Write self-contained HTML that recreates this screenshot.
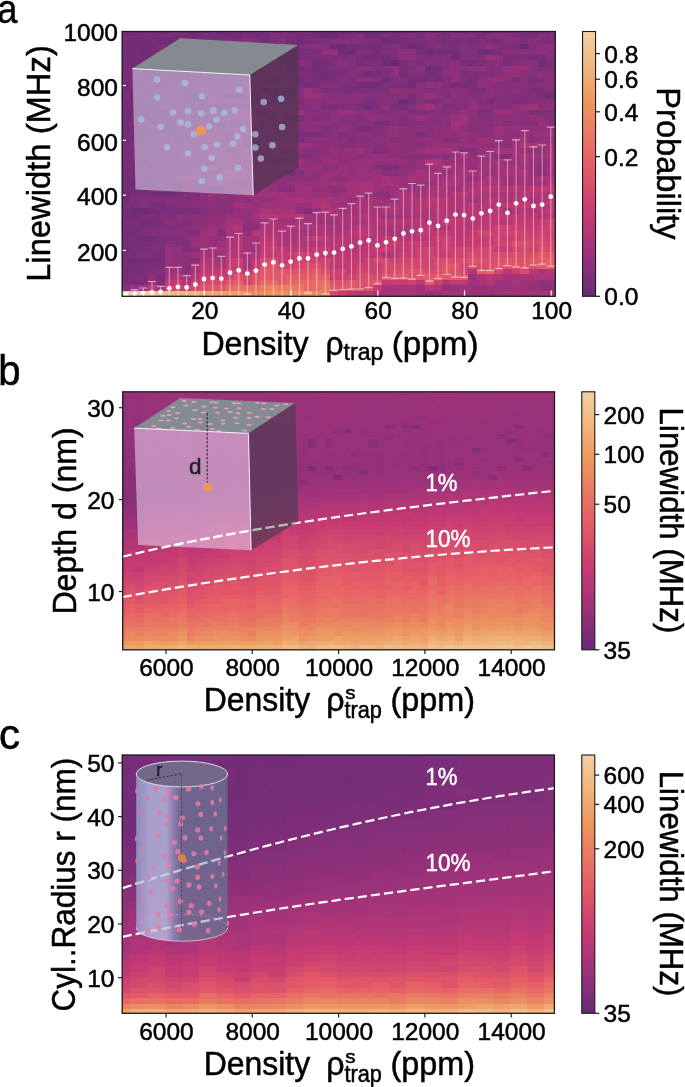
<!DOCTYPE html>
<html><head><meta charset="utf-8"><title>figure</title>
<style>html,body{margin:0;padding:0;background:#fff;width:685px;height:1087px;overflow:hidden;}
svg{display:block;font-family:"Liberation Sans", sans-serif;will-change:transform;}
text{stroke-width:0.5px;}</style></head>
<body>
<svg width="685" height="1087" viewBox="0 0 685 1087" font-family='"Liberation Sans", sans-serif'>
<defs>
<linearGradient id="cb" x1="0" y1="1" x2="0" y2="0"><stop offset="0" stop-color="#682a74"/><stop offset="0.03" stop-color="#702c78"/><stop offset="0.16" stop-color="#9c327a"/><stop offset="0.31" stop-color="#c63a73"/><stop offset="0.5" stop-color="#e65e66"/><stop offset="0.73" stop-color="#ec9660"/><stop offset="0.88" stop-color="#f0b880"/><stop offset="1" stop-color="#f4d0a5"/></linearGradient>
<clipPath id="ca"><rect x="122.1" y="31.5" width="433.2" height="264.8"/></clipPath>
<clipPath id="cbp"><rect x="122.7" y="391.8" width="431.8" height="258"/></clipPath>
<clipPath id="ccp"><rect x="122.2" y="755" width="432.2" height="258.3"/></clipPath>
<linearGradient id="cyl" x1="0" y1="0" x2="1" y2="0"><stop offset="0" stop-color="#96a3cf"/><stop offset="0.15" stop-color="#b5bce2"/><stop offset="0.33" stop-color="#b5bce2"/><stop offset="0.42" stop-color="#8b8ab6"/><stop offset="0.5" stop-color="#6e7192"/><stop offset="1" stop-color="#6a7190"/></linearGradient>
</defs>
<g clip-path="url(#ca)">
<path fill="#682a74" d="M191 27h9v6h-9zM321 33h9v5h-9zM390 60h9v6h-9zM486 27h8v6h-8z"/>
<path fill="#692a75" d="M191 60h9v6h-9zM217 44h9v5h-9zM364 27h9v6h-9zM520 44h9v5h-9z"/>
<path fill="#6b2b75" d="M200 60h8v6h-8zM234 33h9v5h-9zM338 27h9v6h-9z"/>
<path fill="#6c2b76" d="M148 110h8v5h-8zM156 110h9v5h-9zM156 66h9v5h-9zM156 60h9v6h-9zM182 71h9v6h-9zM278 49h8v6h-8zM338 44h9v5h-9zM347 49h9v6h-9zM399 99h9v5h-9zM425 66h9v5h-9z"/>
<path fill="#6d2b77" d="M139 208h9v6h-9zM165 60h9v6h-9zM191 115h9v6h-9zM295 38h9v6h-9zM330 33h8v5h-8zM373 27h9v6h-9zM382 60h8v6h-8zM382 38h8v6h-8zM399 27h9v6h-9zM408 44h8v5h-8zM425 49h9v6h-9z"/>
<path fill="#6f2c77" d="M122 115h8v6h-8zM130 208h9v6h-9zM130 27h9v6h-9zM139 181h9v5h-9zM139 159h9v6h-9zM139 132h9v5h-9zM139 104h9v6h-9zM139 99h9v5h-9zM139 60h9v6h-9zM139 44h9v5h-9zM148 60h8v6h-8zM148 44h8v5h-8zM156 121h9v5h-9zM156 38h9v6h-9zM165 126h9v6h-9zM165 110h9v5h-9zM165 55h9v5h-9zM165 38h9v6h-9zM191 38h9v6h-9zM217 66h9v5h-9zM217 33h9v5h-9zM226 66h8v5h-8zM226 33h8v5h-8zM252 143h8v5h-8zM312 66h9v5h-9zM330 44h8v5h-8zM364 33h9v5h-9zM382 55h8v5h-8zM390 38h9v6h-9zM546 93h9v6h-9z"/>
<path fill="#702c78" d="M122 269h8v5h-8zM122 176h8v5h-8zM122 110h8v5h-8zM122 82h8v6h-8zM122 49h8v6h-8zM122 44h8v5h-8zM130 258h9v5h-9zM139 137h9v6h-9zM139 93h9v6h-9zM139 49h9v6h-9zM148 93h8v6h-8zM148 66h8v5h-8zM156 192h9v5h-9zM165 192h9v5h-9zM182 88h9v5h-9zM182 27h9v6h-9zM208 55h9v5h-9zM208 44h9v5h-9zM234 104h9v6h-9zM234 71h9v6h-9zM278 55h8v5h-8zM330 27h8v6h-8zM338 49h9v6h-9zM364 104h9v6h-9zM364 82h9v6h-9zM364 71h9v6h-9zM408 27h8v6h-8zM434 66h8v5h-8zM451 55h9v5h-9zM451 27h9v6h-9zM486 49h8v6h-8zM494 27h9v6h-9zM529 27h9v6h-9zM538 27h8v6h-8z"/>
<path fill="#722c78" d="M122 241h8v6h-8zM122 186h8v6h-8zM122 181h8v5h-8zM122 170h8v6h-8zM122 137h8v6h-8zM122 126h8v6h-8zM130 104h9v6h-9zM130 99h9v5h-9zM130 49h9v6h-9zM130 38h9v6h-9zM139 27h9v6h-9zM148 165h8v5h-8zM148 121h8v5h-8zM148 115h8v6h-8zM148 71h8v6h-8zM156 203h9v5h-9zM156 115h9v6h-9zM156 27h9v6h-9zM174 71h8v6h-8zM182 60h9v6h-9zM191 49h9v6h-9zM191 33h9v5h-9zM200 27h8v6h-8zM208 104h9v6h-9zM217 104h9v6h-9zM217 27h9v6h-9zM226 104h8v6h-8zM226 44h8v5h-8zM260 38h9v6h-9zM269 49h9v6h-9zM295 33h9v5h-9zM304 82h8v6h-8zM312 60h9v6h-9zM312 33h9v5h-9zM356 27h8v6h-8zM364 55h9v5h-9zM373 49h9v6h-9zM382 77h8v5h-8zM408 82h8v6h-8zM416 44h9v5h-9zM434 49h8v6h-8zM442 49h9v6h-9zM477 49h9v6h-9zM538 60h8v6h-8zM538 55h8v5h-8z"/>
<path fill="#732c78" d="M122 247h8v5h-8zM122 236h8v5h-8zM122 214h8v5h-8zM122 197h8v6h-8zM122 192h8v5h-8zM122 99h8v5h-8zM122 55h8v5h-8zM122 33h8v5h-8zM130 186h9v6h-9zM130 181h9v5h-9zM130 176h9v5h-9zM130 137h9v6h-9zM130 132h9v5h-9zM130 110h9v5h-9zM130 93h9v6h-9zM130 88h9v5h-9zM130 82h9v6h-9zM130 66h9v5h-9zM130 60h9v6h-9zM130 55h9v5h-9zM130 33h9v5h-9zM139 236h9v5h-9zM139 115h9v6h-9zM139 110h9v5h-9zM139 66h9v5h-9zM139 55h9v5h-9zM148 236h8v5h-8zM148 208h8v6h-8zM148 154h8v5h-8zM148 104h8v6h-8zM156 93h9v6h-9zM156 82h9v6h-9zM165 44h9v5h-9zM174 137h8v6h-8zM182 93h9v6h-9zM182 66h9v5h-9zM191 93h9v6h-9zM200 104h8v6h-8zM200 55h8v5h-8zM200 38h8v6h-8zM208 121h9v5h-9zM226 93h8v6h-8zM252 99h8v5h-8zM252 44h8v5h-8zM252 33h8v5h-8zM260 44h9v5h-9zM260 33h9v5h-9zM286 88h9v5h-9zM286 66h9v5h-9zM295 77h9v5h-9zM295 66h9v5h-9zM321 71h9v6h-9zM330 71h8v6h-8zM382 27h8v6h-8zM390 27h9v6h-9zM399 71h9v6h-9zM408 77h8v5h-8zM425 71h9v6h-9zM434 77h8v5h-8zM451 49h9v6h-9zM468 60h9v6h-9z"/>
<path fill="#752d78" d="M122 258h8v5h-8zM122 208h8v6h-8zM122 165h8v5h-8zM122 132h8v5h-8zM122 88h8v5h-8zM122 66h8v5h-8zM122 60h8v6h-8zM122 38h8v6h-8zM130 230h9v6h-9zM130 214h9v5h-9zM130 115h9v6h-9zM130 44h9v5h-9zM139 258h9v5h-9zM139 219h9v6h-9zM139 186h9v6h-9zM139 71h9v6h-9zM139 38h9v6h-9zM148 181h8v5h-8zM148 159h8v6h-8zM148 99h8v5h-8zM148 49h8v6h-8zM156 148h9v6h-9zM156 55h9v5h-9zM165 148h9v6h-9zM165 121h9v5h-9zM165 82h9v6h-9zM174 44h8v5h-8zM182 132h9v5h-9zM182 33h9v5h-9zM208 77h9v5h-9zM208 71h9v6h-9zM208 60h9v6h-9zM208 33h9v5h-9zM226 71h8v6h-8zM226 49h8v6h-8zM234 93h9v6h-9zM234 44h9v5h-9zM243 49h9v6h-9zM243 44h9v5h-9zM243 33h9v5h-9zM260 27h9v6h-9zM269 77h9v5h-9zM278 44h8v5h-8zM286 60h9v6h-9zM286 55h9v5h-9zM286 38h9v6h-9zM312 71h9v6h-9zM321 77h9v5h-9zM321 60h9v6h-9zM338 33h9v5h-9zM347 44h9v5h-9zM356 82h8v6h-8zM356 55h8v5h-8zM356 44h8v5h-8zM373 82h9v6h-9zM373 71h9v6h-9zM373 44h9v5h-9zM373 33h9v5h-9zM390 33h9v5h-9zM416 77h9v5h-9zM416 49h9v6h-9zM442 33h9v5h-9zM451 82h9v6h-9zM468 77h9v5h-9zM503 27h9v6h-9zM520 33h9v5h-9zM529 55h9v5h-9zM529 33h9v5h-9z"/>
<path fill="#772d78" d="M122 274h8v6h-8zM122 263h8v6h-8zM122 143h8v5h-8zM130 252h9v6h-9zM130 148h9v6h-9zM139 241h9v6h-9zM139 176h9v5h-9zM139 154h9v5h-9zM148 137h8v6h-8zM148 132h8v5h-8zM148 38h8v6h-8zM148 33h8v5h-8zM148 27h8v6h-8zM156 208h9v6h-9zM156 154h9v5h-9zM156 143h9v5h-9zM156 126h9v6h-9zM156 71h9v6h-9zM165 99h9v5h-9zM165 71h9v6h-9zM174 126h8v6h-8zM174 66h8v5h-8zM174 38h8v6h-8zM174 33h8v5h-8zM182 208h9v6h-9zM182 77h9v5h-9zM191 99h9v5h-9zM191 66h9v5h-9zM200 115h8v6h-8zM200 99h8v5h-8zM200 66h8v5h-8zM217 121h9v5h-9zM217 93h9v6h-9zM217 71h9v6h-9zM226 27h8v6h-8zM243 55h9v5h-9zM252 27h8v6h-8zM278 93h8v6h-8zM286 33h9v5h-9zM295 82h9v6h-9zM304 49h8v6h-8zM304 33h8v5h-8zM304 27h8v6h-8zM312 77h9v5h-9zM321 66h9v5h-9zM347 88h9v5h-9zM364 44h9v5h-9zM373 55h9v5h-9zM399 104h9v6h-9zM399 82h9v6h-9zM399 38h9v6h-9zM425 77h9v5h-9zM434 71h8v6h-8zM442 27h9v6h-9zM460 82h8v6h-8zM460 27h8v6h-8zM468 38h9v6h-9zM477 27h9v6h-9zM486 99h8v5h-8zM512 99h8v5h-8zM538 66h8v5h-8z"/>
<path fill="#782d78" d="M122 280h8v5h-8zM122 230h8v6h-8zM122 225h8v5h-8zM122 159h8v6h-8zM122 154h8v5h-8zM122 148h8v6h-8zM122 121h8v5h-8zM122 104h8v6h-8zM122 77h8v5h-8zM122 71h8v6h-8zM122 27h8v6h-8zM130 280h9v5h-9zM130 269h9v5h-9zM130 263h9v6h-9zM130 247h9v5h-9zM130 241h9v6h-9zM130 225h9v5h-9zM130 165h9v5h-9zM130 159h9v6h-9zM130 126h9v6h-9zM130 77h9v5h-9zM139 269h9v5h-9zM139 263h9v6h-9zM139 214h9v5h-9zM139 170h9v6h-9zM139 88h9v5h-9zM139 82h9v6h-9zM139 33h9v5h-9zM148 258h8v5h-8zM148 192h8v5h-8zM148 170h8v6h-8zM148 148h8v6h-8zM148 82h8v6h-8zM156 258h9v5h-9zM156 252h9v6h-9zM156 33h9v5h-9zM165 154h9v5h-9zM165 93h9v6h-9zM165 66h9v5h-9zM165 27h9v6h-9zM174 186h8v6h-8zM174 132h8v5h-8zM174 110h8v5h-8zM174 99h8v5h-8zM174 93h8v6h-8zM174 88h8v5h-8zM174 60h8v6h-8zM174 55h8v5h-8zM182 38h9v6h-9zM191 126h9v6h-9zM191 121h9v5h-9zM191 77h9v5h-9zM191 55h9v5h-9zM200 159h8v6h-8zM200 126h8v6h-8zM200 77h8v5h-8zM200 33h8v5h-8zM208 88h9v5h-9zM208 66h9v5h-9zM208 27h9v6h-9zM217 55h9v5h-9zM217 38h9v6h-9zM234 55h9v5h-9zM243 66h9v5h-9zM243 27h9v6h-9zM252 49h8v6h-8zM260 99h9v5h-9zM260 49h9v6h-9zM269 93h9v6h-9zM286 170h9v6h-9zM286 49h9v6h-9zM286 44h9v5h-9zM295 137h9v6h-9zM304 66h8v5h-8zM304 38h8v6h-8zM321 27h9v6h-9zM347 27h9v6h-9zM356 60h8v6h-8zM382 121h8v5h-8zM390 104h9v6h-9zM399 44h9v5h-9zM408 99h8v5h-8zM416 33h9v5h-9zM416 27h9v6h-9zM442 38h9v6h-9zM460 60h8v6h-8zM468 82h9v6h-9zM477 33h9v5h-9zM494 38h9v6h-9zM503 55h9v5h-9zM512 55h8v5h-8zM529 88h9v5h-9z"/>
<path fill="#7a2d78" d="M122 252h8v6h-8zM130 236h9v5h-9zM130 203h9v5h-9zM130 192h9v5h-9zM130 71h9v6h-9zM139 247h9v5h-9zM139 225h9v5h-9zM148 241h8v6h-8zM148 219h8v6h-8zM148 143h8v5h-8zM148 88h8v5h-8zM156 236h9v5h-9zM156 181h9v5h-9zM156 165h9v5h-9zM156 132h9v5h-9zM156 99h9v5h-9zM156 44h9v5h-9zM165 208h9v6h-9zM165 186h9v6h-9zM165 181h9v5h-9zM165 115h9v6h-9zM174 208h8v6h-8zM174 192h8v5h-8zM174 77h8v5h-8zM182 137h9v6h-9zM182 115h9v6h-9zM182 99h9v5h-9zM182 55h9v5h-9zM182 49h9v6h-9zM182 44h9v5h-9zM191 208h9v6h-9zM191 104h9v6h-9zM191 82h9v6h-9zM217 49h9v6h-9zM226 82h8v6h-8zM234 154h9v5h-9zM234 66h9v5h-9zM243 93h9v6h-9zM252 66h8v5h-8zM252 55h8v5h-8zM260 88h9v5h-9zM269 88h9v5h-9zM269 38h9v6h-9zM278 27h8v6h-8zM295 115h9v6h-9zM295 49h9v6h-9zM304 55h8v5h-8zM312 132h9v5h-9zM312 82h9v6h-9zM312 55h9v5h-9zM312 27h9v6h-9zM321 38h9v6h-9zM330 104h8v6h-8zM330 77h8v5h-8zM338 71h9v6h-9zM347 82h9v6h-9zM347 33h9v5h-9zM356 104h8v6h-8zM364 99h9v5h-9zM373 121h9v5h-9zM373 38h9v6h-9zM382 71h8v6h-8zM390 82h9v6h-9zM399 66h9v5h-9zM399 60h9v6h-9zM399 33h9v5h-9zM434 38h8v6h-8zM451 44h9v5h-9zM451 38h9v6h-9zM460 71h8v6h-8zM477 88h9v5h-9zM486 38h8v6h-8zM494 49h9v6h-9zM503 60h9v6h-9zM512 44h8v5h-8zM529 77h9v5h-9zM546 38h9v6h-9zM546 27h9v6h-9z"/>
<path fill="#7c2e79" d="M122 219h8v6h-8zM122 203h8v5h-8zM139 274h9v6h-9zM139 230h9v6h-9zM139 165h9v5h-9zM139 148h9v6h-9zM139 126h9v6h-9zM139 77h9v5h-9zM148 203h8v5h-8zM148 55h8v5h-8zM156 219h9v6h-9zM156 176h9v5h-9zM156 104h9v6h-9zM156 77h9v5h-9zM156 49h9v6h-9zM165 236h9v5h-9zM165 176h9v5h-9zM165 132h9v5h-9zM165 88h9v5h-9zM165 49h9v6h-9zM165 33h9v5h-9zM174 170h8v6h-8zM174 165h8v5h-8zM174 104h8v6h-8zM174 82h8v6h-8zM174 27h8v6h-8zM182 192h9v5h-9zM182 121h9v5h-9zM191 230h9v6h-9zM191 181h9v5h-9zM191 159h9v6h-9zM191 110h9v5h-9zM200 181h8v5h-8zM208 38h9v6h-9zM217 82h9v6h-9zM226 132h8v5h-8zM234 77h9v5h-9zM234 49h9v6h-9zM243 99h9v5h-9zM252 71h8v6h-8zM260 77h9v5h-9zM260 66h9v5h-9zM260 60h9v6h-9zM269 55h9v5h-9zM278 159h8v6h-8zM278 60h8v6h-8zM286 71h9v6h-9zM304 71h8v6h-8zM312 38h9v6h-9zM330 60h8v6h-8zM338 88h9v5h-9zM356 88h8v5h-8zM373 88h9v5h-9zM373 60h9v6h-9zM382 165h8v5h-8zM382 82h8v6h-8zM382 44h8v5h-8zM390 55h9v5h-9zM408 93h8v6h-8zM408 38h8v6h-8zM416 132h9v5h-9zM416 60h9v6h-9zM416 38h9v6h-9zM425 27h9v6h-9zM460 77h8v5h-8zM460 55h8v5h-8zM468 88h9v5h-9zM468 71h9v6h-9zM477 71h9v6h-9zM520 55h9v5h-9zM538 93h8v6h-8zM538 88h8v5h-8zM546 33h9v5h-9z"/>
<path fill="#7e2e79" d="M122 93h8v6h-8zM130 274h9v6h-9zM130 219h9v6h-9zM130 170h9v6h-9zM130 154h9v5h-9zM130 143h9v5h-9zM130 121h9v5h-9zM139 192h9v5h-9zM139 121h9v5h-9zM148 263h8v6h-8zM148 252h8v6h-8zM148 247h8v5h-8zM148 225h8v5h-8zM148 176h8v5h-8zM148 126h8v6h-8zM156 274h9v6h-9zM156 263h9v6h-9zM156 247h9v5h-9zM156 214h9v5h-9zM156 170h9v6h-9zM156 159h9v6h-9zM156 88h9v5h-9zM165 170h9v6h-9zM165 159h9v6h-9zM174 181h8v5h-8zM174 148h8v6h-8zM174 121h8v5h-8zM174 49h8v6h-8zM182 219h9v6h-9zM182 165h9v5h-9zM182 126h9v6h-9zM182 104h9v6h-9zM182 82h9v6h-9zM191 88h9v5h-9zM200 176h8v5h-8zM200 154h8v5h-8zM208 115h9v6h-9zM217 77h9v5h-9zM217 60h9v6h-9zM226 148h8v6h-8zM226 38h8v6h-8zM234 60h9v6h-9zM252 148h8v6h-8zM260 110h9v5h-9zM260 71h9v6h-9zM269 115h9v6h-9zM269 27h9v6h-9zM278 33h8v5h-8zM286 115h9v6h-9zM286 93h9v6h-9zM295 71h9v6h-9zM295 55h9v5h-9zM295 27h9v6h-9zM304 132h8v5h-8zM304 77h8v5h-8zM312 49h9v6h-9zM321 104h9v6h-9zM321 55h9v5h-9zM330 55h8v5h-8zM338 104h9v6h-9zM338 55h9v5h-9zM356 126h8v6h-8zM356 71h8v6h-8zM364 126h9v6h-9zM364 88h9v5h-9zM364 38h9v6h-9zM373 104h9v6h-9zM434 33h8v5h-8zM434 27h8v6h-8zM442 44h9v5h-9zM468 49h9v6h-9zM477 60h9v6h-9zM503 44h9v5h-9zM512 27h8v6h-8zM520 27h9v6h-9zM538 38h8v6h-8zM546 66h9v5h-9zM546 60h9v6h-9z"/>
<path fill="#7f2e79" d="M130 197h9v6h-9zM139 252h9v6h-9zM148 186h8v6h-8zM148 77h8v5h-8zM156 241h9v6h-9zM156 225h9v5h-9zM156 186h9v6h-9zM156 137h9v6h-9zM165 225h9v5h-9zM165 165h9v5h-9zM165 137h9v6h-9zM165 77h9v5h-9zM174 154h8v5h-8zM182 241h9v6h-9zM182 197h9v6h-9zM191 71h9v6h-9zM200 121h8v5h-8zM208 186h9v6h-9zM208 159h9v6h-9zM208 126h9v6h-9zM208 82h9v6h-9zM208 49h9v6h-9zM217 186h9v6h-9zM217 126h9v6h-9zM234 121h9v5h-9zM243 143h9v5h-9zM252 77h8v5h-8zM260 148h9v6h-9zM269 60h9v6h-9zM269 44h9v5h-9zM278 132h8v5h-8zM278 66h8v5h-8zM286 148h9v6h-9zM286 132h9v5h-9zM286 104h9v6h-9zM286 82h9v6h-9zM286 77h9v5h-9zM286 27h9v6h-9zM295 132h9v5h-9zM321 126h9v6h-9zM330 88h8v5h-8zM330 66h8v5h-8zM338 132h9v5h-9zM338 82h9v6h-9zM338 66h9v5h-9zM364 60h9v6h-9zM364 49h9v6h-9zM373 148h9v6h-9zM382 110h8v5h-8zM382 88h8v5h-8zM382 49h8v6h-8zM382 33h8v5h-8zM399 115h9v6h-9zM408 110h8v5h-8zM408 66h8v5h-8zM425 44h9v5h-9zM425 38h9v6h-9zM434 60h8v6h-8zM442 104h9v6h-9zM442 93h9v6h-9zM442 77h9v5h-9zM460 38h8v6h-8zM468 44h9v5h-9zM477 110h9v5h-9zM477 38h9v6h-9zM512 60h8v6h-8zM512 33h8v5h-8zM520 99h9v5h-9zM520 93h9v6h-9zM520 38h9v6h-9zM529 93h9v6h-9zM538 110h8v5h-8zM538 77h8v5h-8zM546 110h9v5h-9z"/>
<path fill="#812e79" d="M139 280h9v5h-9zM139 143h9v5h-9zM148 269h8v5h-8zM148 214h8v5h-8zM148 197h8v6h-8zM156 280h9v5h-9zM165 214h9v5h-9zM165 203h9v5h-9zM165 104h9v6h-9zM174 236h8v5h-8zM174 225h8v5h-8zM182 247h9v5h-9zM182 170h9v6h-9zM182 148h9v6h-9zM182 110h9v5h-9zM191 192h9v5h-9zM191 165h9v5h-9zM191 143h9v5h-9zM191 137h9v6h-9zM191 44h9v5h-9zM200 93h8v6h-8zM200 88h8v5h-8zM200 49h8v6h-8zM200 44h8v5h-8zM208 176h9v5h-9zM208 143h9v5h-9zM208 93h9v6h-9zM217 88h9v5h-9zM226 121h8v5h-8zM234 38h9v6h-9zM234 27h9v6h-9zM260 55h9v5h-9zM269 33h9v5h-9zM278 71h8v6h-8zM286 137h9v6h-9zM295 99h9v5h-9zM295 44h9v5h-9zM304 154h8v5h-8zM304 60h8v6h-8zM312 115h9v6h-9zM321 132h9v5h-9zM321 88h9v5h-9zM330 93h8v6h-8zM347 137h9v6h-9zM347 77h9v5h-9zM356 115h8v6h-8zM373 126h9v6h-9zM373 99h9v5h-9zM373 66h9v5h-9zM382 66h8v5h-8zM390 165h9v5h-9zM390 77h9v5h-9zM390 49h9v6h-9zM399 121h9v5h-9zM416 110h9v5h-9zM416 55h9v5h-9zM425 99h9v5h-9zM425 55h9v5h-9zM434 99h8v5h-8zM434 55h8v5h-8zM442 82h9v6h-9zM451 104h9v6h-9zM468 33h9v5h-9zM468 27h9v6h-9zM486 71h8v6h-8zM486 66h8v5h-8zM494 44h9v5h-9zM503 121h9v5h-9zM512 93h8v6h-8zM512 77h8v5h-8zM529 110h9v5h-9zM529 82h9v6h-9zM529 44h9v5h-9z"/>
<path fill="#832f79" d="M139 197h9v6h-9zM156 230h9v6h-9zM156 197h9v6h-9zM165 230h9v6h-9zM165 143h9v5h-9zM174 219h8v6h-8zM174 203h8v5h-8zM174 197h8v6h-8zM191 197h9v6h-9zM191 148h9v6h-9zM191 132h9v5h-9zM200 208h8v6h-8zM200 82h8v6h-8zM200 71h8v6h-8zM226 110h8v5h-8zM226 77h8v5h-8zM226 60h8v6h-8zM243 77h9v5h-9zM243 71h9v6h-9zM243 60h9v6h-9zM252 137h8v6h-8zM252 82h8v6h-8zM260 154h9v5h-9zM269 132h9v5h-9zM278 104h8v6h-8zM278 99h8v5h-8zM278 82h8v6h-8zM278 38h8v6h-8zM286 176h9v5h-9zM286 99h9v5h-9zM304 104h8v6h-8zM312 110h9v5h-9zM321 115h9v6h-9zM321 82h9v6h-9zM330 82h8v6h-8zM330 38h8v6h-8zM338 93h9v6h-9zM347 132h9v5h-9zM347 104h9v6h-9zM347 71h9v6h-9zM347 55h9v5h-9zM356 137h8v6h-8zM356 33h8v5h-8zM364 121h9v5h-9zM373 143h9v5h-9zM373 77h9v5h-9zM382 148h8v6h-8zM390 121h9v5h-9zM390 99h9v5h-9zM416 99h9v5h-9zM425 110h9v5h-9zM425 88h9v5h-9zM442 55h9v5h-9zM460 49h8v6h-8zM460 44h8v5h-8zM468 148h9v6h-9zM468 93h9v6h-9zM468 55h9v5h-9zM477 99h9v5h-9zM486 110h8v5h-8zM486 33h8v5h-8zM494 66h9v5h-9zM503 88h9v5h-9zM503 82h9v6h-9zM503 38h9v6h-9zM520 121h9v5h-9zM529 71h9v6h-9zM529 66h9v5h-9zM529 49h9v6h-9zM546 88h9v5h-9zM546 55h9v5h-9z"/>
<path fill="#842f79" d="M156 269h9v5h-9zM165 197h9v6h-9zM174 159h8v6h-8zM174 115h8v6h-8zM182 230h9v6h-9zM182 181h9v5h-9zM182 159h9v6h-9zM182 143h9v5h-9zM191 219h9v6h-9zM200 165h8v5h-8zM200 148h8v6h-8zM200 137h8v6h-8zM217 137h9v6h-9zM217 132h9v5h-9zM217 110h9v5h-9zM217 99h9v5h-9zM234 181h9v5h-9zM243 137h9v6h-9zM243 126h9v6h-9zM243 121h9v5h-9zM243 88h9v5h-9zM252 110h8v5h-8zM252 93h8v6h-8zM252 88h8v5h-8zM252 38h8v6h-8zM269 159h9v6h-9zM269 121h9v5h-9zM278 186h8v6h-8zM278 88h8v5h-8zM286 154h9v5h-9zM286 121h9v5h-9zM295 170h9v6h-9zM295 121h9v5h-9zM312 148h9v6h-9zM321 44h9v5h-9zM330 121h8v5h-8zM338 77h9v5h-9zM338 38h9v6h-9zM347 121h9v5h-9zM347 66h9v5h-9zM347 60h9v6h-9zM356 99h8v5h-8zM356 49h8v6h-8zM356 38h8v6h-8zM364 137h9v6h-9zM364 93h9v6h-9zM373 165h9v5h-9zM373 93h9v6h-9zM382 170h8v6h-8zM390 44h9v5h-9zM408 71h8v6h-8zM416 154h9v5h-9zM416 121h9v5h-9zM416 88h9v5h-9zM416 71h9v6h-9zM425 60h9v6h-9zM434 110h8v5h-8zM434 88h8v5h-8zM442 110h9v5h-9zM442 66h9v5h-9zM442 60h9v6h-9zM468 126h9v6h-9zM477 132h9v5h-9zM477 44h9v5h-9zM494 99h9v5h-9zM503 99h9v5h-9zM503 33h9v5h-9zM529 38h9v6h-9zM538 33h8v5h-8zM546 115h9v6h-9z"/>
<path fill="#862f79" d="M148 230h8v6h-8zM174 241h8v6h-8zM174 143h8v5h-8zM182 225h9v5h-9zM182 203h9v5h-9zM200 203h8v5h-8zM200 186h8v6h-8zM208 170h9v6h-9zM208 110h9v5h-9zM217 143h9v5h-9zM234 82h9v6h-9zM243 159h9v6h-9zM243 104h9v6h-9zM260 82h9v6h-9zM269 137h9v6h-9zM269 99h9v5h-9zM269 66h9v5h-9zM295 154h9v5h-9zM295 126h9v6h-9zM295 104h9v6h-9zM304 208h8v6h-8zM304 148h8v6h-8zM312 88h9v5h-9zM321 110h9v5h-9zM347 143h9v5h-9zM356 121h8v5h-8zM373 110h9v5h-9zM382 93h8v6h-8zM390 93h9v6h-9zM399 77h9v5h-9zM408 121h8v5h-8zM408 60h8v6h-8zM408 33h8v5h-8zM416 143h9v5h-9zM425 154h9v5h-9zM434 121h8v5h-8zM434 115h8v6h-8zM442 137h9v6h-9zM442 88h9v5h-9zM451 137h9v6h-9zM460 148h8v6h-8zM460 104h8v6h-8zM460 99h8v5h-8zM477 55h9v5h-9zM486 115h8v6h-8zM486 104h8v6h-8zM494 104h9v6h-9zM494 93h9v6h-9zM503 154h9v5h-9zM503 104h9v6h-9zM503 93h9v6h-9zM512 38h8v6h-8zM529 60h9v6h-9zM538 99h8v5h-8z"/>
<path fill="#882f79" d="M139 203h9v5h-9zM165 241h9v6h-9zM182 214h9v5h-9zM191 203h9v5h-9zM191 154h9v5h-9zM200 143h8v5h-8zM200 132h8v5h-8zM200 110h8v5h-8zM208 137h9v6h-9zM208 132h9v5h-9zM208 99h9v5h-9zM217 208h9v6h-9zM217 203h9v5h-9zM217 159h9v6h-9zM217 115h9v6h-9zM226 154h8v5h-8zM226 137h8v6h-8zM226 88h8v5h-8zM226 55h8v5h-8zM234 126h9v6h-9zM234 115h9v6h-9zM234 88h9v5h-9zM243 225h9v5h-9zM243 154h9v5h-9zM260 126h9v6h-9zM269 71h9v6h-9zM278 121h8v5h-8zM295 93h9v6h-9zM304 44h8v5h-8zM321 148h9v6h-9zM321 99h9v5h-9zM330 126h8v6h-8zM330 99h8v5h-8zM338 143h9v5h-9zM338 60h9v6h-9zM347 93h9v6h-9zM347 38h9v6h-9zM356 110h8v5h-8zM373 132h9v5h-9zM382 126h8v6h-8zM390 137h9v6h-9zM390 115h9v6h-9zM390 110h9v5h-9zM399 154h9v5h-9zM408 104h8v6h-8zM416 82h9v6h-9zM425 132h9v5h-9zM434 44h8v5h-8zM451 99h9v5h-9zM451 60h9v6h-9zM451 33h9v5h-9zM460 66h8v5h-8zM477 77h9v5h-9zM486 132h8v5h-8zM494 88h9v5h-9zM494 82h9v6h-9zM494 60h9v6h-9zM512 49h8v6h-8zM520 88h9v5h-9zM520 77h9v5h-9zM520 71h9v6h-9zM520 49h9v6h-9zM529 121h9v5h-9zM529 99h9v5h-9zM546 82h9v6h-9zM546 49h9v6h-9z"/>
<path fill="#892f79" d="M122 285h8v6h-8zM165 219h9v6h-9zM174 230h8v6h-8zM182 263h9v6h-9zM182 236h9v5h-9zM182 186h9v6h-9zM191 186h9v6h-9zM191 170h9v6h-9zM200 197h8v6h-8zM208 148h9v6h-9zM217 230h9v6h-9zM217 148h9v6h-9zM234 99h9v5h-9zM243 181h9v5h-9zM252 154h8v5h-8zM260 121h9v5h-9zM269 110h9v5h-9zM269 82h9v6h-9zM278 77h8v5h-8zM286 186h9v6h-9zM286 126h9v6h-9zM295 88h9v5h-9zM295 60h9v6h-9zM304 110h8v5h-8zM312 154h9v5h-9zM338 121h9v5h-9zM338 115h9v6h-9zM338 99h9v5h-9zM347 126h9v6h-9zM347 115h9v6h-9zM364 66h9v5h-9zM382 99h8v5h-8zM390 170h9v6h-9zM408 159h8v6h-8zM408 154h8v5h-8zM425 126h9v6h-9zM442 154h9v5h-9zM451 88h9v5h-9zM460 93h8v6h-8zM460 33h8v5h-8zM468 121h9v5h-9zM477 126h9v6h-9zM477 121h9v5h-9zM477 115h9v6h-9zM477 104h9v6h-9zM477 93h9v6h-9zM486 121h8v5h-8zM486 93h8v6h-8zM486 60h8v6h-8zM494 154h9v5h-9zM494 71h9v6h-9zM512 82h8v6h-8zM520 82h9v6h-9zM520 60h9v6h-9zM538 82h8v6h-8zM546 99h9v5h-9zM546 77h9v5h-9z"/>
<path fill="#8b3079" d="M174 214h8v5h-8zM174 176h8v5h-8zM182 258h9v5h-9zM182 252h9v6h-9zM182 154h9v5h-9zM191 258h9v5h-9zM191 247h9v5h-9zM200 219h8v6h-8zM200 170h8v6h-8zM208 208h9v6h-9zM217 197h9v6h-9zM217 165h9v5h-9zM226 165h8v5h-8zM226 143h8v5h-8zM226 126h8v6h-8zM226 115h8v6h-8zM234 148h9v6h-9zM234 132h9v5h-9zM243 115h9v6h-9zM243 82h9v6h-9zM243 38h9v6h-9zM252 60h8v6h-8zM260 137h9v6h-9zM260 115h9v6h-9zM260 93h9v6h-9zM278 148h8v6h-8zM278 115h8v6h-8zM295 148h9v6h-9zM304 137h8v6h-8zM304 126h8v6h-8zM304 121h8v5h-8zM304 99h8v5h-8zM312 159h9v6h-9zM312 104h9v6h-9zM312 99h9v5h-9zM312 44h9v5h-9zM321 165h9v5h-9zM321 137h9v6h-9zM321 121h9v5h-9zM330 165h8v5h-8zM330 132h8v5h-8zM338 137h9v6h-9zM356 93h8v6h-8zM356 77h8v5h-8zM382 143h8v5h-8zM382 132h8v5h-8zM390 154h9v5h-9zM399 137h9v6h-9zM399 132h9v5h-9zM399 126h9v6h-9zM399 93h9v6h-9zM399 88h9v5h-9zM399 49h9v6h-9zM408 165h8v5h-8zM408 143h8v5h-8zM408 88h8v5h-8zM416 93h9v6h-9zM416 66h9v5h-9zM425 121h9v5h-9zM425 33h9v5h-9zM434 126h8v6h-8zM434 93h8v6h-8zM442 126h9v6h-9zM442 115h9v6h-9zM442 99h9v5h-9zM442 71h9v6h-9zM460 126h8v6h-8zM460 88h8v5h-8zM468 110h9v5h-9zM468 66h9v5h-9zM486 77h8v5h-8zM494 115h9v6h-9zM503 132h9v5h-9zM503 49h9v6h-9zM512 132h8v5h-8zM538 285h8v6h-8z"/>
<path fill="#8d3079" d="M191 225h9v5h-9zM191 214h9v5h-9zM208 203h9v5h-9zM208 154h9v5h-9zM226 208h8v6h-8zM226 192h8v5h-8zM226 181h8v5h-8zM226 99h8v5h-8zM234 159h9v6h-9zM234 143h9v5h-9zM234 110h9v5h-9zM243 197h9v6h-9zM243 110h9v5h-9zM252 186h8v6h-8zM269 126h9v6h-9zM278 110h8v5h-8zM286 110h9v5h-9zM304 159h8v6h-8zM312 137h9v6h-9zM356 143h8v5h-8zM356 66h8v5h-8zM364 132h9v5h-9zM364 115h9v6h-9zM364 110h9v5h-9zM382 104h8v6h-8zM390 71h9v6h-9zM390 66h9v5h-9zM399 165h9v5h-9zM399 148h9v6h-9zM399 110h9v5h-9zM408 137h8v6h-8zM408 132h8v5h-8zM434 154h8v5h-8zM442 121h9v5h-9zM451 110h9v5h-9zM486 126h8v6h-8zM486 88h8v5h-8zM494 33h9v5h-9zM503 143h9v5h-9zM512 115h8v6h-8zM512 88h8v5h-8zM529 137h9v6h-9zM538 170h8v6h-8zM538 104h8v6h-8zM538 49h8v6h-8zM538 44h8v5h-8zM546 285h9v6h-9zM546 121h9v5h-9zM546 104h9v6h-9zM546 71h9v6h-9z"/>
<path fill="#8e3079" d="M182 269h9v5h-9zM200 214h8v5h-8zM217 214h9v5h-9zM217 154h9v5h-9zM226 203h8v5h-8zM226 197h8v6h-8zM226 186h8v6h-8zM226 159h8v6h-8zM234 176h9v5h-9zM243 165h9v5h-9zM252 225h8v5h-8zM252 126h8v6h-8zM260 159h9v6h-9zM269 181h9v5h-9zM269 104h9v6h-9zM278 181h8v5h-8zM278 170h8v6h-8zM286 159h9v6h-9zM295 176h9v5h-9zM304 176h8v5h-8zM304 115h8v6h-8zM312 170h9v6h-9zM312 143h9v5h-9zM312 126h9v6h-9zM312 121h9v5h-9zM321 143h9v5h-9zM321 93h9v6h-9zM330 186h8v6h-8zM330 49h8v6h-8zM338 176h9v5h-9zM347 99h9v5h-9zM356 132h8v5h-8zM364 143h9v5h-9zM364 77h9v5h-9zM373 192h9v5h-9zM373 137h9v6h-9zM373 115h9v6h-9zM382 192h8v5h-8zM390 148h9v6h-9zM399 143h9v5h-9zM408 126h8v6h-8zM408 115h8v6h-8zM408 49h8v6h-8zM416 126h9v6h-9zM425 115h9v6h-9zM434 82h8v6h-8zM451 66h9v5h-9zM468 137h9v6h-9zM468 132h9v5h-9zM468 115h9v6h-9zM486 143h8v5h-8zM486 82h8v6h-8zM503 115h9v6h-9zM512 121h8v5h-8zM520 115h9v6h-9zM520 110h9v5h-9zM538 280h8v5h-8zM538 115h8v6h-8zM538 71h8v6h-8zM546 44h9v5h-9z"/>
<path fill="#903079" d="M148 274h8v6h-8zM174 252h8v6h-8zM208 219h9v6h-9zM208 214h9v5h-9zM208 181h9v5h-9zM217 181h9v5h-9zM252 170h8v6h-8zM252 159h8v6h-8zM260 181h9v5h-9zM260 132h9v5h-9zM260 104h9v6h-9zM278 176h8v5h-8zM278 137h8v6h-8zM312 176h9v5h-9zM330 176h8v5h-8zM330 143h8v5h-8zM330 137h8v6h-8zM330 115h8v6h-8zM330 110h8v5h-8zM338 159h9v6h-9zM338 154h9v5h-9zM338 126h9v6h-9zM356 154h8v5h-8zM364 148h9v6h-9zM382 137h8v6h-8zM382 115h8v6h-8zM390 88h9v5h-9zM399 55h9v5h-9zM408 148h8v6h-8zM408 55h8v5h-8zM425 137h9v6h-9zM434 104h8v6h-8zM451 93h9v6h-9zM451 71h9v6h-9zM468 154h9v5h-9zM494 143h9v5h-9zM503 77h9v5h-9zM503 71h9v6h-9zM538 165h8v5h-8z"/>
<path fill="#92317a" d="M200 225h8v5h-8zM200 192h8v5h-8zM208 197h9v6h-9zM217 192h9v5h-9zM217 170h9v6h-9zM234 186h9v6h-9zM234 165h9v5h-9zM234 137h9v6h-9zM243 132h9v5h-9zM252 121h8v5h-8zM252 104h8v6h-8zM260 170h9v6h-9zM269 186h9v6h-9zM269 154h9v5h-9zM312 186h9v6h-9zM338 186h9v6h-9zM338 148h9v6h-9zM364 154h9v5h-9zM390 132h9v5h-9zM399 170h9v6h-9zM416 137h9v6h-9zM416 104h9v6h-9zM425 291h9v5h-9zM425 143h9v5h-9zM425 82h9v6h-9zM434 132h8v5h-8zM442 132h9v5h-9zM451 132h9v5h-9zM451 77h9v5h-9zM468 99h9v5h-9zM477 82h9v6h-9zM477 66h9v5h-9zM486 291h8v5h-8zM486 44h8v5h-8zM494 121h9v5h-9zM503 126h9v6h-9zM512 110h8v5h-8zM529 126h9v6h-9zM546 280h9v5h-9z"/>
<path fill="#94317a" d="M174 263h8v6h-8zM174 258h8v5h-8zM174 247h8v5h-8zM191 236h9v5h-9zM191 176h9v5h-9zM217 236h9v5h-9zM234 197h9v6h-9zM234 192h9v5h-9zM243 214h9v5h-9zM243 148h9v6h-9zM252 203h8v5h-8zM252 165h8v5h-8zM252 132h8v5h-8zM260 197h9v6h-9zM260 165h9v5h-9zM269 165h9v5h-9zM278 143h8v5h-8zM286 181h9v5h-9zM295 165h9v5h-9zM304 170h8v6h-8zM321 154h9v5h-9zM330 154h8v5h-8zM330 148h8v6h-8zM347 165h9v5h-9zM347 110h9v5h-9zM382 159h8v6h-8zM382 154h8v5h-8zM390 159h9v6h-9zM390 143h9v5h-9zM390 126h9v6h-9zM399 176h9v5h-9zM416 159h9v6h-9zM434 137h8v6h-8zM442 285h9v6h-9zM460 137h8v6h-8zM468 176h9v5h-9zM468 165h9v5h-9zM468 104h9v6h-9zM503 159h9v6h-9zM503 66h9v5h-9zM512 126h8v6h-8zM512 104h8v6h-8zM512 71h8v6h-8zM538 159h8v6h-8zM538 148h8v6h-8z"/>
<path fill="#95317a" d="M208 165h9v5h-9zM217 219h9v6h-9zM234 208h9v6h-9zM243 219h9v6h-9zM243 208h9v6h-9zM243 186h9v6h-9zM243 176h9v5h-9zM252 181h8v5h-8zM252 115h8v6h-8zM269 197h9v6h-9zM269 170h9v6h-9zM278 154h8v5h-8zM286 143h9v5h-9zM295 208h9v6h-9zM304 165h8v5h-8zM321 170h9v6h-9zM321 49h9v6h-9zM330 192h8v5h-8zM347 170h9v6h-9zM347 159h9v6h-9zM347 154h9v5h-9zM347 148h9v6h-9zM356 159h8v6h-8zM373 159h9v6h-9zM382 186h8v6h-8zM399 181h9v5h-9zM442 143h9v5h-9zM460 143h8v5h-8zM468 143h9v5h-9zM494 137h9v6h-9zM494 55h9v5h-9zM503 137h9v6h-9zM529 115h9v6h-9zM538 126h8v6h-8zM546 137h9v6h-9z"/>
<path fill="#97317a" d="M165 263h9v6h-9zM165 258h9v5h-9zM165 252h9v6h-9zM165 247h9v5h-9zM191 241h9v6h-9zM208 241h9v6h-9zM208 236h9v5h-9zM217 225h9v5h-9zM243 230h9v6h-9zM243 170h9v6h-9zM252 219h8v6h-8zM260 143h9v5h-9zM295 203h9v5h-9zM304 203h8v5h-8zM312 208h9v6h-9zM312 192h9v5h-9zM312 93h9v6h-9zM321 186h9v6h-9zM321 159h9v6h-9zM338 203h9v5h-9zM338 170h9v6h-9zM347 176h9v5h-9zM356 165h8v5h-8zM364 192h9v5h-9zM364 170h9v6h-9zM373 170h9v6h-9zM399 159h9v6h-9zM416 165h9v5h-9zM425 93h9v6h-9zM442 159h9v6h-9zM451 285h9v6h-9zM451 154h9v5h-9zM477 154h9v5h-9zM477 148h9v6h-9zM486 55h8v5h-8zM494 110h9v5h-9zM494 77h9v5h-9zM520 126h9v6h-9zM520 104h9v6h-9zM529 285h9v6h-9zM529 148h9v6h-9zM529 132h9v5h-9zM538 137h8v6h-8zM538 121h8v5h-8z"/>
<path fill="#99327a" d="M130 285h9v6h-9zM234 214h9v5h-9zM234 170h9v6h-9zM252 176h8v5h-8zM260 186h9v6h-9zM269 148h9v6h-9zM286 192h9v5h-9zM295 110h9v5h-9zM304 181h8v5h-8zM304 93h8v6h-8zM304 88h8v5h-8zM312 181h9v5h-9zM338 110h9v5h-9zM356 176h8v5h-8zM364 165h9v5h-9zM373 154h9v5h-9zM408 186h8v6h-8zM416 181h9v5h-9zM416 148h9v6h-9zM416 115h9v6h-9zM425 181h9v5h-9zM434 291h8v5h-8zM434 170h8v6h-8zM451 148h9v6h-9zM451 115h9v6h-9zM460 121h8v5h-8zM468 274h9v6h-9zM468 159h9v6h-9zM477 291h9v5h-9zM477 143h9v5h-9zM494 132h9v5h-9zM503 285h9v6h-9zM503 176h9v5h-9zM520 66h9v5h-9zM529 170h9v6h-9zM529 165h9v5h-9zM546 126h9v6h-9z"/>
<path fill="#9a327a" d="M191 252h9v6h-9zM208 192h9v5h-9zM217 252h9v6h-9zM226 214h8v5h-8zM269 143h9v5h-9zM278 126h8v6h-8zM295 143h9v5h-9zM304 143h8v5h-8zM321 192h9v5h-9zM330 159h8v6h-8zM338 165h9v5h-9zM347 197h9v6h-9zM356 170h8v6h-8zM382 197h8v6h-8zM390 197h9v6h-9zM408 181h8v5h-8zM416 285h9v6h-9zM434 143h8v5h-8zM442 170h9v6h-9zM451 143h9v5h-9zM451 126h9v6h-9zM460 132h8v5h-8zM460 110h8v5h-8zM468 285h9v6h-9zM477 285h9v6h-9zM486 285h8v6h-8zM486 170h8v6h-8zM486 137h8v6h-8zM503 110h9v5h-9zM512 159h8v6h-8zM520 148h9v6h-9zM520 137h9v6h-9zM520 132h9v5h-9zM529 280h9v5h-9zM529 159h9v6h-9zM538 154h8v5h-8zM538 132h8v5h-8zM546 143h9v5h-9z"/>
<path fill="#9c327a" d="M182 176h9v5h-9zM200 247h8v5h-8zM217 176h9v5h-9zM252 208h8v6h-8zM252 197h8v6h-8zM295 186h9v6h-9zM295 159h9v6h-9zM312 165h9v5h-9zM330 219h8v6h-8zM338 192h9v5h-9zM338 181h9v5h-9zM364 176h9v5h-9zM364 159h9v6h-9zM373 181h9v5h-9zM373 176h9v5h-9zM416 186h9v6h-9zM425 165h9v5h-9zM460 159h8v6h-8zM468 291h9v5h-9zM477 137h9v6h-9zM486 148h8v6h-8zM494 285h9v6h-9zM503 181h9v5h-9zM546 170h9v6h-9z"/>
<path fill="#9d327a" d="M200 236h8v5h-8zM200 230h8v6h-8zM208 225h9v5h-9zM226 176h8v5h-8zM252 192h8v5h-8zM269 203h9v5h-9zM321 176h9v5h-9zM330 203h8v5h-8zM373 186h9v6h-9zM390 176h9v5h-9zM408 170h8v6h-8zM434 181h8v5h-8zM434 176h8v5h-8zM460 291h8v5h-8zM486 159h8v6h-8zM486 154h8v5h-8zM494 291h9v5h-9zM512 66h8v5h-8zM520 285h9v6h-9zM538 143h8v5h-8z"/>
<path fill="#9f337a" d="M148 280h8v5h-8zM174 269h8v5h-8zM200 241h8v6h-8zM217 241h9v6h-9zM226 170h8v6h-8zM243 247h9v5h-9zM260 192h9v5h-9zM260 176h9v5h-9zM286 165h9v5h-9zM295 192h9v5h-9zM295 181h9v5h-9zM304 230h8v6h-8zM304 192h8v5h-8zM321 181h9v5h-9zM330 170h8v6h-8zM356 148h8v6h-8zM390 192h9v5h-9zM390 186h9v6h-9zM399 186h9v6h-9zM451 159h9v6h-9zM477 159h9v6h-9zM512 285h8v6h-8zM512 154h8v5h-8zM529 104h9v6h-9zM538 181h8v5h-8z"/>
<path fill="#a03379" d="M208 230h9v6h-9zM243 236h9v5h-9zM260 203h9v5h-9zM269 176h9v5h-9zM286 219h9v6h-9zM286 203h9v5h-9zM304 186h8v6h-8zM347 186h9v6h-9zM347 181h9v5h-9zM356 192h8v5h-8zM373 197h9v6h-9zM425 170h9v6h-9zM434 165h8v5h-8zM460 176h8v5h-8zM460 115h8v6h-8zM468 280h9v5h-9zM477 165h9v5h-9zM494 280h9v5h-9zM494 148h9v6h-9zM494 126h9v6h-9zM512 274h8v6h-8zM512 176h8v5h-8zM512 148h8v6h-8zM520 176h9v5h-9zM520 165h9v5h-9zM529 181h9v5h-9zM546 148h9v6h-9zM546 132h9v5h-9z"/>
<path fill="#a23379" d="M234 203h9v5h-9zM243 241h9v6h-9zM243 203h9v5h-9zM252 247h8v5h-8zM269 192h9v5h-9zM278 219h8v6h-8zM321 219h9v6h-9zM330 225h8v5h-8zM330 181h8v5h-8zM347 203h9v5h-9zM382 291h8v5h-8zM416 291h9v5h-9zM416 176h9v5h-9zM451 186h9v6h-9zM451 170h9v6h-9zM460 285h8v6h-8zM486 165h8v5h-8zM494 176h9v5h-9zM494 165h9v5h-9zM503 274h9v6h-9zM503 165h9v5h-9zM529 154h9v5h-9zM546 165h9v5h-9zM546 159h9v6h-9z"/>
<path fill="#a33379" d="M226 219h8v6h-8zM243 252h9v6h-9zM252 236h8v5h-8zM260 219h9v6h-9zM278 203h8v5h-8zM278 197h8v6h-8zM278 165h8v5h-8zM286 197h9v6h-9zM304 197h8v6h-8zM312 219h9v6h-9zM312 214h9v5h-9zM312 197h9v6h-9zM338 225h9v5h-9zM338 197h9v6h-9zM347 208h9v6h-9zM347 192h9v5h-9zM356 197h8v6h-8zM373 203h9v5h-9zM382 214h8v5h-8zM382 203h8v5h-8zM390 214h9v5h-9zM425 104h9v6h-9zM434 148h8v6h-8zM442 148h9v6h-9zM460 181h8v5h-8zM460 165h8v5h-8zM494 170h9v6h-9zM503 280h9v5h-9zM512 291h8v5h-8zM512 143h8v5h-8zM512 137h8v6h-8zM520 280h9v5h-9zM529 176h9v5h-9z"/>
<path fill="#a43479" d="M156 285h9v6h-9zM165 269h9v5h-9zM182 274h9v6h-9zM208 247h9v5h-9zM234 219h9v6h-9zM243 192h9v5h-9zM252 214h8v5h-8zM278 192h8v5h-8zM304 219h8v6h-8zM304 214h8v5h-8zM330 197h8v6h-8zM356 208h8v6h-8zM356 181h8v5h-8zM382 181h8v5h-8zM390 181h9v5h-9zM399 214h9v5h-9zM399 208h9v6h-9zM416 192h9v5h-9zM416 170h9v6h-9zM425 148h9v6h-9zM451 165h9v5h-9zM451 121h9v5h-9zM468 181h9v5h-9zM477 176h9v5h-9zM503 291h9v5h-9zM503 170h9v6h-9zM503 148h9v6h-9zM520 291h9v5h-9zM529 291h9v5h-9z"/>
<path fill="#a63478" d="M217 258h9v5h-9zM226 225h8v5h-8zM243 263h9v6h-9zM252 241h8v6h-8zM278 230h8v6h-8zM286 208h9v6h-9zM321 214h9v5h-9zM338 208h9v6h-9zM356 219h8v6h-8zM356 186h8v6h-8zM390 291h9v5h-9zM408 176h8v5h-8zM434 192h8v5h-8zM442 176h9v5h-9zM451 291h9v5h-9zM460 170h8v6h-8zM468 197h9v6h-9zM468 170h9v6h-9zM477 280h9v5h-9zM477 170h9v6h-9zM494 159h9v6h-9zM503 197h9v6h-9zM512 181h8v5h-8zM512 165h8v5h-8zM520 159h9v6h-9zM538 291h8v5h-8z"/>
<path fill="#a73478" d="M139 285h9v6h-9zM165 274h9v6h-9zM191 263h9v6h-9zM200 252h8v6h-8zM208 252h9v6h-9zM217 247h9v5h-9zM269 208h9v6h-9zM286 230h9v6h-9zM321 197h9v6h-9zM338 214h9v5h-9zM364 197h9v6h-9zM373 208h9v6h-9zM382 285h8v6h-8zM382 176h8v5h-8zM390 285h9v6h-9zM390 230h9v6h-9zM425 176h9v5h-9zM503 208h9v6h-9zM520 274h9v6h-9zM520 154h9v5h-9zM546 154h9v5h-9z"/>
<path fill="#a93478" d="M191 269h9v5h-9zM200 258h8v5h-8zM226 230h8v6h-8zM278 208h8v6h-8zM295 230h9v6h-9zM295 197h9v6h-9zM312 203h9v5h-9zM330 230h8v6h-8zM330 214h8v5h-8zM364 186h9v6h-9zM364 181h9v5h-9zM399 230h9v6h-9zM399 225h9v5h-9zM408 214h8v5h-8zM425 186h9v6h-9zM434 159h8v6h-8zM442 291h9v5h-9zM442 165h9v5h-9zM520 181h9v5h-9zM529 197h9v6h-9zM546 291h9v5h-9z"/>
<path fill="#aa3578" d="M217 263h9v6h-9zM226 247h8v5h-8zM260 208h9v6h-9zM321 225h9v5h-9zM321 208h9v6h-9zM330 208h8v6h-8zM347 225h9v5h-9zM373 225h9v5h-9zM390 203h9v5h-9zM399 291h9v5h-9zM399 203h9v5h-9zM408 285h8v6h-8zM408 192h8v5h-8zM442 192h9v5h-9zM451 208h9v6h-9zM477 274h9v6h-9zM477 192h9v5h-9zM486 181h8v5h-8zM494 192h9v5h-9zM512 170h8v6h-8z"/>
<path fill="#ab3577" d="M226 236h8v5h-8zM234 230h9v6h-9zM269 219h9v6h-9zM278 214h8v5h-8zM295 236h9v5h-9zM295 219h9v6h-9zM304 241h8v6h-8zM304 225h8v5h-8zM312 230h9v6h-9zM347 219h9v6h-9zM347 214h9v5h-9zM356 203h8v5h-8zM373 291h9v5h-9zM382 230h8v6h-8zM382 208h8v6h-8zM390 225h9v5h-9zM399 285h9v6h-9zM399 197h9v6h-9zM416 214h9v5h-9zM425 208h9v6h-9zM434 186h8v6h-8zM460 197h8v6h-8zM460 186h8v6h-8zM460 154h8v5h-8zM477 197h9v6h-9zM494 181h9v5h-9zM503 192h9v5h-9zM512 280h8v5h-8zM529 274h9v6h-9zM538 269h8v5h-8zM538 176h8v5h-8zM546 176h9v5h-9z"/>
<path fill="#ad3577" d="M226 241h8v6h-8zM243 258h9v5h-9zM278 236h8v5h-8zM286 236h9v5h-9zM338 219h9v6h-9zM364 208h9v6h-9zM364 203h9v5h-9zM373 214h9v5h-9zM382 252h8v6h-8zM382 225h8v5h-8zM399 192h9v5h-9zM425 214h9v5h-9zM425 159h9v6h-9zM442 186h9v6h-9zM468 192h9v5h-9zM512 192h8v5h-8zM529 143h9v5h-9z"/>
<path fill="#ae3577" d="M278 241h8v6h-8zM286 241h9v6h-9zM356 214h8v5h-8zM408 291h8v5h-8zM425 192h9v5h-9zM451 197h9v6h-9zM451 181h9v5h-9zM451 176h9v5h-9zM460 203h8v5h-8zM486 192h8v5h-8zM520 170h9v6h-9zM538 274h8v6h-8zM538 197h8v6h-8zM538 192h8v5h-8zM546 274h9v6h-9z"/>
<path fill="#b03677" d="M174 274h8v6h-8zM182 280h9v5h-9zM252 252h8v6h-8zM260 225h9v5h-9zM286 225h9v5h-9zM286 214h9v5h-9zM312 225h9v5h-9zM390 208h9v6h-9zM408 208h8v6h-8zM408 203h8v5h-8zM408 197h8v6h-8zM416 208h9v6h-9zM442 181h9v5h-9zM477 181h9v5h-9zM486 203h8v5h-8zM486 176h8v5h-8zM494 274h9v6h-9zM520 143h9v5h-9zM538 214h8v5h-8zM546 192h9v5h-9z"/>
<path fill="#b13676" d="M234 236h9v5h-9zM234 225h9v5h-9zM269 225h9v5h-9zM312 241h9v6h-9zM321 203h9v5h-9zM330 236h8v5h-8zM364 214h9v5h-9zM416 203h9v5h-9zM434 285h8v6h-8zM442 280h9v5h-9zM442 225h9v5h-9zM442 214h9v5h-9zM442 208h9v6h-9zM451 203h9v5h-9zM486 280h8v5h-8zM494 197h9v6h-9zM529 208h9v6h-9z"/>
<path fill="#b23676" d="M208 258h9v5h-9zM234 247h9v5h-9zM269 230h9v6h-9zM278 225h8v5h-8zM295 225h9v5h-9zM321 230h9v6h-9zM338 230h9v6h-9zM364 219h9v6h-9zM373 230h9v6h-9zM382 219h8v6h-8zM416 197h9v6h-9zM425 219h9v6h-9zM434 225h8v5h-8zM546 181h9v5h-9z"/>
<path fill="#b43776" d="M252 230h8v6h-8zM260 214h9v5h-9zM304 236h8v5h-8zM338 247h9v5h-9zM347 241h9v6h-9zM356 291h8v5h-8zM364 291h9v5h-9zM364 225h9v5h-9zM373 236h9v5h-9zM408 225h8v5h-8zM408 219h8v6h-8zM416 236h9v5h-9zM434 219h8v6h-8zM434 214h8v5h-8zM494 186h9v6h-9zM520 192h9v5h-9zM529 192h9v5h-9z"/>
<path fill="#b53776" d="M208 263h9v6h-9zM226 252h8v6h-8zM269 214h9v5h-9zM295 241h9v6h-9zM304 247h8v5h-8zM330 247h8v5h-8zM356 236h8v5h-8zM356 225h8v5h-8zM364 236h9v5h-9zM390 219h9v6h-9zM399 236h9v5h-9zM408 236h8v5h-8zM408 230h8v6h-8zM434 203h8v5h-8zM460 208h8v6h-8zM468 214h9v5h-9zM468 208h9v6h-9zM468 186h9v6h-9zM477 203h9v5h-9zM477 186h9v6h-9zM512 208h8v6h-8zM520 186h9v6h-9z"/>
<path fill="#b73776" d="M234 252h9v6h-9zM234 241h9v6h-9zM260 230h9v6h-9zM347 247h9v5h-9zM356 247h8v5h-8zM442 203h9v5h-9zM442 197h9v6h-9zM451 192h9v5h-9zM468 269h9v5h-9zM538 208h8v6h-8zM546 269h9v5h-9z"/>
<path fill="#b83775" d="M191 274h9v6h-9zM295 247h9v5h-9zM295 214h9v5h-9zM330 241h8v6h-8zM347 230h9v6h-9zM356 241h8v6h-8zM373 241h9v6h-9zM373 219h9v6h-9zM451 214h9v5h-9zM477 219h9v6h-9zM477 214h9v5h-9zM477 208h9v6h-9zM486 208h8v6h-8zM486 197h8v6h-8zM486 186h8v6h-8zM503 219h9v6h-9zM503 186h9v6h-9zM512 197h8v6h-8zM512 186h8v6h-8zM520 208h9v6h-9zM520 197h9v6h-9zM546 214h9v5h-9z"/>
<path fill="#b93875" d="M260 236h9v5h-9zM286 247h9v5h-9zM321 241h9v6h-9zM373 252h9v6h-9zM390 252h9v6h-9zM416 280h9v5h-9zM416 219h9v6h-9zM425 285h9v6h-9zM425 236h9v5h-9zM425 197h9v6h-9zM434 208h8v6h-8zM460 192h8v5h-8zM468 203h9v5h-9zM494 219h9v6h-9zM538 203h8v5h-8zM546 197h9v6h-9z"/>
<path fill="#bb3875" d="M347 291h9v5h-9zM356 252h8v6h-8zM364 241h9v6h-9zM390 236h9v5h-9zM399 219h9v6h-9zM416 225h9v5h-9zM434 197h8v6h-8zM460 230h8v6h-8zM468 225h9v5h-9zM468 219h9v6h-9zM486 214h8v5h-8zM494 208h9v6h-9zM494 203h9v5h-9zM503 269h9v5h-9zM529 269h9v5h-9z"/>
<path fill="#bc3875" d="M165 280h9v5h-9zM252 258h8v5h-8zM338 263h9v6h-9zM338 241h9v6h-9zM338 236h9v5h-9zM347 252h9v6h-9zM347 236h9v5h-9zM425 203h9v5h-9zM460 219h8v6h-8zM486 274h8v6h-8zM546 203h9v5h-9z"/>
<path fill="#be3874" d="M200 269h8v5h-8zM330 252h8v6h-8zM364 230h9v6h-9zM434 230h8v6h-8zM460 241h8v6h-8zM460 225h8v5h-8zM486 219h8v6h-8zM520 214h9v5h-9zM529 214h9v5h-9zM529 203h9v5h-9zM538 186h8v6h-8zM546 186h9v6h-9z"/>
<path fill="#bf3974" d="M200 263h8v6h-8zM208 269h9v5h-9zM243 269h9v5h-9zM269 236h9v5h-9zM278 247h8v5h-8zM321 252h9v6h-9zM330 263h8v6h-8zM356 258h8v5h-8zM364 252h9v6h-9zM364 247h9v5h-9zM416 230h9v6h-9zM451 280h9v5h-9zM451 230h9v6h-9zM529 186h9v6h-9z"/>
<path fill="#c03974" d="M356 230h8v6h-8zM382 241h8v6h-8zM390 247h9v5h-9zM399 247h9v5h-9zM460 280h8v5h-8zM460 214h8v5h-8zM494 214h9v5h-9zM503 214h9v5h-9zM503 203h9v5h-9zM520 203h9v5h-9z"/>
<path fill="#c23974" d="M260 241h9v6h-9zM278 252h8v6h-8zM312 252h9v6h-9zM338 252h9v6h-9zM347 258h9v5h-9zM382 280h8v5h-8zM382 236h8v5h-8zM399 241h9v6h-9zM425 225h9v5h-9zM442 230h9v6h-9zM451 236h9v5h-9zM477 225h9v5h-9zM512 214h8v5h-8zM529 219h9v6h-9z"/>
<path fill="#c33973" d="M148 285h8v6h-8zM191 280h9v5h-9zM321 236h9v5h-9zM330 258h8v5h-8zM425 241h9v6h-9zM425 230h9v6h-9zM451 225h9v5h-9zM451 219h9v6h-9zM460 236h8v5h-8zM486 225h8v5h-8zM520 219h9v6h-9zM546 208h9v6h-9z"/>
<path fill="#c53a73" d="M217 274h9v6h-9zM217 269h9v5h-9zM252 263h8v6h-8zM260 247h9v5h-9zM390 241h9v6h-9zM408 252h8v6h-8zM434 241h8v6h-8zM451 241h9v6h-9zM512 203h8v5h-8z"/>
<path fill="#c63a73" d="M226 263h8v6h-8zM226 258h8v5h-8zM234 263h9v6h-9zM269 241h9v6h-9zM286 258h9v5h-9zM286 252h9v6h-9zM338 258h9v5h-9zM347 269h9v5h-9zM399 280h9v5h-9zM408 247h8v5h-8zM468 241h9v6h-9zM468 230h9v6h-9zM477 236h9v5h-9zM512 219h8v6h-8zM529 225h9v5h-9zM538 219h8v6h-8z"/>
<path fill="#c73b73" d="M174 280h8v5h-8zM260 252h9v6h-9zM269 252h9v6h-9zM312 247h9v5h-9zM321 247h9v5h-9zM347 263h9v6h-9zM373 285h9v6h-9zM434 247h8v5h-8zM468 236h9v5h-9zM503 247h9v5h-9z"/>
<path fill="#c83c72" d="M373 247h9v5h-9zM382 247h8v5h-8zM399 252h9v6h-9zM442 252h9v6h-9zM486 236h8v5h-8zM503 236h9v5h-9z"/>
<path fill="#c93d72" d="M182 285h9v6h-9zM200 274h8v6h-8zM312 236h9v5h-9zM390 280h9v5h-9zM416 241h9v6h-9zM434 236h8v5h-8zM477 241h9v6h-9zM494 247h9v5h-9zM512 225h8v5h-8zM520 225h9v5h-9z"/>
<path fill="#c93e72" d="M278 258h8v5h-8zM330 274h8v6h-8zM330 269h8v5h-8zM364 258h9v5h-9zM434 252h8v6h-8z"/>
<path fill="#ca3f71" d="M234 258h9v5h-9zM304 252h8v6h-8zM338 291h9v5h-9zM356 263h8v6h-8zM373 263h9v6h-9zM408 241h8v6h-8zM442 219h9v6h-9zM486 241h8v6h-8z"/>
<path fill="#cb4071" d="M269 247h9v5h-9zM304 258h8v5h-8zM338 274h9v6h-9zM364 263h9v6h-9zM390 258h9v5h-9zM416 252h9v6h-9zM416 247h9v5h-9zM512 269h8v5h-8zM529 230h9v6h-9zM546 230h9v6h-9z"/>
<path fill="#cc4171" d="M226 269h8v5h-8zM373 269h9v5h-9zM442 247h9v5h-9zM494 230h9v6h-9zM503 225h9v5h-9zM512 236h8v5h-8zM538 225h8v5h-8zM546 219h9v6h-9z"/>
<path fill="#cd4270" d="M425 258h9v5h-9zM434 280h8v5h-8zM442 241h9v6h-9zM442 236h9v5h-9zM451 252h9v6h-9zM494 241h9v6h-9zM494 225h9v5h-9zM538 230h8v6h-8z"/>
<path fill="#ce4370" d="M295 258h9v5h-9zM321 258h9v5h-9zM347 274h9v6h-9zM399 258h9v5h-9zM425 247h9v5h-9zM460 247h8v5h-8zM494 236h9v5h-9zM503 230h9v6h-9zM538 236h8v5h-8zM546 236h9v5h-9z"/>
<path fill="#ce4370" d="M165 285h9v6h-9zM226 274h8v6h-8zM234 269h9v5h-9zM286 263h9v6h-9zM338 269h9v5h-9zM408 280h8v5h-8zM425 252h9v6h-9zM468 247h9v5h-9zM520 230h9v6h-9zM546 225h9v5h-9z"/>
<path fill="#cf446f" d="M208 274h9v6h-9zM312 258h9v5h-9zM425 263h9v6h-9zM451 247h9v5h-9zM486 230h8v6h-8zM503 241h9v6h-9zM512 247h8v5h-8zM512 230h8v6h-8zM520 236h9v5h-9zM529 247h9v5h-9z"/>
<path fill="#d0456f" d="M278 263h8v6h-8zM356 269h8v5h-8zM364 269h9v5h-9zM460 252h8v6h-8zM477 230h9v6h-9zM529 236h9v5h-9z"/>
<path fill="#d1466f" d="M174 285h8v6h-8zM295 252h9v6h-9zM321 263h9v6h-9zM416 258h9v5h-9zM460 263h8v6h-8zM494 269h9v5h-9z"/>
<path fill="#d2476e" d="M382 263h8v6h-8zM416 263h9v6h-9zM477 252h9v6h-9z"/>
<path fill="#d3486e" d="M200 280h8v5h-8zM217 280h9v5h-9zM330 291h8v5h-8zM546 241h9v6h-9z"/>
<path fill="#d3496e" d="M191 285h9v6h-9zM243 280h9v5h-9zM295 263h9v6h-9zM382 258h8v5h-8zM390 263h9v6h-9zM408 258h8v5h-8zM477 247h9v5h-9zM486 252h8v6h-8zM486 247h8v5h-8zM520 247h9v5h-9zM529 241h9v6h-9zM538 241h8v6h-8z"/>
<path fill="#d44a6d" d="M243 274h9v6h-9zM373 274h9v6h-9zM373 258h9v5h-9zM382 269h8v5h-8zM434 258h8v5h-8zM451 258h9v5h-9zM460 269h8v5h-8z"/>
<path fill="#d54b6d" d="M252 269h8v5h-8zM356 274h8v6h-8zM408 263h8v6h-8zM460 258h8v5h-8zM477 263h9v6h-9zM520 269h9v5h-9z"/>
<path fill="#d64c6c" d="M208 280h9v5h-9zM260 258h9v5h-9zM304 263h8v6h-8zM399 263h9v6h-9zM425 269h9v5h-9zM434 263h8v6h-8zM486 258h8v5h-8zM503 252h9v6h-9zM520 252h9v6h-9zM546 247h9v5h-9z"/>
<path fill="#d74d6c" d="M442 258h9v5h-9zM468 263h9v6h-9zM468 252h9v6h-9zM494 252h9v6h-9z"/>
<path fill="#d84e6c" d="M269 258h9v5h-9zM390 269h9v5h-9zM434 269h8v5h-8z"/>
<path fill="#d94f6b" d="M364 274h9v6h-9zM486 263h8v6h-8zM512 252h8v6h-8zM538 247h8v5h-8z"/>
<path fill="#d9506b" d="M321 269h9v5h-9zM477 258h9v5h-9zM520 241h9v6h-9zM529 252h9v6h-9z"/>
<path fill="#da516b" d="M312 263h9v6h-9zM330 280h8v5h-8zM338 280h9v5h-9zM356 280h8v5h-8zM451 269h9v5h-9zM512 241h8v6h-8zM520 258h9v5h-9zM529 263h9v6h-9z"/>
<path fill="#db526a" d="M200 285h8v6h-8zM304 269h8v5h-8zM364 285h9v6h-9zM364 280h9v5h-9zM416 269h9v5h-9zM494 258h9v5h-9zM520 263h9v6h-9z"/>
<path fill="#dc536a" d="M234 274h9v6h-9zM252 274h8v6h-8zM260 263h9v6h-9zM286 269h9v5h-9zM356 285h8v6h-8zM416 274h9v6h-9z"/>
<path fill="#dd546a" d="M399 269h9v5h-9zM408 269h8v5h-8zM460 274h8v6h-8zM494 263h9v6h-9zM512 258h8v5h-8z"/>
<path fill="#de5569" d="M252 280h8v5h-8zM295 269h9v5h-9zM408 274h8v6h-8zM503 263h9v6h-9z"/>
<path fill="#de5569" d="M226 280h8v5h-8zM269 263h9v6h-9zM468 258h9v5h-9z"/>
<path fill="#df5669" d="M451 263h9v6h-9zM512 263h8v6h-8z"/>
<path fill="#e05768" d="M217 285h9v6h-9zM269 274h9v6h-9zM269 269h9v5h-9zM278 274h8v6h-8zM390 274h9v6h-9zM442 263h9v6h-9zM503 258h9v5h-9zM546 252h9v6h-9z"/>
<path fill="#e15868" d="M208 285h9v6h-9zM278 269h8v5h-8zM338 285h9v6h-9zM347 280h9v5h-9zM373 280h9v5h-9zM382 274h8v6h-8zM399 274h9v6h-9zM425 280h9v5h-9zM425 274h9v6h-9zM442 274h9v6h-9zM442 269h9v5h-9zM451 274h9v6h-9zM529 258h9v5h-9z"/>
<path fill="#e35a67" d="M260 274h9v6h-9zM260 269h9v5h-9zM304 274h8v6h-8zM330 285h8v6h-8zM538 258h8v5h-8zM538 252h8v6h-8z"/>
<path fill="#e35b67" d="M278 280h8v5h-8zM347 285h9v6h-9zM546 263h9v6h-9z"/>
<path fill="#e45c67" d="M295 274h9v6h-9zM312 269h9v5h-9zM434 274h8v6h-8zM538 263h8v6h-8z"/>
<path fill="#e55d66" d="M234 280h9v5h-9zM546 258h9v5h-9z"/>
<path fill="#e65e66" d="M286 274h9v6h-9zM321 274h9v6h-9zM477 269h9v5h-9z"/>
<path fill="#e66266" d="M312 274h9v6h-9z"/>
<path fill="#e76465" d="M286 280h9v5h-9zM304 280h8v5h-8z"/>
<path fill="#e76565" d="M304 285h8v6h-8zM486 269h8v5h-8z"/>
<path fill="#e76965" d="M226 285h8v6h-8zM260 280h9v5h-9z"/>
<path fill="#e76a65" d="M269 280h9v5h-9zM295 280h9v5h-9zM312 285h9v6h-9z"/>
<path fill="#e86e64" d="M312 280h9v5h-9z"/>
<path fill="#e86f64" d="M243 285h9v6h-9z"/>
<path fill="#e87164" d="M321 280h9v5h-9z"/>
<path fill="#e87364" d="M252 285h8v6h-8z"/>
<path fill="#e87464" d="M234 285h9v6h-9z"/>
<path fill="#e97963" d="M295 285h9v6h-9z"/>
<path fill="#e97a63" d="M278 285h8v6h-8zM321 285h9v6h-9z"/>
<path fill="#e97c63" d="M321 291h9v5h-9z"/>
<path fill="#e97e63" d="M286 285h9v6h-9z"/>
<path fill="#ea8062" d="M260 285h9v6h-9z"/>
<path fill="#ea8462" d="M269 285h9v6h-9z"/>
<path fill="#ea8662" d="M252 291h8v5h-8z"/>
<path fill="#eb8961" d="M312 291h9v5h-9z"/>
<path fill="#eb8c61" d="M260 291h9v5h-9z"/>
<path fill="#eb8f61" d="M295 291h9v5h-9z"/>
<path fill="#eb9061" d="M243 291h9v5h-9zM286 291h9v5h-9z"/>
<path fill="#eb9161" d="M278 291h8v5h-8z"/>
<path fill="#ec9560" d="M269 291h9v5h-9z"/>
<path fill="#ec9660" d="M304 291h8v5h-8z"/>
<path fill="#ed9b64" d="M234 291h9v5h-9z"/>
<path fill="#ed9e67" d="M226 291h8v5h-8z"/>
<path fill="#eda06a" d="M217 291h9v5h-9z"/>
<path fill="#eea56e" d="M200 291h8v5h-8z"/>
<path fill="#eea871" d="M208 291h9v5h-9z"/>
<path fill="#f0b57d" d="M182 291h9v5h-9z"/>
<path fill="#f0b67e" d="M174 291h8v5h-8z"/>
<path fill="#f0b880" d="M191 291h9v5h-9z"/>
<path fill="#f0ba83" d="M165 291h9v5h-9z"/>
<path fill="#f1be89" d="M156 291h9v5h-9z"/>
<path fill="#f2c391" d="M122 291h8v5h-8z"/>
<path fill="#f2c594" d="M130 291h9v5h-9z"/>
<path fill="#f3ca9c" d="M139 291h9v5h-9z"/>
<path fill="#f3cc9f" d="M148 291h8v5h-8z"/>
<path d="M125.97 293V295.8M134.64 289.7V297.9M143.31 288V298.4M151.98 281.5V300M160.65 286.4V297.2M169.32 267.3V300M177.99 267.3V300M186.66 275.7V299.3M195.33 265.2V300M204 249.2V300M212.67 248V300M221.34 256.4V300M230.01 237.1V300M238.68 233.5V300M247.35 253.1V294.1M256.02 243V298.4M264.69 222.9V300M273.36 219V300M282.03 231.1V299.5M290.7 226.2V297M299.37 218.2V298.6M308.04 223.7V293.1M316.71 212.6V296.8M325.38 212.1V294.1M334.05 214.8V290.4M342.72 208.3V289.5M351.39 203.7V289.1M360.06 196.2V289M368.73 193.2V287.6M377.4 207V283.8M386.07 207V277.6M394.74 199.2V278.4M403.41 188.8V278.2M412.08 183.5V279.1M420.75 185.1V275.3M429.42 164.2V281.2M438.09 173.3V278.7M446.76 166.9V274.5M455.43 152V277.2M464.1 152.9V277.3M472.77 171V266.2M481.44 156.1V270.5M490.11 151.5V270.5M498.78 140.6V268.6M507.45 159.9V265.7M516.12 139.8V266.8M524.79 130.7V267.9M533.46 146.8V265.2M542.13 145V264.2M550.8 127.2V266.2" stroke="#fff" stroke-opacity="0.45" stroke-width="1.1" fill="none"/>
<path d="M121.97 293h8M121.97 295.8h8M130.64 289.7h8M139.31 288h8M147.98 281.5h8M156.65 286.4h8M165.32 267.3h8M173.99 267.3h8M182.66 275.7h8M191.33 265.2h8M200 249.2h8M208.67 248h8M217.34 256.4h8M226.01 237.1h8M234.68 233.5h8M243.35 253.1h8M243.35 294.1h8M252.02 243h8M260.69 222.9h8M269.36 219h8M278.03 231.1h8M286.7 226.2h8M295.37 218.2h8M304.04 223.7h8M304.04 293.1h8M312.71 212.6h8M321.38 212.1h8M321.38 294.1h8M330.05 214.8h8M330.05 290.4h8M338.72 208.3h8M338.72 289.5h8M347.39 203.7h8M347.39 289.1h8M356.06 196.2h8M356.06 289h8M364.73 193.2h8M364.73 287.6h8M373.4 207h8M373.4 283.8h8M382.07 207h8M382.07 277.6h8M390.74 199.2h8M390.74 278.4h8M399.41 188.8h8M399.41 278.2h8M408.08 183.5h8M408.08 279.1h8M416.75 185.1h8M416.75 275.3h8M425.42 164.2h8M425.42 281.2h8M434.09 173.3h8M434.09 278.7h8M442.76 166.9h8M442.76 274.5h8M451.43 152h8M451.43 277.2h8M460.1 152.9h8M460.1 277.3h8M468.77 171h8M468.77 266.2h8M477.44 156.1h8M477.44 270.5h8M486.11 151.5h8M486.11 270.5h8M494.78 140.6h8M494.78 268.6h8M503.45 159.9h8M503.45 265.7h8M512.12 139.8h8M512.12 266.8h8M520.79 130.7h8M520.79 267.9h8M529.46 146.8h8M529.46 265.2h8M538.13 145h8M538.13 264.2h8M546.8 127.2h8M546.8 266.2h8" stroke="#fff" stroke-opacity="0.55" stroke-width="1.2" fill="none"/>
<g fill="#fff"><circle cx="125.97" cy="294.4" r="2.4"/><circle cx="134.64" cy="293.8" r="2.4"/><circle cx="143.31" cy="293.2" r="2.4"/><circle cx="151.98" cy="292.3" r="2.4"/><circle cx="160.65" cy="291.8" r="2.4"/><circle cx="169.32" cy="288.3" r="2.4"/><circle cx="177.99" cy="286.9" r="2.4"/><circle cx="186.66" cy="287.5" r="2.4"/><circle cx="195.33" cy="284.5" r="2.4"/><circle cx="204" cy="279" r="2.4"/><circle cx="212.67" cy="278.1" r="2.4"/><circle cx="221.34" cy="278.7" r="2.4"/><circle cx="230.01" cy="272.7" r="2.4"/><circle cx="238.68" cy="270.4" r="2.4"/><circle cx="247.35" cy="273.6" r="2.4"/><circle cx="256.02" cy="270.7" r="2.4"/><circle cx="264.69" cy="264.6" r="2.4"/><circle cx="273.36" cy="262.4" r="2.4"/><circle cx="282.03" cy="265.3" r="2.4"/><circle cx="290.7" cy="261.6" r="2.4"/><circle cx="299.37" cy="258.4" r="2.4"/><circle cx="308.04" cy="258.4" r="2.4"/><circle cx="316.71" cy="254.7" r="2.4"/><circle cx="325.38" cy="253.1" r="2.4"/><circle cx="334.05" cy="252.6" r="2.4"/><circle cx="342.72" cy="248.9" r="2.4"/><circle cx="351.39" cy="246.4" r="2.4"/><circle cx="360.06" cy="242.6" r="2.4"/><circle cx="368.73" cy="240.4" r="2.4"/><circle cx="377.4" cy="245.4" r="2.4"/><circle cx="386.07" cy="242.3" r="2.4"/><circle cx="394.74" cy="238.8" r="2.4"/><circle cx="403.41" cy="233.5" r="2.4"/><circle cx="412.08" cy="231.3" r="2.4"/><circle cx="420.75" cy="230.2" r="2.4"/><circle cx="429.42" cy="222.7" r="2.4"/><circle cx="438.09" cy="226" r="2.4"/><circle cx="446.76" cy="220.7" r="2.4"/><circle cx="455.43" cy="214.6" r="2.4"/><circle cx="464.1" cy="215.1" r="2.4"/><circle cx="472.77" cy="218.6" r="2.4"/><circle cx="481.44" cy="213.3" r="2.4"/><circle cx="490.11" cy="211" r="2.4"/><circle cx="498.78" cy="204.6" r="2.4"/><circle cx="507.45" cy="212.8" r="2.4"/><circle cx="516.12" cy="203.3" r="2.4"/><circle cx="524.79" cy="199.3" r="2.4"/><circle cx="533.46" cy="206" r="2.4"/><circle cx="542.13" cy="204.6" r="2.4"/><circle cx="550.8" cy="196.7" r="2.4"/></g>
</g>
<polygon points="180.2,38.2 298.4,45 249.8,75 132.4,68.6" fill="#858a90"/>
<polygon points="249.8,75 298.4,45 298.4,167.7 253.2,195.3" fill="#4d354e" fill-opacity="0.67"/>
<polygon points="132.4,68.6 249.8,75 253.2,195.3 135.5,189.5" fill="#cdc4de" fill-opacity="0.62"/>
<polyline points="132.4,68.6 249.8,75 253.2,195.3" fill="none" stroke="#fff" stroke-width="1" stroke-opacity="0.9"/>
<g fill="#a8b8dc" fill-opacity="0.85"><circle cx="157.05" cy="79.67" r="3.3"/><circle cx="184.91" cy="83.08" r="3.3"/><circle cx="239.29" cy="89.65" r="3.3"/><circle cx="157.05" cy="97.53" r="3.3"/><circle cx="201.98" cy="96.22" r="3.3"/><circle cx="173.08" cy="112.51" r="3.3"/><circle cx="188.06" cy="111.2" r="3.3"/><circle cx="201.2" cy="113.3" r="3.3"/><circle cx="213.28" cy="110.41" r="3.3"/><circle cx="224.32" cy="112.77" r="3.3"/><circle cx="234.83" cy="110.41" r="3.3"/><circle cx="141.29" cy="119.6" r="3.3"/><circle cx="180.7" cy="122.49" r="3.3"/><circle cx="188.06" cy="124.33" r="3.3"/><circle cx="216.43" cy="119.87" r="3.3"/><circle cx="209.08" cy="126.43" r="3.3"/><circle cx="160.73" cy="126.96" r="3.3"/><circle cx="243.23" cy="129.06" r="3.3"/><circle cx="193.84" cy="134.32" r="3.3"/><circle cx="237.45" cy="136.42" r="3.3"/><circle cx="167.04" cy="147.45" r="3.3"/><circle cx="204.61" cy="146.93" r="3.3"/><circle cx="216.96" cy="144.56" r="3.3"/><circle cx="233.25" cy="143.51" r="3.3"/><circle cx="188.06" cy="153.23" r="3.3"/><circle cx="211.71" cy="157.96" r="3.3"/><circle cx="204.35" cy="168.47" r="3.3"/><circle cx="237.98" cy="167.69" r="3.3"/><circle cx="219.59" cy="177.41" r="3.3"/><circle cx="201.98" cy="181.09" r="3.3"/></g>
<g fill="#a6aad4" fill-opacity="0.85"><circle cx="263.73" cy="102" r="3.3"/><circle cx="281.07" cy="98.85" r="3.3"/><circle cx="282.12" cy="126.96" r="3.3"/><circle cx="255.32" cy="134.32" r="3.3"/><circle cx="255.32" cy="147.45" r="3.3"/><circle cx="272.4" cy="145.35" r="3.3"/><circle cx="260.84" cy="158.49" r="3.3"/></g>
<circle cx="201.1" cy="130.6" r="5" fill="#ec965a"/>
<path d="M122 30.5h4" stroke="#fff" stroke-width="1.2"/>
<path d="M122 85.5h4" stroke="#fff" stroke-width="1.2"/>
<path d="M122 140.3h4" stroke="#fff" stroke-width="1.2"/>
<path d="M122 195.2h4" stroke="#fff" stroke-width="1.2"/>
<path d="M122 250.4h4" stroke="#fff" stroke-width="1.2"/>
<path d="M204.4 296v-5.5" stroke="#fff" stroke-width="1.2"/>
<path d="M291.1 296v-5.5" stroke="#fff" stroke-width="1.2"/>
<path d="M377.8 296v-5.5" stroke="#fff" stroke-width="1.2"/>
<path d="M464.5 296v-5.5" stroke="#fff" stroke-width="1.2"/>
<path d="M551.2 296v-5.5" stroke="#fff" stroke-width="1.2"/>
<rect x="122.1" y="31.5" width="433.2" height="264.8" fill="none" stroke="#1a1a1a" stroke-width="1.3"/>
<g clip-path="url(#cbp)">
<path fill="#7a2d78" d="M308 466h8v5h-8z"/>
<path fill="#7e2e79" d="M428 466h9v5h-9z"/>
<path fill="#7f2e79" d="M411 425h9v4h-9z"/>
<path fill="#812e79" d="M123 494h3v4h-3zM333 475h9v5h-9zM472 448h8v4h-8zM506 439h9v4h-9z"/>
<path fill="#832f79" d="M308 443h8v5h-8zM359 471h9v4h-9zM454 462h9v4h-9zM541 452h8v5h-8z"/>
<path fill="#842f79" d="M123 489h3v5h-3zM135 498h9v5h-9zM135 494h9v4h-9zM368 443h9v5h-9z"/>
<path fill="#862f79" d="M123 503h3v5h-3zM123 471h3v4h-3zM126 498h9v5h-9zM126 494h9v4h-9z"/>
<path fill="#882f79" d="M123 498h3v5h-3zM123 485h3v4h-3zM123 475h3v5h-3zM126 471h9v4h-9zM135 485h9v4h-9zM308 439h8v4h-8zM385 425h9v4h-9zM489 475h8v5h-8zM523 466h9v5h-9z"/>
<path fill="#892f79" d="M126 489h9v5h-9zM126 485h9v4h-9zM126 475h9v5h-9zM135 503h9v5h-9zM135 489h9v5h-9zM135 471h9v4h-9zM187 485h8v4h-8zM325 466h8v5h-8zM342 429h9v5h-9zM351 452h8v5h-8zM497 434h9v5h-9zM515 457h8v5h-8zM515 425h8v4h-8z"/>
<path fill="#8b3079" d="M123 508h3v4h-3zM123 480h3v5h-3zM123 462h3v4h-3zM126 503h9v5h-9zM126 480h9v5h-9zM135 480h9v5h-9zM135 475h9v5h-9zM135 466h9v5h-9zM144 498h8v5h-8zM144 494h8v4h-8zM152 489h9v5h-9zM152 485h9v4h-9zM161 494h8v4h-8zM161 489h8v5h-8zM161 485h8v4h-8zM187 480h8v5h-8zM187 475h8v5h-8zM204 471h9v4h-9zM204 466h9v5h-9zM299 480h9v5h-9zM325 439h8v4h-8zM333 429h9v5h-9zM402 425h9v4h-9zM411 466h9v5h-9zM437 466h9v5h-9zM472 471h8v4h-8zM549 434h5v5h-5z"/>
<path fill="#8d3079" d="M123 466h3v5h-3zM123 457h3v5h-3zM135 508h9v4h-9zM135 457h9v5h-9zM144 489h8v5h-8zM144 485h8v4h-8zM144 480h8v5h-8zM144 475h8v5h-8zM144 466h8v5h-8zM152 498h9v5h-9zM152 494h9v4h-9zM152 466h9v5h-9zM161 471h8v4h-8zM161 466h8v5h-8zM169 494h9v4h-9zM169 489h9v5h-9zM169 485h9v4h-9zM178 475h9v5h-9zM187 471h8v4h-8zM213 471h8v4h-8zM247 466h9v5h-9zM359 429h9v5h-9zM497 466h9v5h-9z"/>
<path fill="#8e3079" d="M126 466h9v5h-9zM126 462h9v4h-9zM135 452h9v5h-9zM144 471h8v4h-8zM144 462h8v4h-8zM152 480h9v5h-9zM152 475h9v5h-9zM152 471h9v4h-9zM161 498h8v5h-8zM161 480h8v5h-8zM161 475h8v5h-8zM169 475h9v5h-9zM169 466h9v5h-9zM178 489h9v5h-9zM187 494h8v4h-8zM187 489h8v5h-8zM187 466h8v5h-8zM187 462h8v4h-8zM195 485h9v4h-9zM195 480h9v5h-9zM195 475h9v5h-9zM195 471h9v4h-9zM195 466h9v5h-9zM204 485h9v4h-9zM213 485h8v4h-8zM213 462h8v4h-8zM239 466h8v5h-8zM325 443h8v5h-8zM368 439h9v4h-9z"/>
<path fill="#903079" d="M123 452h3v5h-3zM123 448h3v4h-3zM123 439h3v4h-3zM126 452h9v5h-9zM135 462h9v4h-9zM135 429h9v5h-9zM152 503h9v5h-9zM152 462h9v4h-9zM152 452h9v5h-9zM161 462h8v4h-8zM161 457h8v5h-8zM169 498h9v5h-9zM169 480h9v5h-9zM169 471h9v4h-9zM169 462h9v4h-9zM178 485h9v4h-9zM178 480h9v5h-9zM178 471h9v4h-9zM178 466h9v5h-9zM178 462h9v4h-9zM187 498h8v5h-8zM187 457h8v5h-8zM187 452h8v5h-8zM195 494h9v4h-9zM195 489h9v5h-9zM195 462h9v4h-9zM195 457h9v5h-9zM204 489h9v5h-9zM204 480h9v5h-9zM204 475h9v5h-9zM204 462h9v4h-9zM213 466h8v5h-8zM213 457h8v5h-8zM221 471h9v4h-9zM230 475h9v5h-9zM230 466h9v5h-9zM230 462h9v4h-9zM247 475h9v5h-9zM256 466h8v5h-8zM342 466h9v5h-9zM385 434h9v5h-9z"/>
<path fill="#92317a" d="M123 443h3v5h-3zM126 457h9v5h-9zM126 448h9v4h-9zM126 439h9v4h-9zM126 434h9v5h-9zM135 448h9v4h-9zM135 443h9v5h-9zM135 439h9v4h-9zM135 420h9v5h-9zM135 416h9v4h-9zM144 503h8v5h-8zM144 457h8v5h-8zM152 457h9v5h-9zM161 452h8v5h-8zM169 503h9v5h-9zM169 457h9v5h-9zM178 494h9v4h-9zM178 457h9v5h-9zM187 448h8v4h-8zM187 443h8v5h-8zM195 452h9v5h-9zM195 443h9v5h-9zM204 457h9v5h-9zM204 452h9v5h-9zM213 475h8v5h-8zM221 489h9v5h-9zM221 475h9v5h-9zM221 466h9v5h-9zM221 462h9v4h-9zM221 452h9v5h-9zM230 471h9v4h-9zM239 480h8v5h-8zM239 475h8v5h-8zM239 462h8v4h-8zM247 471h9v4h-9zM247 462h9v4h-9zM247 457h9v5h-9zM256 462h8v4h-8zM264 471h9v4h-9zM264 466h9v5h-9zM264 462h9v4h-9zM273 471h9v4h-9zM273 466h9v5h-9zM273 462h9v4h-9zM290 466h9v5h-9zM299 466h9v5h-9zM308 462h8v4h-8zM351 466h8v5h-8zM377 462h8v4h-8z"/>
<path fill="#94317a" d="M123 512h3v5h-3zM123 434h3v5h-3zM123 425h3v4h-3zM123 420h3v5h-3zM123 407h3v4h-3zM126 512h9v5h-9zM126 508h9v4h-9zM126 443h9v5h-9zM126 429h9v5h-9zM135 425h9v4h-9zM135 411h9v5h-9zM135 397h9v5h-9zM152 443h9v5h-9zM152 439h9v4h-9zM161 448h8v4h-8zM161 434h8v5h-8zM169 452h9v5h-9zM169 448h9v4h-9zM169 443h9v5h-9zM169 434h9v5h-9zM178 498h9v5h-9zM187 439h8v4h-8zM187 434h8v5h-8zM187 429h8v5h-8zM195 498h9v5h-9zM195 448h9v4h-9zM195 434h9v5h-9zM195 425h9v4h-9zM195 420h9v5h-9zM195 407h9v4h-9zM204 443h9v5h-9zM204 420h9v5h-9zM213 494h8v4h-8zM213 489h8v5h-8zM213 480h8v5h-8zM213 452h8v5h-8zM213 448h8v4h-8zM221 494h9v4h-9zM221 485h9v4h-9zM221 480h9v5h-9zM221 457h9v5h-9zM221 443h9v5h-9zM230 480h9v5h-9zM230 448h9v4h-9zM239 485h8v4h-8zM239 471h8v4h-8zM239 457h8v5h-8zM239 452h8v5h-8zM247 485h9v4h-9zM247 480h9v5h-9zM247 452h9v5h-9zM247 443h9v5h-9zM247 411h9v5h-9zM256 485h8v4h-8zM256 480h8v5h-8zM256 475h8v5h-8zM256 471h8v4h-8zM256 457h8v5h-8zM264 475h9v5h-9zM264 452h9v5h-9zM273 457h9v5h-9zM282 466h8v5h-8zM282 462h8v4h-8zM299 471h9v4h-9zM299 462h9v4h-9zM299 457h9v5h-9zM299 452h9v5h-9zM308 471h8v4h-8zM308 457h8v5h-8zM333 466h9v5h-9zM342 471h9v4h-9zM342 462h9v4h-9zM351 462h8v4h-8zM359 457h9v5h-9zM377 466h8v5h-8zM377 439h8v4h-8zM394 462h8v4h-8zM420 462h8v4h-8zM420 457h8v5h-8zM420 448h8v4h-8zM428 480h9v5h-9z"/>
<path fill="#95317a" d="M123 517h3v4h-3zM123 429h3v5h-3zM123 416h3v4h-3zM123 411h3v5h-3zM123 402h3v5h-3zM126 425h9v4h-9zM126 392h9v1h-9zM135 512h9v5h-9zM135 434h9v5h-9zM135 402h9v5h-9zM135 393h9v4h-9zM144 508h8v4h-8zM144 452h8v5h-8zM144 448h8v4h-8zM144 443h8v5h-8zM144 439h8v4h-8zM152 448h9v4h-9zM152 429h9v5h-9zM152 425h9v4h-9zM161 503h8v5h-8zM161 443h8v5h-8zM161 439h8v4h-8zM161 429h8v5h-8zM161 416h8v4h-8zM169 439h9v4h-9zM178 452h9v5h-9zM178 448h9v4h-9zM178 439h9v4h-9zM187 425h8v4h-8zM187 420h8v5h-8zM187 411h8v5h-8zM195 503h9v5h-9zM195 439h9v4h-9zM195 429h9v5h-9zM195 411h9v5h-9zM195 397h9v5h-9zM204 494h9v4h-9zM204 448h9v4h-9zM213 439h8v4h-8zM213 434h8v5h-8zM221 448h9v4h-9zM221 439h9v4h-9zM230 489h9v5h-9zM230 485h9v4h-9zM230 457h9v5h-9zM230 452h9v5h-9zM230 443h9v5h-9zM230 420h9v5h-9zM239 489h8v5h-8zM239 443h8v5h-8zM239 439h8v4h-8zM239 429h8v5h-8zM239 420h8v5h-8zM247 489h9v5h-9zM247 448h9v4h-9zM247 439h9v4h-9zM247 434h9v5h-9zM247 429h9v5h-9zM247 425h9v4h-9zM247 420h9v5h-9zM247 407h9v4h-9zM264 480h9v5h-9zM264 457h9v5h-9zM273 475h9v5h-9zM273 452h9v5h-9zM273 448h9v4h-9zM290 471h9v4h-9zM290 462h9v4h-9zM299 448h9v4h-9zM299 434h9v5h-9zM316 471h9v4h-9zM316 466h9v5h-9zM316 462h9v4h-9zM325 452h8v5h-8zM333 457h9v5h-9zM342 448h9v4h-9zM351 471h8v4h-8zM359 466h9v5h-9zM368 462h9v4h-9zM368 457h9v5h-9zM368 452h9v5h-9zM377 471h8v4h-8zM377 457h8v5h-8zM377 452h8v5h-8zM402 457h9v5h-9zM402 452h9v5h-9zM402 443h9v5h-9zM402 429h9v5h-9zM411 457h9v5h-9zM411 439h9v4h-9zM420 466h8v5h-8zM420 452h8v5h-8zM420 443h8v5h-8zM437 462h9v4h-9zM437 452h9v5h-9zM437 448h9v4h-9zM437 443h9v5h-9zM454 457h9v5h-9zM454 443h9v5h-9zM472 452h8v5h-8zM480 457h9v5h-9zM480 448h9v4h-9zM506 429h9v5h-9zM515 443h8v5h-8zM515 439h8v4h-8zM515 434h8v5h-8zM523 448h9v4h-9zM541 448h8v4h-8zM541 434h8v5h-8zM549 439h5v4h-5z"/>
<path fill="#97317a" d="M123 397h3v5h-3zM123 393h3v4h-3zM123 392h3v1h-3zM126 517h9v4h-9zM126 416h9v4h-9zM126 407h9v4h-9zM126 397h9v5h-9zM135 407h9v4h-9zM144 434h8v5h-8zM144 420h8v5h-8zM144 416h8v4h-8zM144 411h8v5h-8zM144 402h8v5h-8zM144 393h8v4h-8zM152 508h9v4h-9zM152 420h9v5h-9zM152 402h9v5h-9zM161 420h8v5h-8zM161 397h8v5h-8zM169 425h9v4h-9zM169 420h9v5h-9zM169 416h9v4h-9zM169 411h9v5h-9zM169 407h9v4h-9zM178 443h9v5h-9zM178 425h9v4h-9zM187 503h8v5h-8zM187 416h8v4h-8zM187 407h8v4h-8zM195 416h9v4h-9zM195 402h9v5h-9zM204 498h9v5h-9zM204 434h9v5h-9zM204 425h9v4h-9zM204 416h9v4h-9zM204 411h9v5h-9zM213 443h8v5h-8zM213 429h8v5h-8zM213 411h8v5h-8zM213 407h8v4h-8zM221 434h9v5h-9zM221 425h9v4h-9zM221 420h9v5h-9zM230 429h9v5h-9zM239 494h8v4h-8zM239 448h8v4h-8zM239 434h8v5h-8zM239 407h8v4h-8zM256 489h8v5h-8zM256 452h8v5h-8zM256 448h8v4h-8zM256 443h8v5h-8zM256 439h8v4h-8zM264 485h9v4h-9zM264 448h9v4h-9zM264 439h9v4h-9zM273 485h9v4h-9zM273 480h9v5h-9zM273 443h9v5h-9zM273 434h9v5h-9zM273 425h9v4h-9zM282 471h8v4h-8zM290 480h9v5h-9zM290 475h9v5h-9zM290 457h9v5h-9zM299 475h9v5h-9zM299 443h9v5h-9zM299 439h9v4h-9zM299 425h9v4h-9zM299 416h9v4h-9zM308 480h8v5h-8zM308 475h8v5h-8zM308 448h8v4h-8zM316 457h9v5h-9zM316 452h9v5h-9zM316 448h9v4h-9zM325 471h8v4h-8zM325 462h8v4h-8zM325 457h8v5h-8zM333 471h9v4h-9zM333 462h9v4h-9zM333 452h9v5h-9zM342 457h9v5h-9zM342 452h9v5h-9zM342 439h9v4h-9zM359 462h9v4h-9zM359 452h9v5h-9zM359 443h9v5h-9zM368 471h9v4h-9zM368 466h9v5h-9zM368 448h9v4h-9zM377 448h8v4h-8zM377 443h8v5h-8zM377 434h8v5h-8zM377 429h8v5h-8zM377 420h8v5h-8zM385 466h9v5h-9zM385 457h9v5h-9zM394 457h8v5h-8zM402 466h9v5h-9zM402 462h9v4h-9zM402 439h9v4h-9zM402 420h9v5h-9zM402 393h9v4h-9zM411 452h9v5h-9zM411 448h9v4h-9zM411 434h9v5h-9zM411 429h9v5h-9zM420 434h8v5h-8zM420 429h8v5h-8zM420 425h8v4h-8zM420 416h8v4h-8zM428 443h9v5h-9zM428 420h9v5h-9zM437 457h9v5h-9zM437 439h9v4h-9zM437 420h9v5h-9zM446 439h8v4h-8zM446 434h8v5h-8zM454 466h9v5h-9zM454 452h9v5h-9zM454 448h9v4h-9zM454 439h9v4h-9zM463 439h9v4h-9zM472 434h8v5h-8zM480 452h9v5h-9zM480 443h9v5h-9zM480 420h9v5h-9zM489 457h8v5h-8zM489 452h8v5h-8zM489 443h8v5h-8zM497 425h9v4h-9zM506 443h9v5h-9zM506 425h9v4h-9zM515 452h8v5h-8zM515 448h8v4h-8zM515 429h8v5h-8zM515 411h8v5h-8zM523 443h9v5h-9zM523 439h9v4h-9zM532 462h9v4h-9zM532 457h9v5h-9zM532 429h9v5h-9zM541 457h8v5h-8zM541 443h8v5h-8zM541 439h8v4h-8zM541 429h8v5h-8zM541 425h8v4h-8zM549 462h5v4h-5zM549 452h5v5h-5zM549 448h5v4h-5zM549 443h5v5h-5zM549 429h5v5h-5z"/>
<path fill="#99327a" d="M123 521h3v5h-3zM126 420h9v5h-9zM126 411h9v5h-9zM126 402h9v5h-9zM126 393h9v4h-9zM144 429h8v5h-8zM144 425h8v4h-8zM144 407h8v4h-8zM144 397h8v5h-8zM144 392h8v1h-8zM152 434h9v5h-9zM152 416h9v4h-9zM152 411h9v5h-9zM152 407h9v4h-9zM152 397h9v5h-9zM152 393h9v4h-9zM152 392h9v1h-9zM161 425h8v4h-8zM161 411h8v5h-8zM161 407h8v4h-8zM161 393h8v4h-8zM161 392h8v1h-8zM169 429h9v5h-9zM169 397h9v5h-9zM169 393h9v4h-9zM178 503h9v5h-9zM178 434h9v5h-9zM178 429h9v5h-9zM178 420h9v5h-9zM187 397h8v5h-8zM187 393h8v4h-8zM187 392h8v1h-8zM195 393h9v4h-9zM204 439h9v4h-9zM204 429h9v5h-9zM204 407h9v4h-9zM204 402h9v5h-9zM204 393h9v4h-9zM204 392h9v1h-9zM213 498h8v5h-8zM213 425h8v4h-8zM213 420h8v5h-8zM213 416h8v4h-8zM213 402h8v5h-8zM213 397h8v5h-8zM221 429h9v5h-9zM221 411h9v5h-9zM221 407h9v4h-9zM221 393h9v4h-9zM221 392h9v1h-9zM230 498h9v5h-9zM230 494h9v4h-9zM230 439h9v4h-9zM230 434h9v5h-9zM230 416h9v4h-9zM230 407h9v4h-9zM230 397h9v5h-9zM239 425h8v4h-8zM239 416h8v4h-8zM239 402h8v5h-8zM239 397h8v5h-8zM247 494h9v4h-9zM247 416h9v4h-9zM247 402h9v5h-9zM247 393h9v4h-9zM256 434h8v5h-8zM256 429h8v5h-8zM256 425h8v4h-8zM256 420h8v5h-8zM256 411h8v5h-8zM256 407h8v4h-8zM256 397h8v5h-8zM256 393h8v4h-8zM264 489h9v5h-9zM264 443h9v5h-9zM264 429h9v5h-9zM264 420h9v5h-9zM264 411h9v5h-9zM273 489h9v5h-9zM273 411h9v5h-9zM273 402h9v5h-9zM282 480h8v5h-8zM282 475h8v5h-8zM290 452h9v5h-9zM290 443h9v5h-9zM299 420h9v5h-9zM299 407h9v4h-9zM299 402h9v5h-9zM308 452h8v5h-8zM308 434h8v5h-8zM308 429h8v5h-8zM316 475h9v5h-9zM316 434h9v5h-9zM316 407h9v4h-9zM316 392h9v1h-9zM325 448h8v4h-8zM333 448h9v4h-9zM342 475h9v5h-9zM342 443h9v5h-9zM342 425h9v4h-9zM342 402h9v5h-9zM351 475h8v5h-8zM351 457h8v5h-8zM351 443h8v5h-8zM351 434h8v5h-8zM351 425h8v4h-8zM351 411h8v5h-8zM359 475h9v5h-9zM359 448h9v4h-9zM359 434h9v5h-9zM359 425h9v4h-9zM359 416h9v4h-9zM368 475h9v5h-9zM368 429h9v5h-9zM368 416h9v4h-9zM368 402h9v5h-9zM377 475h8v5h-8zM377 416h8v4h-8zM377 407h8v4h-8zM377 402h8v5h-8zM377 393h8v4h-8zM377 392h8v1h-8zM385 471h9v4h-9zM385 462h9v4h-9zM385 448h9v4h-9zM385 429h9v5h-9zM385 411h9v5h-9zM394 466h8v5h-8zM394 452h8v5h-8zM394 448h8v4h-8zM394 439h8v4h-8zM394 393h8v4h-8zM402 471h9v4h-9zM402 448h9v4h-9zM402 434h9v5h-9zM402 416h9v4h-9zM402 402h9v5h-9zM411 443h9v5h-9zM411 416h9v4h-9zM420 439h8v4h-8zM420 420h8v5h-8zM420 407h8v4h-8zM428 448h9v4h-9zM437 434h9v5h-9zM437 429h9v5h-9zM437 425h9v4h-9zM437 416h9v4h-9zM437 407h9v4h-9zM437 402h9v5h-9zM446 466h8v5h-8zM446 457h8v5h-8zM454 429h9v5h-9zM454 416h9v4h-9zM454 411h9v5h-9zM454 407h9v4h-9zM463 452h9v5h-9zM463 448h9v4h-9zM463 443h9v5h-9zM472 466h8v5h-8zM472 462h8v4h-8zM472 457h8v5h-8zM472 443h8v5h-8zM472 439h8v4h-8zM472 429h8v5h-8zM472 420h8v5h-8zM480 466h9v5h-9zM480 462h9v4h-9zM480 439h9v4h-9zM480 434h9v5h-9zM480 397h9v5h-9zM489 466h8v5h-8zM489 462h8v4h-8zM489 448h8v4h-8zM489 439h8v4h-8zM497 462h9v4h-9zM497 457h9v5h-9zM497 452h9v5h-9zM497 448h9v4h-9zM497 443h9v5h-9zM497 439h9v4h-9zM497 416h9v4h-9zM506 448h9v4h-9zM506 416h9v4h-9zM515 420h8v5h-8zM515 416h8v4h-8zM515 402h8v5h-8zM515 392h8v1h-8zM523 457h9v5h-9zM523 452h9v5h-9zM523 434h9v5h-9zM523 429h9v5h-9zM523 416h9v4h-9zM532 448h9v4h-9zM532 443h9v5h-9zM532 439h9v4h-9zM532 434h9v5h-9zM532 411h9v5h-9zM541 466h8v5h-8zM541 462h8v4h-8zM541 420h8v5h-8zM541 416h8v4h-8zM549 466h5v5h-5zM549 457h5v5h-5zM549 425h5v4h-5zM549 411h5v5h-5zM549 407h5v4h-5zM549 393h5v4h-5z"/>
<path fill="#9a327a" d="M135 521h9v5h-9zM135 517h9v4h-9zM135 392h9v1h-9zM144 512h8v5h-8zM161 508h8v4h-8zM169 402h9v5h-9zM178 416h9v4h-9zM178 411h9v5h-9zM178 407h9v4h-9zM178 402h9v5h-9zM187 508h8v4h-8zM187 402h8v5h-8zM195 392h9v1h-9zM204 397h9v5h-9zM213 393h8v4h-8zM213 392h8v1h-8zM221 498h9v5h-9zM221 416h9v4h-9zM221 402h9v5h-9zM221 397h9v5h-9zM230 425h9v4h-9zM230 411h9v5h-9zM230 402h9v5h-9zM230 393h9v4h-9zM239 411h8v5h-8zM239 392h8v1h-8zM247 397h9v5h-9zM247 392h9v1h-9zM256 402h8v5h-8zM264 425h9v4h-9zM264 416h9v4h-9zM264 407h9v4h-9zM264 402h9v5h-9zM264 397h9v5h-9zM273 439h9v4h-9zM273 429h9v5h-9zM273 420h9v5h-9zM273 416h9v4h-9zM273 407h9v4h-9zM273 397h9v5h-9zM282 448h8v4h-8zM282 443h8v5h-8zM282 429h8v5h-8zM282 425h8v4h-8zM290 439h9v4h-9zM290 429h9v5h-9zM290 425h9v4h-9zM290 420h9v5h-9zM290 416h9v4h-9zM290 397h9v5h-9zM299 485h9v4h-9zM299 429h9v5h-9zM299 397h9v5h-9zM299 393h9v4h-9zM308 425h8v4h-8zM308 416h8v4h-8zM308 411h8v5h-8zM308 397h8v5h-8zM308 392h8v1h-8zM316 429h9v5h-9zM316 416h9v4h-9zM325 480h8v5h-8zM325 475h8v5h-8zM325 434h8v5h-8zM325 425h8v4h-8zM325 420h8v5h-8zM342 434h9v5h-9zM342 416h9v4h-9zM342 411h9v5h-9zM342 397h9v5h-9zM342 393h9v4h-9zM342 392h9v1h-9zM351 448h8v4h-8zM351 439h8v4h-8zM351 429h8v5h-8zM351 420h8v5h-8zM351 416h8v4h-8zM351 402h8v5h-8zM351 392h8v1h-8zM359 439h9v4h-9zM359 407h9v4h-9zM359 402h9v5h-9zM368 434h9v5h-9zM368 425h9v4h-9zM368 420h9v5h-9zM368 407h9v4h-9zM368 397h9v5h-9zM368 393h9v4h-9zM377 425h8v4h-8zM377 397h8v5h-8zM385 475h9v5h-9zM385 452h9v5h-9zM385 443h9v5h-9zM385 439h9v4h-9zM385 420h9v5h-9zM385 416h9v4h-9zM385 407h9v4h-9zM385 397h9v5h-9zM385 393h9v4h-9zM385 392h9v1h-9zM394 471h8v4h-8zM394 443h8v5h-8zM394 434h8v5h-8zM394 420h8v5h-8zM394 407h8v4h-8zM402 475h9v5h-9zM402 411h9v5h-9zM402 407h9v4h-9zM411 471h9v4h-9zM411 462h9v4h-9zM411 397h9v5h-9zM411 393h9v4h-9zM411 392h9v1h-9zM420 471h8v4h-8zM420 411h8v5h-8zM420 402h8v5h-8zM420 397h8v5h-8zM428 471h9v4h-9zM428 462h9v4h-9zM428 457h9v5h-9zM428 452h9v5h-9zM428 439h9v4h-9zM428 434h9v5h-9zM428 429h9v5h-9zM428 397h9v5h-9zM437 392h9v1h-9zM446 462h8v4h-8zM446 452h8v5h-8zM446 448h8v4h-8zM446 443h8v5h-8zM446 425h8v4h-8zM446 411h8v5h-8zM454 471h9v4h-9zM454 434h9v5h-9zM454 420h9v5h-9zM454 402h9v5h-9zM454 392h9v1h-9zM463 462h9v4h-9zM463 457h9v5h-9zM463 434h9v5h-9zM463 420h9v5h-9zM472 425h8v4h-8zM472 416h8v4h-8zM472 411h8v5h-8zM472 407h8v4h-8zM472 402h8v5h-8zM472 397h8v5h-8zM472 393h8v4h-8zM480 429h9v5h-9zM480 425h9v4h-9zM480 402h9v5h-9zM480 393h9v4h-9zM489 425h8v4h-8zM489 407h8v4h-8zM489 392h8v1h-8zM497 429h9v5h-9zM497 420h9v5h-9zM497 411h9v5h-9zM497 407h9v4h-9zM497 402h9v5h-9zM506 462h9v4h-9zM506 457h9v5h-9zM506 434h9v5h-9zM506 411h9v5h-9zM515 466h8v5h-8zM515 462h8v4h-8zM523 462h9v4h-9zM523 425h9v4h-9zM523 420h9v5h-9zM523 411h9v5h-9zM523 407h9v4h-9zM532 466h9v5h-9zM532 425h9v4h-9zM532 407h9v4h-9zM532 402h9v5h-9zM541 411h8v5h-8zM541 407h8v4h-8zM541 402h8v5h-8zM541 397h8v5h-8zM549 420h5v5h-5zM549 402h5v5h-5zM549 397h5v5h-5zM549 392h5v1h-5z"/>
<path fill="#9c327a" d="M126 521h9v5h-9zM161 512h8v5h-8zM169 508h9v4h-9zM169 392h9v1h-9zM178 397h9v5h-9zM178 392h9v1h-9zM204 503h9v5h-9zM213 503h8v5h-8zM230 392h9v1h-9zM239 498h8v5h-8zM239 393h8v4h-8zM256 416h8v4h-8zM256 392h8v1h-8zM264 434h9v5h-9zM264 393h9v4h-9zM264 392h9v1h-9zM273 393h9v4h-9zM273 392h9v1h-9zM282 485h8v4h-8zM282 457h8v5h-8zM282 452h8v5h-8zM282 439h8v4h-8zM282 434h8v5h-8zM290 485h9v4h-9zM290 448h9v4h-9zM290 411h9v5h-9zM290 407h9v4h-9zM290 402h9v5h-9zM290 393h9v4h-9zM290 392h9v1h-9zM299 411h9v5h-9zM299 392h9v1h-9zM308 485h8v4h-8zM308 420h8v5h-8zM308 407h8v4h-8zM308 402h8v5h-8zM308 393h8v4h-8zM316 480h9v5h-9zM316 443h9v5h-9zM316 439h9v4h-9zM316 425h9v4h-9zM316 420h9v5h-9zM316 411h9v5h-9zM316 397h9v5h-9zM325 416h8v4h-8zM325 411h8v5h-8zM325 407h8v4h-8zM325 393h8v4h-8zM333 480h9v5h-9zM333 443h9v5h-9zM333 439h9v4h-9zM333 434h9v5h-9zM333 420h9v5h-9zM333 416h9v4h-9zM333 411h9v5h-9zM333 402h9v5h-9zM333 397h9v5h-9zM333 393h9v4h-9zM342 485h9v4h-9zM342 480h9v5h-9zM351 480h8v5h-8zM351 407h8v4h-8zM351 397h8v5h-8zM351 393h8v4h-8zM359 480h9v5h-9zM359 420h9v5h-9zM359 411h9v5h-9zM359 397h9v5h-9zM359 393h9v4h-9zM368 411h9v5h-9zM377 480h8v5h-8zM377 411h8v5h-8zM385 402h9v5h-9zM394 429h8v5h-8zM394 425h8v4h-8zM394 402h8v5h-8zM394 392h8v1h-8zM402 397h9v5h-9zM402 392h9v1h-9zM411 475h9v5h-9zM411 420h9v5h-9zM411 411h9v5h-9zM411 407h9v4h-9zM420 475h8v5h-8zM420 393h8v4h-8zM420 392h8v1h-8zM428 425h9v4h-9zM437 411h9v5h-9zM437 397h9v5h-9zM446 471h8v4h-8zM446 429h8v5h-8zM446 420h8v5h-8zM446 392h8v1h-8zM454 475h9v5h-9zM454 425h9v4h-9zM454 393h9v4h-9zM463 466h9v5h-9zM463 429h9v5h-9zM463 407h9v4h-9zM463 393h9v4h-9zM463 392h9v1h-9zM472 392h8v1h-8zM480 416h9v4h-9zM480 407h9v4h-9zM480 392h9v1h-9zM489 434h8v5h-8zM489 429h8v5h-8zM489 420h8v5h-8zM489 416h8v4h-8zM489 411h8v5h-8zM489 402h8v5h-8zM489 397h8v5h-8zM489 393h8v4h-8zM497 397h9v5h-9zM497 393h9v4h-9zM506 466h9v5h-9zM506 452h9v5h-9zM506 420h9v5h-9zM506 407h9v4h-9zM506 397h9v5h-9zM515 471h8v4h-8zM515 407h8v4h-8zM515 397h8v5h-8zM515 393h8v4h-8zM523 402h9v5h-9zM523 397h9v5h-9zM523 392h9v1h-9zM532 452h9v5h-9zM532 420h9v5h-9zM532 393h9v4h-9zM541 471h8v4h-8zM541 392h8v1h-8zM549 471h5v4h-5zM549 416h5v4h-5z"/>
<path fill="#9d327a" d="M123 526h3v4h-3zM135 526h9v4h-9zM152 512h9v5h-9zM161 402h8v5h-8zM178 508h9v4h-9zM178 393h9v4h-9zM195 508h9v4h-9zM221 503h9v5h-9zM230 503h9v5h-9zM256 494h8v4h-8zM264 494h9v4h-9zM273 494h9v4h-9zM282 420h8v5h-8zM282 416h8v4h-8zM282 411h8v5h-8zM282 407h8v4h-8zM282 402h8v5h-8zM290 489h9v5h-9zM290 434h9v5h-9zM299 489h9v5h-9zM316 485h9v4h-9zM316 402h9v5h-9zM325 429h8v5h-8zM325 402h8v5h-8zM325 397h8v5h-8zM325 392h8v1h-8zM333 425h9v4h-9zM333 407h9v4h-9zM333 392h9v1h-9zM342 420h9v5h-9zM342 407h9v4h-9zM351 485h8v4h-8zM359 392h9v1h-9zM368 480h9v5h-9zM368 392h9v1h-9zM385 480h9v5h-9zM394 475h8v5h-8zM394 416h8v4h-8zM394 411h8v5h-8zM411 402h9v5h-9zM420 480h8v5h-8zM428 416h9v4h-9zM428 411h9v5h-9zM428 393h9v4h-9zM428 392h9v1h-9zM437 475h9v5h-9zM437 471h9v4h-9zM446 416h8v4h-8zM446 407h8v4h-8zM446 402h8v5h-8zM446 397h8v5h-8zM454 397h9v5h-9zM463 471h9v4h-9zM463 425h9v4h-9zM463 411h9v5h-9zM463 402h9v5h-9zM463 397h9v5h-9zM480 471h9v4h-9zM480 411h9v5h-9zM497 471h9v4h-9zM506 471h9v4h-9zM506 393h9v4h-9zM506 392h9v1h-9zM523 471h9v4h-9zM523 393h9v4h-9zM532 471h9v4h-9zM532 416h9v4h-9zM532 397h9v5h-9zM532 392h9v1h-9zM541 393h8v4h-8z"/>
<path fill="#9f337a" d="M144 517h8v4h-8zM152 517h9v4h-9zM187 512h8v5h-8zM204 508h9v4h-9zM247 498h9v5h-9zM256 498h8v5h-8zM282 489h8v5h-8zM282 397h8v5h-8zM282 393h8v4h-8zM282 392h8v1h-8zM308 489h8v5h-8zM316 489h9v5h-9zM316 393h9v4h-9zM325 485h8v4h-8zM333 485h9v4h-9zM368 485h9v4h-9zM377 485h8v4h-8zM394 480h8v5h-8zM394 397h8v5h-8zM411 480h9v5h-9zM428 475h9v5h-9zM428 407h9v4h-9zM437 393h9v4h-9zM446 393h8v4h-8zM463 416h9v4h-9zM472 475h8v5h-8zM489 471h8v4h-8zM497 475h9v5h-9zM497 392h9v1h-9zM506 402h9v5h-9zM515 475h8v5h-8zM541 475h8v5h-8zM549 475h5v5h-5z"/>
<path fill="#a03379" d="M161 517h8v4h-8zM169 512h9v5h-9zM195 512h9v5h-9zM239 503h8v5h-8zM247 503h9v5h-9zM333 489h9v5h-9zM342 489h9v5h-9zM359 485h9v4h-9zM402 485h9v4h-9zM402 480h9v5h-9zM428 402h9v5h-9zM446 475h8v5h-8zM454 480h9v5h-9zM480 475h9v5h-9zM506 475h9v5h-9zM523 475h9v5h-9z"/>
<path fill="#a23379" d="M187 517h8v4h-8zM213 508h8v4h-8zM221 508h9v4h-9zM264 498h9v5h-9zM282 494h8v4h-8zM290 494h9v4h-9zM299 494h9v4h-9zM308 494h8v4h-8zM351 489h8v5h-8zM359 489h9v5h-9zM368 489h9v5h-9zM377 489h8v5h-8zM385 485h9v4h-9zM437 480h9v5h-9zM463 475h9v5h-9zM480 480h9v5h-9zM506 480h9v5h-9zM541 480h8v5h-8zM549 480h5v5h-5z"/>
<path fill="#a33379" d="M126 526h9v4h-9zM144 521h8v5h-8zM152 521h9v5h-9zM178 512h9v5h-9zM230 508h9v4h-9zM239 508h8v4h-8zM256 503h8v5h-8zM273 498h9v5h-9zM394 485h8v4h-8zM411 485h9v4h-9zM420 485h8v4h-8zM446 480h8v5h-8zM454 485h9v4h-9zM463 480h9v5h-9zM489 480h8v5h-8zM515 480h8v5h-8zM523 480h9v5h-9zM532 475h9v5h-9z"/>
<path fill="#a43479" d="M123 535h3v5h-3zM123 530h3v5h-3zM169 517h9v4h-9zM247 508h9v4h-9zM273 503h9v5h-9zM316 494h9v4h-9zM325 489h8v5h-8zM385 489h9v5h-9zM394 489h8v5h-8zM402 489h9v5h-9zM428 485h9v4h-9zM437 485h9v4h-9zM472 480h8v5h-8zM480 485h9v4h-9zM532 480h9v5h-9z"/>
<path fill="#a63478" d="M135 530h9v5h-9zM161 521h8v5h-8zM178 517h9v4h-9zM187 521h8v5h-8zM195 517h9v4h-9zM204 512h9v5h-9zM213 512h8v5h-8zM290 498h9v5h-9zM299 498h9v5h-9zM342 494h9v4h-9zM351 494h8v4h-8zM377 494h8v4h-8zM411 489h9v5h-9zM420 489h8v5h-8zM437 489h9v5h-9zM497 480h9v5h-9zM515 485h8v4h-8zM523 485h9v4h-9zM532 485h9v4h-9z"/>
<path fill="#a73478" d="M152 526h9v4h-9zM187 526h8v4h-8zM204 517h9v4h-9zM264 503h9v5h-9zM308 498h8v5h-8zM325 494h8v4h-8zM368 494h9v4h-9zM446 485h8v4h-8zM454 489h9v5h-9zM463 485h9v4h-9zM489 485h8v4h-8zM497 485h9v4h-9zM506 485h9v4h-9zM549 485h5v4h-5z"/>
<path fill="#a93478" d="M123 540h3v4h-3zM126 530h9v5h-9zM221 512h9v5h-9zM239 512h8v5h-8zM247 512h9v5h-9zM264 508h9v4h-9zM282 498h8v5h-8zM333 494h9v4h-9zM359 494h9v4h-9zM420 494h8v4h-8zM428 489h9v5h-9zM472 485h8v4h-8zM480 489h9v5h-9zM541 485h8v4h-8z"/>
<path fill="#aa3578" d="M135 535h9v5h-9zM144 526h8v4h-8zM161 526h8v4h-8zM169 521h9v5h-9zM195 521h9v5h-9zM221 517h9v4h-9zM247 517h9v4h-9zM256 508h8v4h-8zM333 498h9v5h-9zM385 494h9v4h-9zM394 494h8v4h-8zM402 494h9v4h-9zM411 494h9v4h-9zM446 489h8v5h-8zM463 489h9v5h-9zM472 489h8v5h-8zM515 489h8v5h-8zM549 489h5v5h-5z"/>
<path fill="#ab3577" d="M169 526h9v4h-9zM178 521h9v5h-9zM213 517h8v4h-8zM256 512h8v5h-8zM282 503h8v5h-8zM290 503h9v5h-9zM299 503h9v5h-9zM308 503h8v5h-8zM316 498h9v5h-9zM325 498h8v5h-8zM342 498h9v5h-9zM377 498h8v5h-8zM428 494h9v4h-9zM437 494h9v4h-9zM497 489h9v5h-9zM506 489h9v5h-9zM541 489h8v5h-8z"/>
<path fill="#ad3577" d="M123 544h3v5h-3zM126 535h9v5h-9zM144 530h8v5h-8zM161 530h8v5h-8zM187 530h8v5h-8zM195 526h9v4h-9zM204 521h9v5h-9zM230 517h9v4h-9zM230 512h9v5h-9zM239 517h8v4h-8zM273 508h9v4h-9zM351 498h8v5h-8zM359 498h9v5h-9zM368 498h9v5h-9zM420 498h8v5h-8zM454 494h9v4h-9zM489 489h8v5h-8zM523 489h9v5h-9z"/>
<path fill="#ae3577" d="M135 540h9v4h-9zM377 503h8v5h-8zM394 498h8v5h-8zM402 498h9v5h-9zM411 498h9v5h-9zM463 494h9v4h-9z"/>
<path fill="#b03677" d="M178 526h9v4h-9zM213 521h8v5h-8zM282 508h8v4h-8zM290 508h9v4h-9zM299 508h9v4h-9zM308 508h8v4h-8zM316 503h9v5h-9zM342 503h9v5h-9zM351 503h8v5h-8zM385 498h9v5h-9zM437 498h9v5h-9zM446 494h8v4h-8zM472 494h8v4h-8zM480 494h9v4h-9zM532 489h9v5h-9zM549 494h5v4h-5z"/>
<path fill="#b13676" d="M126 544h9v5h-9zM152 535h9v5h-9zM152 530h9v5h-9zM204 526h9v4h-9zM221 521h9v5h-9zM264 512h9v5h-9zM325 503h8v5h-8zM333 503h9v5h-9zM368 503h9v5h-9zM489 494h8v4h-8zM506 494h9v4h-9zM515 494h8v4h-8zM523 494h9v4h-9zM532 494h9v4h-9zM541 494h8v4h-8z"/>
<path fill="#b23676" d="M123 549h3v4h-3zM135 544h9v5h-9zM144 535h8v5h-8zM161 540h8v4h-8zM161 535h8v5h-8zM169 530h9v5h-9zM195 530h9v5h-9zM239 521h8v5h-8zM256 517h8v4h-8zM394 503h8v5h-8zM411 503h9v5h-9zM420 503h8v5h-8zM454 498h9v5h-9zM463 498h9v5h-9zM497 494h9v4h-9zM541 498h8v5h-8zM549 498h5v5h-5z"/>
<path fill="#b43776" d="M126 540h9v4h-9zM135 549h9v4h-9zM144 540h8v4h-8zM169 535h9v5h-9zM178 530h9v5h-9zM187 535h8v5h-8zM213 526h8v4h-8zM221 526h9v4h-9zM230 521h9v5h-9zM247 521h9v5h-9zM273 517h9v4h-9zM273 512h9v5h-9zM359 503h9v5h-9zM428 498h9v5h-9zM446 498h8v5h-8zM480 498h9v5h-9zM489 498h8v5h-8zM515 498h8v5h-8zM523 498h9v5h-9z"/>
<path fill="#b53776" d="M123 553h3v5h-3zM204 530h9v5h-9zM230 526h9v4h-9zM264 517h9v4h-9zM282 512h8v5h-8zM316 508h9v4h-9zM333 508h9v4h-9zM385 503h9v5h-9zM402 508h9v4h-9zM402 503h9v5h-9zM472 498h8v5h-8zM497 498h9v5h-9zM532 498h9v5h-9z"/>
<path fill="#b73776" d="M213 530h8v5h-8zM247 526h9v4h-9zM290 512h9v5h-9zM299 512h9v5h-9zM325 508h8v4h-8zM351 508h8v4h-8zM368 508h9v4h-9zM420 508h8v4h-8zM428 503h9v5h-9zM437 503h9v5h-9zM446 503h8v5h-8zM454 503h9v5h-9zM506 498h9v5h-9zM523 503h9v5h-9z"/>
<path fill="#b83775" d="M152 540h9v4h-9zM161 544h8v5h-8zM169 540h9v4h-9zM178 535h9v5h-9zM187 544h8v5h-8zM187 540h8v4h-8zM195 535h9v5h-9zM239 526h8v4h-8zM256 521h8v5h-8zM264 521h9v5h-9zM299 517h9v4h-9zM308 512h8v5h-8zM316 512h9v5h-9zM342 508h9v4h-9zM359 508h9v4h-9zM377 508h8v4h-8zM463 503h9v5h-9zM480 503h9v5h-9zM541 503h8v5h-8z"/>
<path fill="#b93875" d="M135 553h9v5h-9zM204 535h9v5h-9zM221 530h9v5h-9zM308 517h8v4h-8zM351 512h8v5h-8zM385 508h9v4h-9zM394 508h8v4h-8zM411 508h9v4h-9zM489 503h8v5h-8zM506 503h9v5h-9zM515 503h8v5h-8zM549 503h5v5h-5z"/>
<path fill="#bb3875" d="M123 558h3v5h-3zM126 549h9v4h-9zM144 544h8v5h-8zM290 517h9v4h-9zM325 512h8v5h-8zM333 512h9v5h-9zM342 512h9v5h-9zM359 512h9v5h-9zM437 508h9v4h-9zM454 508h9v4h-9zM472 503h8v5h-8zM532 503h9v5h-9z"/>
<path fill="#bc3875" d="M152 544h9v5h-9zM247 530h9v5h-9zM273 521h9v5h-9zM351 517h8v4h-8zM368 512h9v5h-9zM411 512h9v5h-9zM420 512h8v5h-8zM428 508h9v4h-9zM437 512h9v5h-9zM472 508h8v4h-8zM497 503h9v5h-9zM541 508h8v4h-8z"/>
<path fill="#be3874" d="M195 540h9v4h-9zM213 535h8v5h-8zM230 530h9v5h-9zM239 530h8v5h-8zM247 535h9v5h-9zM256 526h8v4h-8zM282 517h8v4h-8zM377 517h8v4h-8zM377 512h8v5h-8zM446 508h8v4h-8zM497 508h9v4h-9zM515 508h8v4h-8zM523 508h9v4h-9zM549 508h5v4h-5z"/>
<path fill="#bf3974" d="M126 553h9v5h-9zM152 549h9v4h-9zM161 549h8v4h-8zM169 544h9v5h-9zM187 549h8v4h-8zM204 540h9v4h-9zM221 535h9v5h-9zM264 526h9v4h-9zM282 521h8v5h-8zM342 517h9v4h-9zM359 517h9v4h-9zM385 512h9v5h-9zM394 512h8v5h-8zM402 517h9v4h-9zM489 508h8v4h-8z"/>
<path fill="#c03974" d="M144 549h8v4h-8zM169 549h9v4h-9zM178 540h9v4h-9zM195 544h9v5h-9zM204 544h9v5h-9zM273 526h9v4h-9zM299 521h9v5h-9zM316 517h9v4h-9zM411 517h9v4h-9zM454 512h9v5h-9zM463 508h9v4h-9zM472 512h8v5h-8zM506 508h9v4h-9zM523 512h9v5h-9zM532 508h9v4h-9zM549 512h5v5h-5z"/>
<path fill="#c23974" d="M135 558h9v5h-9zM144 553h8v5h-8zM178 544h9v5h-9zM213 540h8v4h-8zM239 540h8v4h-8zM256 530h8v5h-8zM290 521h9v5h-9zM299 526h9v4h-9zM308 521h8v5h-8zM325 517h8v4h-8zM333 517h9v4h-9zM402 512h9v5h-9zM428 512h9v5h-9zM437 517h9v4h-9zM446 512h8v5h-8zM480 508h9v4h-9zM541 512h8v5h-8z"/>
<path fill="#c33973" d="M123 567h3v5h-3zM135 567h9v5h-9zM187 553h8v5h-8zM204 549h9v4h-9zM213 544h8v5h-8zM221 540h9v4h-9zM230 535h9v5h-9zM239 535h8v5h-8zM368 517h9v4h-9zM385 517h9v4h-9zM420 517h8v4h-8zM463 512h9v5h-9zM489 512h8v5h-8zM497 512h9v5h-9zM515 512h8v5h-8zM532 512h9v5h-9z"/>
<path fill="#c53a73" d="M123 563h3v4h-3zM126 558h9v5h-9zM152 553h9v5h-9zM161 553h8v5h-8zM195 549h9v4h-9zM256 535h8v5h-8zM264 530h9v5h-9zM308 526h8v4h-8zM316 521h9v5h-9zM377 521h8v5h-8zM402 521h9v5h-9zM420 521h8v5h-8zM454 517h9v4h-9zM480 512h9v5h-9zM506 512h9v5h-9zM541 517h8v4h-8z"/>
<path fill="#c63a73" d="M126 563h9v4h-9zM144 558h8v5h-8zM152 558h9v5h-9zM161 558h8v5h-8zM169 553h9v5h-9zM187 558h8v5h-8zM195 553h9v5h-9zM221 544h9v5h-9zM273 530h9v5h-9zM290 526h9v4h-9zM342 521h9v5h-9zM351 521h8v5h-8zM394 517h8v4h-8zM411 521h9v5h-9zM472 517h8v4h-8zM480 517h9v4h-9zM515 517h8v4h-8zM549 517h5v4h-5z"/>
<path fill="#c73b73" d="M135 563h9v4h-9zM213 549h8v4h-8zM247 540h9v4h-9zM273 535h9v5h-9zM282 526h8v4h-8zM299 530h9v5h-9zM359 521h9v5h-9zM368 521h9v5h-9zM385 521h9v5h-9zM420 526h8v4h-8zM428 517h9v4h-9zM437 521h9v5h-9zM489 517h8v4h-8zM506 517h9v4h-9z"/>
<path fill="#c83c72" d="M126 567h9v5h-9zM152 563h9v4h-9zM178 549h9v4h-9zM230 540h9v4h-9zM239 544h8v5h-8zM247 544h9v5h-9zM325 521h8v5h-8zM333 521h9v5h-9zM385 526h9v4h-9zM394 521h8v5h-8zM446 517h8v4h-8zM454 521h9v5h-9zM497 517h9v4h-9zM523 517h9v4h-9zM532 517h9v4h-9zM541 521h8v5h-8z"/>
<path fill="#c93d72" d="M123 572h3v4h-3zM144 563h8v4h-8zM178 553h9v5h-9zM213 553h8v5h-8zM256 544h8v5h-8zM264 535h9v5h-9zM316 526h9v4h-9zM342 526h9v4h-9zM368 526h9v4h-9zM377 526h8v4h-8zM402 526h9v4h-9zM463 517h9v4h-9zM549 521h5v5h-5z"/>
<path fill="#c93e72" d="M169 558h9v5h-9zM195 558h9v5h-9zM204 553h9v5h-9zM221 553h9v5h-9zM290 530h9v5h-9zM299 535h9v5h-9zM308 530h8v5h-8zM351 526h8v4h-8zM359 526h9v4h-9zM472 521h8v5h-8zM515 521h8v5h-8zM532 521h9v5h-9z"/>
<path fill="#ca3f71" d="M135 572h9v4h-9zM161 563h8v4h-8zM187 563h8v4h-8zM230 544h9v5h-9zM247 549h9v4h-9zM273 540h9v4h-9zM325 526h8v4h-8zM333 526h9v4h-9zM377 530h8v5h-8zM411 526h9v4h-9zM428 521h9v5h-9zM454 526h9v4h-9zM463 521h9v5h-9zM480 521h9v5h-9zM497 521h9v5h-9zM506 521h9v5h-9zM523 521h9v5h-9z"/>
<path fill="#cb4071" d="M152 567h9v5h-9zM169 563h9v4h-9zM187 567h8v5h-8zM221 549h9v4h-9zM239 549h8v4h-8zM385 530h9v5h-9zM394 526h8v4h-8zM402 530h9v5h-9zM420 530h8v5h-8zM437 526h9v4h-9zM489 521h8v5h-8z"/>
<path fill="#cc4171" d="M144 567h8v5h-8zM204 558h9v5h-9zM230 549h9v4h-9zM256 540h8v4h-8zM264 540h9v4h-9zM282 530h8v5h-8zM299 540h9v4h-9zM316 530h9v5h-9zM411 530h9v5h-9zM428 526h9v4h-9zM446 521h8v5h-8zM472 526h8v4h-8zM480 526h9v4h-9zM506 526h9v4h-9zM523 526h9v4h-9zM549 526h5v4h-5z"/>
<path fill="#cd4270" d="M123 576h3v5h-3zM135 576h9v5h-9zM169 567h9v5h-9zM195 563h9v4h-9zM213 558h8v5h-8zM221 558h9v5h-9zM239 553h8v5h-8zM247 553h9v5h-9zM256 549h8v4h-8zM264 544h9v5h-9zM273 544h9v5h-9zM308 535h8v5h-8zM351 530h8v5h-8zM359 530h9v5h-9zM368 530h9v5h-9zM394 530h8v5h-8zM437 530h9v5h-9zM489 526h8v4h-8zM532 526h9v4h-9zM541 526h8v4h-8zM549 530h5v5h-5z"/>
<path fill="#ce4370" d="M123 581h3v5h-3zM126 572h9v4h-9zM178 558h9v5h-9zM195 567h9v5h-9zM282 535h8v5h-8zM290 540h9v4h-9zM299 544h9v5h-9zM325 530h8v5h-8zM333 530h9v5h-9zM420 535h8v5h-8zM446 526h8v4h-8zM454 530h9v5h-9zM515 530h8v5h-8zM515 526h8v4h-8z"/>
<path fill="#ce4370" d="M187 576h8v5h-8zM195 572h9v4h-9zM204 563h9v4h-9zM230 553h9v5h-9zM247 558h9v5h-9zM290 535h9v5h-9zM342 535h9v5h-9zM342 530h9v5h-9zM359 535h9v5h-9zM377 535h8v5h-8zM402 535h9v5h-9zM480 530h9v5h-9zM497 526h9v4h-9zM541 530h8v5h-8z"/>
<path fill="#cf446f" d="M123 586h3v4h-3zM126 576h9v5h-9zM144 572h8v4h-8zM161 572h8v4h-8zM161 567h8v5h-8zM213 563h8v4h-8zM247 563h9v4h-9zM264 549h9v4h-9zM351 535h8v5h-8zM377 540h8v4h-8zM411 535h9v5h-9zM463 526h9v4h-9zM472 530h8v5h-8zM506 530h9v5h-9z"/>
<path fill="#d0456f" d="M135 581h9v5h-9zM152 572h9v4h-9zM178 563h9v4h-9zM204 567h9v5h-9zM239 558h8v5h-8zM273 553h9v5h-9zM273 549h9v4h-9zM282 540h8v4h-8zM308 540h8v4h-8zM316 535h9v5h-9zM333 535h9v5h-9zM368 535h9v5h-9zM377 544h8v5h-8zM394 535h8v5h-8zM428 530h9v5h-9zM437 535h9v5h-9zM489 530h8v5h-8zM523 530h9v5h-9zM532 530h9v5h-9z"/>
<path fill="#d1466f" d="M187 572h8v4h-8zM230 558h9v5h-9zM256 553h8v5h-8zM264 553h9v5h-9zM290 544h9v5h-9zM308 544h8v5h-8zM316 540h9v4h-9zM342 540h9v4h-9zM368 540h9v4h-9zM420 540h8v4h-8zM428 535h9v5h-9zM454 535h9v5h-9zM463 530h9v5h-9zM472 535h8v5h-8zM480 535h9v5h-9zM497 530h9v5h-9zM515 535h8v5h-8zM549 535h5v5h-5z"/>
<path fill="#d2476e" d="M126 581h9v5h-9zM135 586h9v4h-9zM169 572h9v4h-9zM221 563h9v4h-9zM239 563h8v4h-8zM247 567h9v5h-9zM256 558h8v5h-8zM282 544h8v5h-8zM299 549h9v4h-9zM351 540h8v4h-8zM359 540h9v4h-9zM385 540h9v4h-9zM385 535h9v5h-9zM411 540h9v4h-9zM523 535h9v5h-9z"/>
<path fill="#d3486e" d="M152 576h9v5h-9zM178 567h9v5h-9zM204 572h9v4h-9zM221 567h9v5h-9zM256 563h8v4h-8zM273 558h9v5h-9zM308 549h8v4h-8zM325 535h8v5h-8zM333 540h9v4h-9zM402 540h9v4h-9zM420 549h8v4h-8zM446 530h8v5h-8zM463 535h9v5h-9zM489 535h8v5h-8zM506 535h9v5h-9zM541 535h8v5h-8z"/>
<path fill="#d3496e" d="M144 576h8v5h-8zM195 576h9v5h-9zM213 567h8v5h-8zM230 563h9v4h-9zM264 558h9v5h-9zM299 553h9v5h-9zM316 544h9v5h-9zM325 540h8v4h-8zM359 544h9v5h-9zM368 544h9v5h-9zM394 540h8v4h-8zM402 544h9v5h-9zM420 544h8v5h-8zM446 535h8v5h-8zM454 540h9v4h-9zM532 535h9v5h-9zM541 540h8v4h-8zM549 540h5v4h-5z"/>
<path fill="#d44a6d" d="M161 576h8v5h-8zM187 581h8v5h-8zM239 567h8v5h-8zM264 563h9v4h-9zM351 544h8v5h-8zM385 544h9v5h-9zM402 549h9v4h-9zM437 540h9v4h-9zM497 535h9v5h-9z"/>
<path fill="#d54b6d" d="M123 590h3v5h-3zM144 581h8v5h-8zM169 576h9v5h-9zM178 572h9v4h-9zM213 572h8v4h-8zM247 572h9v4h-9zM308 553h8v5h-8zM325 544h8v5h-8zM342 549h9v4h-9zM342 544h9v5h-9zM359 549h9v4h-9zM385 549h9v4h-9zM454 544h9v5h-9zM472 540h8v4h-8zM480 540h9v4h-9zM489 540h8v4h-8zM532 540h9v4h-9z"/>
<path fill="#d64c6c" d="M135 590h9v5h-9zM161 586h8v4h-8zM204 581h9v5h-9zM204 576h9v5h-9zM221 572h9v4h-9zM230 567h9v5h-9zM247 576h9v5h-9zM256 567h8v5h-8zM273 563h9v4h-9zM282 549h8v4h-8zM290 549h9v4h-9zM299 558h9v5h-9zM351 549h8v4h-8zM411 544h9v5h-9zM428 540h9v4h-9zM437 544h9v5h-9zM446 540h8v4h-8zM463 540h9v4h-9zM480 544h9v5h-9zM506 540h9v4h-9zM523 540h9v4h-9zM549 544h5v5h-5z"/>
<path fill="#d74d6c" d="M123 595h3v4h-3zM135 595h9v4h-9zM161 581h8v5h-8zM187 586h8v4h-8zM230 572h9v4h-9zM290 553h9v5h-9zM299 563h9v4h-9zM377 553h8v5h-8zM394 544h8v5h-8zM411 549h9v4h-9zM515 540h8v4h-8zM523 544h9v5h-9zM532 544h9v5h-9zM541 549h8v4h-8zM541 544h8v5h-8z"/>
<path fill="#d84e6c" d="M152 581h9v5h-9zM195 586h9v4h-9zM195 581h9v5h-9zM239 572h8v4h-8zM282 553h8v5h-8zM308 558h8v5h-8zM316 549h9v4h-9zM333 544h9v5h-9zM368 549h9v4h-9zM377 549h8v4h-8zM402 553h9v5h-9zM420 553h8v5h-8zM497 540h9v4h-9zM506 544h9v5h-9zM515 544h8v5h-8z"/>
<path fill="#d94f6b" d="M169 581h9v5h-9zM178 576h9v5h-9zM239 576h8v5h-8zM264 567h9v5h-9zM308 563h8v4h-8zM333 549h9v4h-9zM351 553h8v5h-8zM394 549h8v4h-8zM411 553h9v5h-9zM420 558h8v5h-8zM454 553h9v5h-9zM454 549h9v4h-9zM472 549h8v4h-8zM472 544h8v5h-8zM497 544h9v5h-9zM549 549h5v4h-5z"/>
<path fill="#d9506b" d="M126 586h9v4h-9zM213 576h8v5h-8zM221 576h9v5h-9zM273 567h9v5h-9zM351 558h8v5h-8zM359 553h9v5h-9zM368 553h9v5h-9zM428 549h9v4h-9zM428 544h9v5h-9zM437 553h9v5h-9zM437 549h9v4h-9zM446 544h8v5h-8zM463 549h9v4h-9zM463 544h9v5h-9zM523 549h9v4h-9zM541 553h8v5h-8z"/>
<path fill="#da516b" d="M187 590h8v5h-8zM247 581h9v5h-9zM316 553h9v5h-9zM325 553h8v5h-8zM325 549h8v4h-8zM342 558h9v5h-9zM342 553h9v5h-9zM394 553h8v5h-8zM480 553h9v5h-9zM489 544h8v5h-8zM506 549h9v4h-9zM549 553h5v5h-5z"/>
<path fill="#db526a" d="M123 599h3v5h-3zM144 586h8v4h-8zM152 586h9v4h-9zM221 581h9v5h-9zM239 581h8v5h-8zM247 586h9v4h-9zM264 572h9v4h-9zM290 558h9v5h-9zM299 567h9v5h-9zM316 558h9v5h-9zM333 553h9v5h-9zM359 558h9v5h-9zM377 563h8v4h-8zM377 558h8v5h-8zM402 563h9v4h-9zM411 558h9v5h-9zM446 549h8v4h-8zM480 549h9v4h-9zM489 549h8v4h-8z"/>
<path fill="#dc536a" d="M126 590h9v5h-9zM161 590h8v5h-8zM169 586h9v4h-9zM195 590h9v5h-9zM230 576h9v5h-9zM256 576h8v5h-8zM256 572h8v4h-8zM282 558h8v5h-8zM290 563h9v4h-9zM351 567h8v5h-8zM351 563h8v4h-8zM359 563h9v4h-9zM385 553h9v5h-9zM420 563h8v4h-8zM472 553h8v5h-8zM515 549h8v4h-8zM532 549h9v4h-9z"/>
<path fill="#dd546a" d="M135 599h9v5h-9zM144 590h8v5h-8zM152 590h9v5h-9zM187 595h8v4h-8zM195 595h9v4h-9zM213 581h8v5h-8zM273 572h9v4h-9zM308 576h8v5h-8zM308 572h8v4h-8zM308 567h8v5h-8zM316 563h9v4h-9zM325 558h8v5h-8zM333 558h9v5h-9zM377 567h8v5h-8zM385 563h9v4h-9zM385 558h9v5h-9zM402 558h9v5h-9zM420 567h8v5h-8zM454 563h9v4h-9zM497 549h9v4h-9zM515 558h8v5h-8zM515 553h8v5h-8z"/>
<path fill="#de5569" d="M126 595h9v4h-9zM169 590h9v5h-9zM178 581h9v5h-9zM264 576h9v5h-9zM273 576h9v5h-9zM299 576h9v5h-9zM299 572h9v4h-9zM342 567h9v5h-9zM342 563h9v4h-9zM368 563h9v4h-9zM368 558h9v5h-9zM402 567h9v5h-9zM411 567h9v5h-9zM437 558h9v5h-9zM454 558h9v5h-9zM463 553h9v5h-9zM472 558h8v5h-8zM523 558h9v5h-9zM523 553h9v5h-9zM532 553h9v5h-9zM549 563h5v4h-5z"/>
<path fill="#de5569" d="M187 599h8v5h-8zM204 586h9v4h-9zM239 590h8v5h-8zM247 590h9v5h-9zM290 567h9v5h-9zM359 567h9v5h-9zM428 558h9v5h-9zM446 553h8v5h-8zM497 558h9v5h-9zM497 553h9v5h-9zM506 553h9v5h-9zM541 563h8v4h-8zM541 558h8v5h-8zM549 558h5v5h-5z"/>
<path fill="#df5669" d="M178 586h9v4h-9zM239 586h8v4h-8zM256 581h8v5h-8zM282 567h8v5h-8zM282 563h8v4h-8zM290 572h9v4h-9zM333 563h9v4h-9zM368 567h9v5h-9zM411 563h9v4h-9zM420 572h8v4h-8zM428 553h9v5h-9zM472 563h8v4h-8zM489 553h8v5h-8z"/>
<path fill="#e05768" d="M123 604h3v4h-3zM152 595h9v4h-9zM161 599h8v5h-8zM161 595h8v4h-8zM204 590h9v5h-9zM213 586h8v4h-8zM221 590h9v5h-9zM221 586h9v4h-9zM230 590h9v5h-9zM230 581h9v5h-9zM264 581h9v5h-9zM273 581h9v5h-9zM377 572h8v4h-8zM394 563h8v4h-8zM402 572h9v4h-9zM437 563h9v4h-9zM532 563h9v4h-9zM541 567h8v5h-8z"/>
<path fill="#e15868" d="M144 595h8v4h-8zM169 595h9v4h-9zM213 590h8v5h-8zM230 586h9v4h-9zM299 581h9v5h-9zM316 567h9v5h-9zM359 572h9v4h-9zM394 567h8v5h-8zM394 558h8v5h-8zM480 558h9v5h-9zM532 558h9v5h-9z"/>
<path fill="#e25968" d="M144 599h8v5h-8zM152 599h9v5h-9zM178 590h9v5h-9zM256 586h8v4h-8zM273 590h9v5h-9zM273 586h9v4h-9zM325 563h8v4h-8zM333 567h9v5h-9zM342 572h9v4h-9zM368 572h9v4h-9zM437 572h9v4h-9zM437 567h9v5h-9zM446 558h8v5h-8zM454 567h9v5h-9zM463 563h9v4h-9zM463 558h9v5h-9zM489 558h8v5h-8zM506 563h9v4h-9zM515 567h8v5h-8zM549 567h5v5h-5z"/>
<path fill="#e35a67" d="M123 608h3v5h-3zM135 604h9v4h-9zM187 604h8v4h-8zM195 599h9v5h-9zM204 595h9v4h-9zM247 595h9v4h-9zM264 586h9v4h-9zM282 576h8v5h-8zM282 572h8v4h-8zM290 576h9v5h-9zM308 581h8v5h-8zM325 572h8v4h-8zM325 567h8v5h-8zM342 581h9v5h-9zM377 576h8v5h-8zM385 567h9v5h-9zM411 572h9v4h-9zM420 581h8v5h-8zM420 576h8v5h-8zM480 563h9v4h-9zM489 563h8v4h-8zM506 558h9v5h-9zM549 572h5v4h-5z"/>
<path fill="#e35b67" d="M126 599h9v5h-9zM230 595h9v4h-9zM247 604h9v4h-9zM264 590h9v5h-9zM299 586h9v4h-9zM316 572h9v4h-9zM342 576h9v5h-9zM351 576h8v5h-8zM351 572h8v4h-8zM359 576h9v5h-9zM368 576h9v5h-9zM377 581h8v5h-8zM385 572h9v4h-9zM446 563h8v4h-8zM497 563h9v4h-9zM515 563h8v4h-8zM523 563h9v4h-9zM532 567h9v5h-9zM541 572h8v4h-8z"/>
<path fill="#e45c67" d="M135 608h9v5h-9zM178 595h9v4h-9zM213 595h8v4h-8zM239 595h8v4h-8zM256 590h8v5h-8zM308 586h8v4h-8zM333 572h9v4h-9zM394 576h8v5h-8zM411 576h9v5h-9zM428 567h9v5h-9zM428 563h9v4h-9zM446 567h8v5h-8zM454 572h9v4h-9zM463 567h9v5h-9zM472 567h8v5h-8zM489 567h8v5h-8z"/>
<path fill="#e55d66" d="M169 599h9v5h-9zM204 599h9v5h-9zM213 599h8v5h-8zM221 595h9v4h-9zM316 576h9v5h-9zM402 586h9v4h-9zM402 576h9v5h-9z"/>
<path fill="#e65e66" d="M126 604h9v4h-9zM152 604h9v4h-9zM161 604h8v4h-8zM247 599h9v5h-9zM290 581h9v5h-9zM299 590h9v5h-9zM359 581h9v5h-9zM368 586h9v4h-9zM377 586h8v4h-8zM402 581h9v5h-9zM437 576h9v5h-9zM472 572h8v4h-8zM480 567h9v5h-9zM523 567h9v5h-9z"/>
<path fill="#e65f66" d="M144 604h8v4h-8zM169 604h9v4h-9zM239 599h8v5h-8zM351 586h8v4h-8zM368 581h9v5h-9zM394 572h8v4h-8zM428 572h9v4h-9zM437 581h9v5h-9zM463 572h9v4h-9zM515 572h8v4h-8zM523 572h9v4h-9z"/>
<path fill="#e66066" d="M178 599h9v5h-9zM195 604h9v4h-9zM273 595h9v4h-9zM316 581h9v5h-9zM325 576h8v5h-8zM333 576h9v5h-9zM351 581h8v5h-8zM385 586h9v4h-9zM385 576h9v5h-9zM446 572h8v4h-8zM454 576h9v5h-9zM480 572h9v4h-9zM489 572h8v4h-8zM506 572h9v4h-9zM515 576h8v5h-8zM541 576h8v5h-8z"/>
<path fill="#e66266" d="M126 608h9v5h-9zM187 608h8v5h-8zM195 608h9v5h-9zM204 604h9v4h-9zM221 599h9v5h-9zM239 604h8v4h-8zM256 595h8v4h-8zM264 595h9v4h-9zM273 599h9v5h-9zM282 581h8v5h-8zM299 595h9v4h-9zM308 590h8v5h-8zM359 586h9v4h-9zM420 586h8v4h-8zM463 576h9v5h-9zM480 576h9v5h-9zM497 576h9v5h-9zM497 567h9v5h-9zM506 567h9v5h-9zM532 572h9v4h-9z"/>
<path fill="#e76365" d="M123 613h3v5h-3zM152 608h9v5h-9zM187 613h8v5h-8zM204 608h9v5h-9zM290 586h9v4h-9zM325 581h8v5h-8zM333 581h9v5h-9zM342 586h9v4h-9zM351 590h8v5h-8zM368 590h9v5h-9zM385 581h9v5h-9zM394 581h8v5h-8zM411 581h9v5h-9zM437 590h9v5h-9zM446 576h8v5h-8zM454 581h9v5h-9zM472 581h8v5h-8zM472 576h8v5h-8z"/>
<path fill="#e76465" d="M161 608h8v5h-8zM239 608h8v5h-8zM256 599h8v5h-8zM282 586h8v4h-8zM299 599h9v5h-9zM308 595h8v4h-8zM333 586h9v4h-9zM377 595h8v4h-8zM377 590h8v5h-8zM541 581h8v5h-8zM549 576h5v5h-5z"/>
<path fill="#e76565" d="M135 613h9v5h-9zM144 608h8v5h-8zM213 604h8v4h-8zM221 608h9v5h-9zM221 604h9v4h-9zM230 604h9v4h-9zM230 599h9v5h-9zM264 599h9v5h-9zM316 586h9v4h-9zM333 590h9v5h-9zM342 590h9v5h-9zM359 590h9v5h-9zM385 590h9v5h-9zM394 586h8v4h-8zM402 590h9v5h-9zM411 586h9v4h-9zM420 590h8v5h-8zM489 576h8v5h-8zM497 572h9v4h-9zM506 576h9v5h-9zM515 581h8v5h-8zM523 576h9v5h-9zM549 581h5v5h-5z"/>
<path fill="#e76765" d="M123 618h3v4h-3zM161 613h8v5h-8zM230 608h9v5h-9zM247 608h9v5h-9zM273 604h9v4h-9zM282 595h8v4h-8zM282 590h8v5h-8zM290 590h9v5h-9zM308 599h8v5h-8zM316 595h9v4h-9zM325 586h8v4h-8zM342 595h9v4h-9zM394 590h8v5h-8zM411 590h9v5h-9zM437 586h9v4h-9zM454 586h9v4h-9zM480 581h9v5h-9zM532 581h9v5h-9zM532 576h9v5h-9zM549 586h5v4h-5z"/>
<path fill="#e76865" d="M126 613h9v5h-9zM178 604h9v4h-9zM290 595h9v4h-9zM316 590h9v5h-9zM325 590h8v5h-8zM359 595h9v4h-9zM420 595h8v4h-8zM428 576h9v5h-9zM472 586h8v4h-8z"/>
<path fill="#e76965" d="M169 608h9v5h-9zM195 613h9v5h-9zM213 608h8v5h-8zM351 595h8v4h-8zM368 595h9v4h-9zM402 595h9v4h-9zM411 595h9v4h-9zM446 581h8v5h-8zM489 581h8v5h-8zM497 581h9v5h-9zM541 586h8v4h-8z"/>
<path fill="#e76a65" d="M135 618h9v4h-9zM256 608h8v5h-8zM256 604h8v4h-8zM264 608h9v5h-9zM264 604h9v4h-9zM273 608h9v5h-9zM299 604h9v4h-9zM308 604h8v4h-8zM342 599h9v5h-9zM359 599h9v5h-9zM377 599h8v5h-8zM420 599h8v5h-8zM515 586h8v4h-8zM523 586h9v4h-9z"/>
<path fill="#e76b65" d="M178 608h9v5h-9zM204 613h9v5h-9zM247 618h9v4h-9zM247 613h9v5h-9zM325 595h8v4h-8zM351 599h8v5h-8zM428 586h9v4h-9zM506 581h9v5h-9zM541 590h8v5h-8z"/>
<path fill="#e86d64" d="M135 622h9v5h-9zM169 613h9v5h-9zM187 618h8v4h-8zM195 618h9v4h-9zM213 613h8v5h-8zM239 613h8v5h-8zM290 599h9v5h-9zM385 595h9v4h-9zM428 581h9v5h-9zM454 590h9v5h-9zM463 581h9v5h-9zM515 590h8v5h-8zM523 581h9v5h-9z"/>
<path fill="#e86e64" d="M123 622h3v5h-3zM144 613h8v5h-8zM221 613h9v5h-9zM256 613h8v5h-8zM299 608h9v5h-9zM333 595h9v4h-9zM402 599h9v5h-9zM446 586h8v4h-8zM480 590h9v5h-9zM480 586h9v4h-9zM506 586h9v4h-9zM549 590h5v5h-5z"/>
<path fill="#e86f64" d="M123 627h3v4h-3zM126 618h9v4h-9zM152 618h9v4h-9zM308 608h8v5h-8zM325 599h8v5h-8zM342 604h9v4h-9zM359 604h9v4h-9zM394 595h8v4h-8zM402 604h9v4h-9zM411 599h9v5h-9zM472 590h8v5h-8zM489 586h8v4h-8zM497 590h9v5h-9zM549 595h5v4h-5z"/>
<path fill="#e87064" d="M126 622h9v5h-9zM152 613h9v5h-9zM221 618h9v4h-9zM316 604h9v4h-9zM351 604h8v4h-8zM368 599h9v5h-9zM420 604h8v4h-8zM437 599h9v5h-9zM437 595h9v4h-9zM446 590h8v5h-8zM454 595h9v4h-9zM463 586h9v4h-9zM497 586h9v4h-9zM515 595h8v4h-8zM532 586h9v4h-9zM541 595h8v4h-8z"/>
<path fill="#e87164" d="M161 618h8v4h-8zM213 618h8v4h-8zM264 613h9v5h-9zM282 599h8v5h-8zM290 604h9v4h-9zM308 613h8v5h-8zM316 599h9v5h-9zM333 604h9v4h-9zM368 604h9v4h-9zM377 604h8v4h-8zM385 599h9v5h-9zM463 590h9v5h-9zM523 590h9v5h-9zM532 590h9v5h-9z"/>
<path fill="#e87364" d="M204 618h9v4h-9zM230 613h9v5h-9zM239 618h8v4h-8zM273 613h9v5h-9zM282 604h8v4h-8zM299 613h9v5h-9zM325 604h8v4h-8zM333 599h9v5h-9zM359 608h9v5h-9zM385 604h9v4h-9zM394 599h8v5h-8zM411 604h9v4h-9zM428 590h9v5h-9zM472 595h8v4h-8zM489 590h8v5h-8zM506 590h9v5h-9zM541 599h8v5h-8z"/>
<path fill="#e87464" d="M152 622h9v5h-9zM161 622h8v5h-8zM187 622h8v5h-8zM342 608h9v5h-9zM359 613h9v5h-9zM368 608h9v5h-9zM377 608h8v5h-8zM523 595h9v4h-9z"/>
<path fill="#e87564" d="M144 618h8v4h-8zM178 613h9v5h-9zM351 608h8v5h-8zM394 604h8v4h-8zM402 608h9v5h-9zM411 608h9v5h-9zM454 604h9v4h-9zM489 595h8v4h-8zM549 599h5v5h-5z"/>
<path fill="#e97663" d="M169 622h9v5h-9zM169 618h9v4h-9zM239 622h8v5h-8zM247 622h9v5h-9zM342 613h9v5h-9zM351 613h8v5h-8zM377 613h8v5h-8zM420 608h8v5h-8zM428 595h9v4h-9zM446 595h8v4h-8zM454 599h9v5h-9zM480 595h9v4h-9zM515 599h8v5h-8zM532 595h9v4h-9z"/>
<path fill="#e97863" d="M195 622h9v5h-9zM204 622h9v5h-9zM230 618h9v4h-9zM273 618h9v4h-9zM290 608h9v5h-9zM316 608h9v5h-9zM385 608h9v5h-9zM394 608h8v5h-8zM446 599h8v5h-8zM463 595h9v4h-9zM506 595h9v4h-9z"/>
<path fill="#e97963" d="M135 627h9v4h-9zM178 618h9v4h-9zM256 618h8v4h-8zM282 608h8v5h-8zM290 613h9v5h-9zM325 608h8v5h-8zM333 608h9v5h-9zM385 613h9v5h-9zM437 604h9v4h-9zM472 604h8v4h-8zM497 595h9v4h-9zM523 599h9v5h-9z"/>
<path fill="#e97a63" d="M144 622h8v5h-8zM187 627h8v4h-8zM221 622h9v5h-9zM264 618h9v4h-9zM299 618h9v4h-9zM325 613h8v5h-8zM333 613h9v5h-9zM368 613h9v5h-9zM420 613h8v5h-8zM428 599h9v5h-9zM472 599h8v5h-8zM541 604h8v4h-8zM549 604h5v4h-5z"/>
<path fill="#e97b63" d="M126 627h9v4h-9zM308 618h8v4h-8zM402 613h9v5h-9zM420 618h8v4h-8zM480 599h9v5h-9zM515 608h8v5h-8z"/>
<path fill="#e97c63" d="M123 631h3v5h-3zM187 631h8v5h-8zM213 622h8v5h-8zM256 622h8v5h-8zM273 622h9v5h-9zM299 622h9v5h-9zM316 613h9v5h-9zM377 618h8v4h-8zM428 604h9v4h-9zM437 608h9v5h-9zM497 599h9v5h-9z"/>
<path fill="#e97e63" d="M161 627h8v4h-8zM178 622h9v5h-9zM290 618h9v4h-9zM402 618h9v4h-9zM454 613h9v5h-9zM454 608h9v5h-9zM463 604h9v4h-9zM463 599h9v5h-9zM472 608h8v5h-8zM480 604h9v4h-9zM506 599h9v5h-9zM515 604h8v4h-8zM523 604h9v4h-9zM532 599h9v5h-9z"/>
<path fill="#ea7f62" d="M169 627h9v4h-9zM195 627h9v4h-9zM316 618h9v4h-9zM333 618h9v4h-9zM359 618h9v4h-9zM489 604h8v4h-8zM489 599h8v5h-8zM549 608h5v5h-5z"/>
<path fill="#ea8062" d="M144 627h8v4h-8zM152 627h9v4h-9zM230 622h9v5h-9zM264 622h9v5h-9zM282 613h8v5h-8zM351 618h8v4h-8zM368 618h9v4h-9zM385 618h9v4h-9zM411 613h9v5h-9z"/>
<path fill="#ea8162" d="M123 636h3v5h-3zM135 631h9v5h-9zM247 631h9v5h-9zM394 613h8v5h-8zM437 613h9v5h-9zM480 608h9v5h-9zM506 604h9v4h-9zM523 608h9v5h-9zM532 604h9v4h-9z"/>
<path fill="#ea8362" d="M213 627h8v4h-8zM221 627h9v4h-9zM230 627h9v4h-9zM239 627h8v4h-8zM342 618h9v4h-9zM428 608h9v5h-9zM446 608h8v5h-8zM497 608h9v5h-9zM497 604h9v4h-9zM541 608h8v5h-8z"/>
<path fill="#ea8462" d="M204 627h9v4h-9zM247 627h9v4h-9zM282 618h8v4h-8zM308 622h8v5h-8zM394 618h8v4h-8zM446 604h8v4h-8zM463 608h9v5h-9zM472 613h8v5h-8zM515 613h8v5h-8zM532 608h9v5h-9zM541 613h8v5h-8zM549 613h5v5h-5z"/>
<path fill="#ea8562" d="M161 631h8v5h-8zM178 627h9v4h-9zM377 622h8v5h-8zM411 618h9v4h-9zM506 608h9v5h-9zM541 618h8v4h-8z"/>
<path fill="#ea8662" d="M144 631h8v5h-8zM152 631h9v5h-9zM299 627h9v4h-9zM325 622h8v5h-8zM325 618h8v4h-8zM342 622h9v5h-9zM402 622h9v5h-9zM420 622h8v5h-8zM437 618h9v4h-9zM506 613h9v5h-9z"/>
<path fill="#ea8762" d="M187 636h8v5h-8zM195 631h9v5h-9zM256 627h8v4h-8zM264 627h9v4h-9zM308 627h8v4h-8zM316 622h9v5h-9zM368 622h9v5h-9zM428 613h9v5h-9zM437 622h9v5h-9zM446 613h8v5h-8zM489 613h8v5h-8zM489 608h8v5h-8z"/>
<path fill="#eb8961" d="M126 636h9v5h-9zM126 631h9v5h-9zM135 636h9v5h-9zM169 631h9v5h-9zM204 631h9v5h-9zM239 631h8v5h-8zM273 627h9v4h-9zM385 622h9v5h-9zM480 613h9v5h-9zM523 613h9v5h-9z"/>
<path fill="#eb8a61" d="M247 636h9v5h-9zM333 622h9v5h-9zM359 622h9v5h-9zM454 618h9v4h-9zM497 613h9v5h-9zM549 618h5v4h-5z"/>
<path fill="#eb8b61" d="M282 622h8v5h-8zM290 622h9v5h-9zM351 627h8v4h-8zM351 622h8v5h-8zM446 618h8v4h-8zM463 613h9v5h-9zM472 618h8v4h-8z"/>
<path fill="#eb8c61" d="M230 631h9v5h-9zM239 636h8v5h-8zM299 631h9v5h-9zM342 627h9v4h-9zM368 627h9v4h-9zM454 622h9v5h-9zM541 622h8v5h-8z"/>
<path fill="#eb8d61" d="M152 636h9v5h-9zM161 636h8v5h-8zM169 636h9v5h-9zM290 627h9v4h-9zM411 622h9v5h-9zM463 618h9v4h-9zM489 618h8v4h-8z"/>
<path fill="#eb8f61" d="M195 636h9v5h-9zM213 631h8v5h-8zM359 627h9v4h-9zM377 627h8v4h-8zM394 622h8v5h-8zM428 618h9v4h-9zM480 618h9v4h-9zM515 622h8v5h-8zM515 618h8v4h-8zM532 613h9v5h-9zM549 622h5v5h-5z"/>
<path fill="#eb9061" d="M221 631h9v5h-9zM273 631h9v5h-9zM472 622h8v5h-8zM497 618h9v4h-9zM506 618h9v4h-9zM532 622h9v5h-9z"/>
<path fill="#eb9161" d="M144 636h8v5h-8zM204 636h9v5h-9zM221 636h9v5h-9zM264 631h9v5h-9zM308 631h8v5h-8zM316 627h9v4h-9zM333 627h9v4h-9zM402 627h9v4h-9zM437 627h9v4h-9zM532 618h9v4h-9zM541 627h8v4h-8z"/>
<path fill="#ec9260" d="M178 631h9v5h-9zM256 631h8v5h-8zM282 627h8v4h-8zM411 627h9v4h-9zM420 627h8v4h-8zM428 622h9v5h-9zM489 622h8v5h-8zM523 618h9v4h-9zM549 627h5v4h-5z"/>
<path fill="#ec9460" d="M325 627h8v4h-8zM351 631h8v5h-8zM368 631h9v5h-9zM377 631h8v5h-8zM385 627h9v4h-9zM394 627h8v4h-8zM402 631h9v5h-9zM480 622h9v5h-9zM506 622h9v5h-9z"/>
<path fill="#ec9560" d="M213 636h8v5h-8zM230 636h9v5h-9zM273 636h9v5h-9zM299 636h9v5h-9zM333 631h9v5h-9zM446 622h8v5h-8zM454 627h9v4h-9zM472 627h8v4h-8zM523 622h9v5h-9z"/>
<path fill="#ec9660" d="M123 641h3v4h-3zM187 641h8v4h-8zM264 636h9v5h-9zM290 631h9v5h-9zM463 622h9v5h-9z"/>
<path fill="#ec9761" d="M135 641h9v4h-9zM256 636h8v5h-8zM316 631h9v5h-9zM359 631h9v5h-9zM515 627h8v4h-8z"/>
<path fill="#ec9862" d="M178 636h9v5h-9zM342 631h9v5h-9zM428 627h9v4h-9zM497 622h9v5h-9z"/>
<path fill="#ec9963" d="M325 631h8v5h-8zM420 631h8v5h-8zM446 627h8v4h-8zM454 631h9v5h-9zM489 627h8v4h-8zM532 627h9v4h-9z"/>
<path fill="#ed9b64" d="M126 641h9v4h-9zM282 631h8v5h-8zM308 636h8v5h-8zM385 631h9v5h-9zM411 631h9v5h-9zM506 627h9v4h-9zM523 627h9v4h-9z"/>
<path fill="#ed9c65" d="M161 641h8v4h-8zM169 641h9v4h-9zM195 641h9v4h-9zM394 631h8v5h-8zM480 627h9v4h-9zM541 631h8v5h-8z"/>
<path fill="#ed9d66" d="M247 641h9v4h-9zM351 636h8v5h-8zM437 631h9v5h-9zM463 627h9v4h-9z"/>
<path fill="#ed9e67" d="M152 641h9v4h-9zM239 641h8v4h-8zM273 641h9v4h-9z"/>
<path fill="#ed9f69" d="M204 641h9v4h-9zM213 641h8v4h-8zM230 641h9v4h-9zM256 641h8v4h-8zM316 636h9v5h-9zM325 636h8v5h-8zM342 636h9v5h-9zM359 636h9v5h-9zM377 636h8v5h-8zM420 636h8v5h-8zM497 627h9v4h-9z"/>
<path fill="#eda06a" d="M221 641h9v4h-9zM368 636h9v5h-9zM472 631h8v5h-8zM549 631h5v5h-5z"/>
<path fill="#eda16b" d="M123 645h3v5h-3zM290 636h9v5h-9zM385 636h9v5h-9zM480 631h9v5h-9zM532 631h9v5h-9z"/>
<path fill="#eda26c" d="M135 645h9v5h-9zM282 636h8v5h-8zM299 641h9v4h-9zM402 636h9v5h-9zM428 631h9v5h-9zM446 631h8v5h-8zM454 636h9v5h-9zM515 631h8v5h-8z"/>
<path fill="#eea46d" d="M333 636h9v5h-9zM411 636h9v5h-9zM437 636h9v5h-9zM463 631h9v5h-9zM523 631h9v5h-9z"/>
<path fill="#eea56e" d="M144 641h8v4h-8zM178 641h9v4h-9zM264 641h9v4h-9zM308 641h8v4h-8zM351 641h8v4h-8zM368 641h9v4h-9zM489 631h8v5h-8zM506 631h9v5h-9z"/>
<path fill="#eea66f" d="M394 636h8v5h-8zM541 636h8v5h-8z"/>
<path fill="#eea770" d="M333 641h9v4h-9zM549 636h5v5h-5z"/>
<path fill="#eea871" d="M342 641h9v4h-9zM359 641h9v4h-9zM420 641h8v4h-8z"/>
<path fill="#eea972" d="M290 641h9v4h-9zM377 641h8v4h-8zM402 641h9v4h-9zM472 636h8v5h-8zM497 631h9v5h-9z"/>
<path fill="#eeaa73" d="M126 645h9v5h-9zM152 645h9v5h-9zM161 645h8v5h-8zM187 645h8v5h-8zM195 645h9v5h-9zM316 641h9v4h-9zM411 641h9v4h-9zM446 636h8v5h-8z"/>
<path fill="#efac74" d="M247 645h9v5h-9zM325 641h8v4h-8zM385 641h9v4h-9zM480 636h9v5h-9zM515 636h8v5h-8z"/>
<path fill="#efad75" d="M144 645h8v5h-8zM169 645h9v5h-9zM204 645h9v5h-9zM213 645h8v5h-8zM239 645h8v5h-8zM282 641h8v4h-8zM506 636h9v5h-9zM523 636h9v5h-9zM532 636h9v5h-9z"/>
<path fill="#efae76" d="M221 645h9v5h-9zM273 645h9v5h-9zM308 645h8v5h-8zM428 636h9v5h-9zM454 641h9v4h-9z"/>
<path fill="#efaf77" d="M351 645h8v5h-8zM463 636h9v5h-9zM497 636h9v5h-9z"/>
<path fill="#efb079" d="M256 645h8v5h-8zM489 636h8v5h-8zM549 641h5v4h-5z"/>
<path fill="#efb17a" d="M230 645h9v5h-9zM299 645h9v5h-9zM394 641h8v4h-8zM437 641h9v4h-9z"/>
<path fill="#efb27b" d="M377 645h8v5h-8zM420 645h8v5h-8zM515 641h8v4h-8zM541 641h8v4h-8z"/>
<path fill="#efb37c" d="M178 645h9v5h-9zM264 645h9v5h-9zM523 641h9v4h-9z"/>
<path fill="#f0b57d" d="M428 641h9v4h-9zM446 641h8v4h-8zM472 641h8v4h-8zM480 641h9v4h-9z"/>
<path fill="#f0b67e" d="M342 645h9v5h-9z"/>
<path fill="#f0b77f" d="M368 645h9v5h-9zM402 645h9v5h-9zM506 641h9v4h-9z"/>
<path fill="#f0b880" d="M359 645h9v5h-9zM411 645h9v5h-9zM489 641h8v4h-8z"/>
<path fill="#f0b982" d="M282 645h8v5h-8zM316 645h9v5h-9zM333 645h9v5h-9zM463 641h9v4h-9z"/>
<path fill="#f0ba83" d="M290 645h9v5h-9zM394 645h8v5h-8zM497 641h9v4h-9zM532 641h9v4h-9z"/>
<path fill="#f0bb85" d="M385 645h9v5h-9zM437 645h9v5h-9z"/>
<path fill="#f1bc86" d="M325 645h8v5h-8zM454 645h9v5h-9zM549 645h5v5h-5z"/>
<path fill="#f1be89" d="M515 645h8v5h-8z"/>
<path fill="#f1bf8b" d="M480 645h9v5h-9zM541 645h8v5h-8z"/>
<path fill="#f1c08c" d="M428 645h9v5h-9zM472 645h8v5h-8zM489 645h8v5h-8z"/>
<path fill="#f2c18e" d="M532 645h9v5h-9z"/>
<path fill="#f2c28f" d="M506 645h9v5h-9z"/>
<path fill="#f2c391" d="M463 645h9v5h-9zM523 645h9v5h-9z"/>
<path fill="#f2c492" d="M446 645h8v5h-8zM497 645h9v5h-9z"/>
</g>
<path d="M122.6 556.7 L133.7 554.0 L144.7 551.5 L155.8 549.0 L166.9 546.6 L178.0 544.3 L189.0 542.0 L200.1 539.8 L211.2 537.7 L222.3 535.6 L233.3 533.6 L244.4 531.6 L255.5 529.7 L266.6 527.8 L277.6 526.0 L288.7 524.2 L299.8 522.5 L310.9 520.8 L321.9 519.2 L333.0 517.6 L344.1 516.0 L355.2 514.5 L366.2 513.0 L377.3 511.6 L388.4 510.1 L399.5 508.7 L410.5 507.3 L421.6 506.0 L432.7 504.6 L443.8 503.3 L454.8 502.0 L465.9 500.7 L477.0 499.5 L488.1 498.2 L499.1 497.0 L510.2 495.7 L521.3 494.5 L532.4 493.2 L543.4 492.0 L554.5 490.8" fill="none" stroke="#fff" stroke-width="2.2" stroke-dasharray="9.25 4" clip-path="url(#cbp)"/>
<path d="M122.6 597.0 L133.7 595.0 L144.7 593.0 L155.8 591.1 L166.9 589.2 L178.0 587.4 L189.0 585.6 L200.1 583.8 L211.2 582.1 L222.3 580.4 L233.3 578.8 L244.4 577.2 L255.5 575.6 L266.6 574.0 L277.6 572.5 L288.7 571.1 L299.8 569.6 L310.9 568.2 L321.9 566.9 L333.0 565.6 L344.1 564.3 L355.2 563.1 L366.2 561.8 L377.3 560.7 L388.4 559.6 L399.5 558.5 L410.5 557.4 L421.6 556.4 L432.7 555.4 L443.8 554.5 L454.8 553.6 L465.9 552.8 L477.0 552.0 L488.1 551.2 L499.1 550.4 L510.2 549.7 L521.3 549.1 L532.4 548.5 L543.4 547.9 L554.5 547.4" fill="none" stroke="#fff" stroke-width="2.2" stroke-dasharray="9.25 4" clip-path="url(#cbp)"/>
<clipPath id="bfront"><polygon points="134.2,428.1 248.5,433.4 251.1,550.3 138.1,545"/></clipPath>
<clipPath id="bright"><polygon points="248.5,433.4 295.3,403.1 298.4,521.4 251.1,550.3"/></clipPath>
<polygon points="180.2,397.9 295.3,403.1 248.5,433.4 134.2,428.1" fill="#858b92"/>
<g fill="#e8a2b6" fill-opacity="0.9"><ellipse cx="153.8" cy="425.92" rx="2.7" ry="1.0"/><ellipse cx="158.86" cy="428.38" rx="2.7" ry="1.0"/><ellipse cx="172.63" cy="428.19" rx="2.7" ry="1.0"/><ellipse cx="188.61" cy="426.65" rx="2.7" ry="1.0"/><ellipse cx="197.26" cy="429.64" rx="2.7" ry="1.0"/><ellipse cx="212.16" cy="428.93" rx="2.7" ry="1.0"/><ellipse cx="218.85" cy="430.97" rx="2.7" ry="1.0"/><ellipse cx="244.54" cy="430.61" rx="2.7" ry="1.0"/><ellipse cx="161.06" cy="420.45" rx="2.7" ry="1.0"/><ellipse cx="168.21" cy="420.45" rx="2.7" ry="1.0"/><ellipse cx="184.62" cy="423.41" rx="2.7" ry="1.0"/><ellipse cx="200.35" cy="422.59" rx="2.7" ry="1.0"/><ellipse cx="210.57" cy="423.97" rx="2.7" ry="1.0"/><ellipse cx="223.23" cy="423.8" rx="2.7" ry="1.0"/><ellipse cx="236.86" cy="423.13" rx="2.7" ry="1.0"/><ellipse cx="249.06" cy="424.66" rx="2.7" ry="1.0"/><ellipse cx="162.73" cy="415.69" rx="2.7" ry="1.0"/><ellipse cx="169" cy="414.98" rx="2.7" ry="1.0"/><ellipse cx="176.43" cy="418.22" rx="2.7" ry="1.0"/><ellipse cx="193.63" cy="418.92" rx="2.7" ry="1.0"/><ellipse cx="199.83" cy="418.97" rx="2.7" ry="1.0"/><ellipse cx="222.86" cy="420.42" rx="2.7" ry="1.0"/><ellipse cx="235.84" cy="417.86" rx="2.7" ry="1.0"/><ellipse cx="248.93" cy="418.01" rx="2.7" ry="1.0"/><ellipse cx="168.82" cy="411.19" rx="2.7" ry="1.0"/><ellipse cx="177.42" cy="412.96" rx="2.7" ry="1.0"/><ellipse cx="194.67" cy="410.29" rx="2.7" ry="1.0"/><ellipse cx="203.47" cy="412.57" rx="2.7" ry="1.0"/><ellipse cx="217.46" cy="412.7" rx="2.7" ry="1.0"/><ellipse cx="230.05" cy="411.97" rx="2.7" ry="1.0"/><ellipse cx="238.14" cy="413.17" rx="2.7" ry="1.0"/><ellipse cx="249.33" cy="412.71" rx="2.7" ry="1.0"/><ellipse cx="257.17" cy="416.72" rx="2.7" ry="1.0"/><ellipse cx="268.42" cy="417.2" rx="2.7" ry="1.0"/><ellipse cx="172.97" cy="407.3" rx="2.7" ry="1.0"/><ellipse cx="185.78" cy="405.55" rx="2.7" ry="1.0"/><ellipse cx="204.1" cy="406.4" rx="2.7" ry="1.0"/><ellipse cx="215.53" cy="407.74" rx="2.7" ry="1.0"/><ellipse cx="226.57" cy="408.6" rx="2.7" ry="1.0"/><ellipse cx="239.2" cy="408.29" rx="2.7" ry="1.0"/><ellipse cx="263.6" cy="408.88" rx="2.7" ry="1.0"/><ellipse cx="271.88" cy="408.99" rx="2.7" ry="1.0"/><ellipse cx="184.23" cy="401.02" rx="2.7" ry="1.0"/><ellipse cx="193.83" cy="401.88" rx="2.7" ry="1.0"/><ellipse cx="211.82" cy="402.25" rx="2.7" ry="1.0"/><ellipse cx="216.41" cy="402.85" rx="2.7" ry="1.0"/><ellipse cx="234.25" cy="403.22" rx="2.7" ry="1.0"/><ellipse cx="238.94" cy="403.14" rx="2.7" ry="1.0"/><ellipse cx="257.58" cy="402.82" rx="2.7" ry="1.0"/><ellipse cx="263.74" cy="403.21" rx="2.7" ry="1.0"/><ellipse cx="276.81" cy="405.55" rx="2.7" ry="1.0"/><ellipse cx="285.7" cy="404.26" rx="2.7" ry="1.0"/></g>
<polygon points="248.5,433.4 295.3,403.1 298.4,521.4 251.1,550.3" fill="#533a55" fill-opacity="0.72"/>
<polygon points="134.2,428.1 248.5,433.4 251.1,550.3 138.1,545" fill="#e3c5e4" fill-opacity="0.62"/>
<path d="M122.6 556.7 L133.7 554.0 L144.7 551.5 L155.8 549.0 L166.9 546.6 L178.0 544.3 L189.0 542.0 L200.1 539.8 L211.2 537.7 L222.3 535.6 L233.3 533.6 L244.4 531.6 L255.5 529.7 L266.6 527.8 L277.6 526.0 L288.7 524.2 L299.8 522.5 L310.9 520.8 L321.9 519.2 L333.0 517.6 L344.1 516.0 L355.2 514.5 L366.2 513.0 L377.3 511.6 L388.4 510.1 L399.5 508.7 L410.5 507.3 L421.6 506.0 L432.7 504.6 L443.8 503.3 L454.8 502.0 L465.9 500.7 L477.0 499.5 L488.1 498.2 L499.1 497.0 L510.2 495.7 L521.3 494.5 L532.4 493.2 L543.4 492.0 L554.5 490.8" fill="none" stroke="#fff" stroke-width="2.2" stroke-dasharray="9.25 4" clip-path="url(#bfront)"/>
<path d="M122.6 556.7 L133.7 554.0 L144.7 551.5 L155.8 549.0 L166.9 546.6 L178.0 544.3 L189.0 542.0 L200.1 539.8 L211.2 537.7 L222.3 535.6 L233.3 533.6 L244.4 531.6 L255.5 529.7 L266.6 527.8 L277.6 526.0 L288.7 524.2 L299.8 522.5 L310.9 520.8 L321.9 519.2 L333.0 517.6 L344.1 516.0 L355.2 514.5 L366.2 513.0 L377.3 511.6 L388.4 510.1 L399.5 508.7 L410.5 507.3 L421.6 506.0 L432.7 504.6 L443.8 503.3 L454.8 502.0 L465.9 500.7 L477.0 499.5 L488.1 498.2 L499.1 497.0 L510.2 495.7 L521.3 494.5 L532.4 493.2 L543.4 492.0 L554.5 490.8" fill="none" stroke="#b4bbb6" stroke-width="2.2" stroke-dasharray="9.25 4" clip-path="url(#bright)"/>
<polyline points="134.2,428.1 248.5,433.4 251.1,550.3" fill="none" stroke="#fff" stroke-width="1" stroke-opacity="0.9"/>
<path d="M207.2 413V484" stroke="#222" stroke-width="1" stroke-dasharray="2.5 1.5"/>
<circle cx="207.8" cy="487.2" r="4.6" fill="#ec965a"/>
<text x="189" y="474.1" font-size="22.5" fill="#222" stroke="#222">d</text>
<text x="425.4" y="491.1" font-size="24.5" fill="#fff" stroke="#fff" textLength="32" lengthAdjust="spacingAndGlyphs">1%</text>
<text x="425.4" y="546.6" font-size="24.5" fill="#fff" stroke="#fff" textLength="45" lengthAdjust="spacingAndGlyphs">10%</text>
<path d="M122.6 407.7h-3.7" stroke="#222" stroke-width="1.2"/>
<path d="M122.6 499.6h-3.7" stroke="#222" stroke-width="1.2"/>
<path d="M122.6 591.5h-3.7" stroke="#222" stroke-width="1.2"/>
<path d="M166 649.8v4.2" stroke="#222" stroke-width="1.2"/>
<path d="M252.3 649.8v4.2" stroke="#222" stroke-width="1.2"/>
<path d="M338.6 649.8v4.2" stroke="#222" stroke-width="1.2"/>
<path d="M424.9 649.8v4.2" stroke="#222" stroke-width="1.2"/>
<path d="M511.2 649.8v4.2" stroke="#222" stroke-width="1.2"/>
<rect x="122.7" y="391.8" width="431.8" height="258" fill="none" stroke="#1a1a1a" stroke-width="1.3"/>
<g clip-path="url(#ccp)">
<path fill="#702c78" d="M122 821h8v6h-8zM122 816h8v5h-8zM122 810h8v6h-8zM130 821h18v6h-18z"/>
<path fill="#722c78" d="M122 832h8v5h-8zM122 827h8v5h-8zM122 805h8v5h-8zM122 794h8v6h-8zM122 767h8v6h-8zM130 832h18v5h-18zM130 827h18v5h-18zM148 810h17v6h-17zM165 821h17v6h-17zM165 794h17v6h-17zM182 821h17v6h-17zM234 784h17v5h-17zM234 757h17v5h-17zM268 789h18v5h-18z"/>
<path fill="#732c78" d="M122 843h8v5h-8zM122 800h8v5h-8zM122 789h8v5h-8zM122 784h8v5h-8zM122 778h8v6h-8zM122 773h8v5h-8zM122 762h8v5h-8zM130 810h18v6h-18zM130 805h18v5h-18zM130 800h18v5h-18zM130 794h18v6h-18zM130 789h18v5h-18zM148 821h17v6h-17zM148 816h17v5h-17zM148 794h17v6h-17zM148 773h17v5h-17zM165 827h17v5h-17zM165 810h17v6h-17zM165 800h17v5h-17zM165 789h17v5h-17zM165 784h17v5h-17zM165 778h17v6h-17zM165 773h17v5h-17zM165 767h17v6h-17zM165 762h17v5h-17zM182 800h17v5h-17zM182 794h17v6h-17zM182 789h17v5h-17zM182 778h17v6h-17zM182 773h17v5h-17zM199 789h18v5h-18zM217 800h17v5h-17zM217 794h17v6h-17zM217 762h17v5h-17zM234 794h17v6h-17zM234 789h17v5h-17zM234 778h17v6h-17zM234 773h17v5h-17zM234 767h17v6h-17zM234 762h17v5h-17zM234 755h17v2h-17zM251 757h17v5h-17zM251 755h17v2h-17zM268 773h18v5h-18zM268 762h18v5h-18zM268 757h18v5h-18zM268 755h18v2h-18zM286 762h17v5h-17zM286 755h17v2h-17zM303 773h17v5h-17zM337 778h18v6h-18z"/>
<path fill="#752d78" d="M122 837h8v6h-8zM122 757h8v5h-8zM130 843h18v5h-18zM130 816h18v5h-18zM130 784h18v5h-18zM130 778h18v6h-18zM148 827h17v5h-17zM148 805h17v5h-17zM148 800h17v5h-17zM148 789h17v5h-17zM148 784h17v5h-17zM148 778h17v6h-17zM148 762h17v5h-17zM165 816h17v5h-17zM165 805h17v5h-17zM165 755h17v2h-17zM182 832h17v5h-17zM182 827h17v5h-17zM182 816h17v5h-17zM182 810h17v6h-17zM182 805h17v5h-17zM182 767h17v6h-17zM182 762h17v5h-17zM182 757h17v5h-17zM199 827h18v5h-18zM199 810h18v6h-18zM199 778h18v6h-18zM199 767h18v6h-18zM199 755h18v2h-18zM217 805h17v5h-17zM217 789h17v5h-17zM217 784h17v5h-17zM217 778h17v6h-17zM217 767h17v6h-17zM217 757h17v5h-17zM217 755h17v2h-17zM234 816h17v5h-17zM234 805h17v5h-17zM234 800h17v5h-17zM251 805h17v5h-17zM251 794h17v6h-17zM251 784h17v5h-17zM251 778h17v6h-17zM251 773h17v5h-17zM251 762h17v5h-17zM268 805h18v5h-18zM268 794h18v6h-18zM268 767h18v6h-18zM286 778h17v6h-17zM286 773h17v5h-17zM286 757h17v5h-17zM303 757h17v5h-17zM320 755h17v2h-17zM337 757h18v5h-18zM355 755h17v2h-17zM372 755h17v2h-17zM389 757h17v5h-17z"/>
<path fill="#772d78" d="M122 848h8v5h-8zM122 755h8v2h-8zM130 837h18v6h-18zM130 773h18v5h-18zM130 767h18v6h-18zM130 762h18v5h-18zM148 837h17v6h-17zM148 832h17v5h-17zM148 767h17v6h-17zM148 757h17v5h-17zM148 755h17v2h-17zM165 843h17v5h-17zM165 837h17v6h-17zM165 832h17v5h-17zM165 757h17v5h-17zM182 784h17v5h-17zM182 755h17v2h-17zM199 821h18v6h-18zM199 816h18v5h-18zM199 805h18v5h-18zM199 800h18v5h-18zM199 794h18v6h-18zM199 784h18v5h-18zM199 762h18v5h-18zM199 757h18v5h-18zM217 832h17v5h-17zM217 821h17v6h-17zM217 810h17v6h-17zM217 773h17v5h-17zM234 810h17v6h-17zM251 810h17v6h-17zM251 800h17v5h-17zM251 789h17v5h-17zM251 767h17v6h-17zM268 816h18v5h-18zM268 810h18v6h-18zM268 800h18v5h-18zM268 784h18v5h-18zM268 778h18v6h-18zM286 805h17v5h-17zM286 794h17v6h-17zM286 789h17v5h-17zM286 784h17v5h-17zM286 767h17v6h-17zM303 784h17v5h-17zM303 778h17v6h-17zM303 767h17v6h-17zM303 762h17v5h-17zM303 755h17v2h-17zM320 773h17v5h-17zM320 767h17v6h-17zM320 762h17v5h-17zM320 757h17v5h-17zM337 789h18v5h-18zM337 784h18v5h-18zM337 767h18v6h-18zM337 755h18v2h-18zM355 789h17v5h-17zM355 778h17v6h-17zM355 767h17v6h-17zM355 762h17v5h-17zM355 757h17v5h-17zM372 757h17v5h-17zM389 778h17v6h-17zM389 762h17v5h-17zM389 755h17v2h-17z"/>
<path fill="#782d78" d="M122 853h8v6h-8zM130 848h18v5h-18zM130 757h18v5h-18zM130 755h18v2h-18zM148 843h17v5h-17zM165 848h17v5h-17zM182 837h17v6h-17zM199 773h18v5h-18zM217 827h17v5h-17zM217 816h17v5h-17zM234 832h17v5h-17zM234 827h17v5h-17zM234 821h17v6h-17zM251 816h17v5h-17zM268 821h18v6h-18zM286 800h17v5h-17zM303 800h17v5h-17zM303 794h17v6h-17zM303 789h17v5h-17zM320 789h17v5h-17zM320 784h17v5h-17zM320 778h17v6h-17zM337 773h18v5h-18zM337 762h18v5h-18zM355 800h17v5h-17zM355 773h17v5h-17zM372 789h17v5h-17zM372 773h17v5h-17zM372 767h17v6h-17zM372 762h17v5h-17zM389 773h17v5h-17zM389 767h17v6h-17zM406 757h18v5h-18zM406 755h18v2h-18zM441 762h17v5h-17zM441 757h17v5h-17z"/>
<path fill="#7a2d78" d="M122 859h8v5h-8zM130 853h18v6h-18zM182 843h17v5h-17zM199 832h18v5h-18zM251 821h17v6h-17zM268 827h18v5h-18zM286 810h17v6h-17zM303 805h17v5h-17zM320 805h17v5h-17zM320 794h17v6h-17zM337 800h18v5h-18zM337 794h18v6h-18zM355 794h17v6h-17zM355 784h17v5h-17zM372 800h17v5h-17zM372 794h17v6h-17zM372 784h17v5h-17zM372 778h17v6h-17zM389 805h17v5h-17zM389 784h17v5h-17zM406 789h18v5h-18zM406 778h18v6h-18zM406 773h18v5h-18zM406 767h18v6h-18zM406 762h18v5h-18zM424 778h17v6h-17zM424 773h17v5h-17zM424 757h17v5h-17zM424 755h17v2h-17zM441 767h17v6h-17zM441 755h17v2h-17z"/>
<path fill="#7c2e79" d="M122 869h8v6h-8zM122 864h8v5h-8zM130 859h18v5h-18zM148 859h17v5h-17zM148 853h17v6h-17zM148 848h17v5h-17zM165 853h17v6h-17zM182 853h17v6h-17zM199 843h18v5h-18zM199 837h18v6h-18zM217 843h17v5h-17zM217 837h17v6h-17zM234 837h17v6h-17zM251 832h17v5h-17zM251 827h17v5h-17zM286 816h17v5h-17zM320 810h17v6h-17zM320 800h17v5h-17zM337 816h18v5h-18zM337 805h18v5h-18zM355 810h17v6h-17zM355 805h17v5h-17zM389 800h17v5h-17zM389 794h17v6h-17zM389 789h17v5h-17zM406 794h18v6h-18zM406 784h18v5h-18zM424 789h17v5h-17zM424 784h17v5h-17zM424 767h17v6h-17zM424 762h17v5h-17zM441 778h17v6h-17zM441 773h17v5h-17zM458 773h17v5h-17zM458 762h17v5h-17zM458 757h17v5h-17zM475 762h18v5h-18zM475 757h18v5h-18zM493 762h17v5h-17zM493 757h17v5h-17zM527 778h17v6h-17zM527 757h17v5h-17z"/>
<path fill="#7e2e79" d="M130 864h18v5h-18zM148 864h17v5h-17zM165 859h17v5h-17zM182 848h17v5h-17zM199 848h18v5h-18zM217 848h17v5h-17zM234 848h17v5h-17zM251 837h17v6h-17zM268 837h18v6h-18zM268 832h18v5h-18zM286 832h17v5h-17zM286 827h17v5h-17zM286 821h17v6h-17zM303 821h17v6h-17zM303 816h17v5h-17zM303 810h17v6h-17zM320 816h17v5h-17zM337 810h18v6h-18zM372 805h17v5h-17zM406 800h18v5h-18zM424 805h17v5h-17zM424 794h17v6h-17zM441 805h17v5h-17zM441 800h17v5h-17zM475 789h18v5h-18zM475 778h18v6h-18zM475 767h18v6h-18zM475 755h18v2h-18zM493 773h17v5h-17zM493 767h17v6h-17zM493 755h17v2h-17zM510 773h17v5h-17zM510 762h17v5h-17zM510 757h17v5h-17zM510 755h17v2h-17zM527 767h17v6h-17zM527 762h17v5h-17zM527 755h17v2h-17zM544 762h10v5h-10z"/>
<path fill="#7f2e79" d="M122 875h8v5h-8zM165 864h17v5h-17zM182 859h17v5h-17zM199 853h18v6h-18zM234 843h17v5h-17zM251 843h17v5h-17zM303 827h17v5h-17zM320 827h17v5h-17zM320 821h17v6h-17zM355 816h17v5h-17zM372 810h17v6h-17zM389 810h17v6h-17zM406 805h18v5h-18zM424 800h17v5h-17zM441 794h17v6h-17zM441 789h17v5h-17zM441 784h17v5h-17zM458 784h17v5h-17zM458 767h17v6h-17zM458 755h17v2h-17zM475 800h18v5h-18zM475 784h18v5h-18zM475 773h18v5h-18zM493 794h17v6h-17zM493 784h17v5h-17zM510 794h17v6h-17zM510 767h17v6h-17zM527 794h17v6h-17zM527 784h17v5h-17zM527 773h17v5h-17zM544 773h10v5h-10zM544 767h10v6h-10zM544 757h10v5h-10z"/>
<path fill="#812e79" d="M130 869h18v6h-18zM182 864h17v5h-17zM217 859h17v5h-17zM234 853h17v6h-17zM251 848h17v5h-17zM268 848h18v5h-18zM268 843h18v5h-18zM286 837h17v6h-17zM337 827h18v5h-18zM337 821h18v6h-18zM372 821h17v6h-17zM372 816h17v5h-17zM389 816h17v5h-17zM406 816h18v5h-18zM406 810h18v6h-18zM458 800h17v5h-17zM458 794h17v6h-17zM458 778h17v6h-17zM475 794h18v6h-18zM493 800h17v5h-17zM493 789h17v5h-17zM493 778h17v6h-17zM510 789h17v5h-17zM510 784h17v5h-17zM510 778h17v6h-17zM527 800h17v5h-17zM527 789h17v5h-17zM544 755h10v2h-10z"/>
<path fill="#832f79" d="M122 880h8v6h-8zM130 875h18v5h-18zM148 869h17v6h-17zM165 875h17v5h-17zM199 859h18v5h-18zM217 853h17v6h-17zM234 864h17v5h-17zM234 859h17v5h-17zM251 853h17v6h-17zM268 853h18v6h-18zM286 848h17v5h-17zM286 843h17v5h-17zM303 832h17v5h-17zM355 832h17v5h-17zM355 827h17v5h-17zM355 821h17v6h-17zM372 827h17v5h-17zM389 827h17v5h-17zM389 821h17v6h-17zM406 821h18v6h-18zM424 816h17v5h-17zM424 810h17v6h-17zM441 816h17v5h-17zM441 810h17v6h-17zM458 805h17v5h-17zM458 789h17v5h-17zM475 805h18v5h-18zM493 805h17v5h-17zM544 800h10v5h-10zM544 794h10v6h-10zM544 789h10v5h-10zM544 784h10v5h-10zM544 778h10v6h-10z"/>
<path fill="#842f79" d="M148 875h17v5h-17zM165 869h17v6h-17zM182 875h17v5h-17zM182 869h17v6h-17zM199 864h18v5h-18zM251 859h17v5h-17zM303 848h17v5h-17zM303 837h17v6h-17zM320 832h17v5h-17zM337 837h18v6h-18zM337 832h18v5h-18zM355 837h17v6h-17zM389 832h17v5h-17zM406 827h18v5h-18zM424 827h17v5h-17zM441 827h17v5h-17zM441 821h17v6h-17zM458 816h17v5h-17zM458 810h17v6h-17zM475 810h18v6h-18zM493 810h17v6h-17zM510 810h17v6h-17zM510 800h17v5h-17zM527 805h17v5h-17zM544 805h10v5h-10z"/>
<path fill="#862f79" d="M122 886h8v5h-8zM130 880h18v6h-18zM165 880h17v6h-17zM217 869h17v6h-17zM217 864h17v5h-17zM234 875h17v5h-17zM234 869h17v6h-17zM268 859h18v5h-18zM286 853h17v6h-17zM303 843h17v5h-17zM320 843h17v5h-17zM320 837h17v6h-17zM355 843h17v5h-17zM372 832h17v5h-17zM424 821h17v6h-17zM510 805h17v5h-17zM527 810h17v6h-17zM544 810h10v6h-10z"/>
<path fill="#882f79" d="M148 880h17v6h-17zM182 880h17v6h-17zM199 869h18v6h-18zM251 864h17v5h-17zM268 869h18v6h-18zM268 864h18v5h-18zM320 853h17v6h-17zM320 848h17v5h-17zM337 848h18v5h-18zM337 843h18v5h-18zM355 848h17v5h-17zM372 843h17v5h-17zM372 837h17v6h-17zM389 843h17v5h-17zM389 837h17v6h-17zM406 832h18v5h-18zM424 832h17v5h-17zM441 832h17v5h-17zM458 821h17v6h-17zM475 821h18v6h-18zM475 816h18v5h-18zM493 821h17v6h-17zM493 816h17v5h-17zM510 816h17v5h-17zM527 821h17v6h-17zM527 816h17v5h-17z"/>
<path fill="#892f79" d="M130 891h18v5h-18zM130 886h18v5h-18zM165 886h17v5h-17zM199 875h18v5h-18zM217 875h17v5h-17zM286 859h17v5h-17zM303 853h17v6h-17zM337 853h18v6h-18zM355 853h17v6h-17zM372 848h17v5h-17zM389 848h17v5h-17zM406 837h18v6h-18zM424 837h17v6h-17zM458 827h17v5h-17zM475 827h18v5h-18zM493 827h17v5h-17zM527 827h17v5h-17zM544 821h10v6h-10zM544 816h10v5h-10z"/>
<path fill="#8b3079" d="M122 896h8v6h-8zM122 891h8v5h-8zM148 886h17v5h-17zM217 880h17v6h-17zM234 880h17v6h-17zM251 875h17v5h-17zM251 869h17v6h-17zM286 869h17v6h-17zM286 864h17v5h-17zM355 859h17v5h-17zM406 843h18v5h-18zM424 843h17v5h-17zM458 832h17v5h-17zM475 832h18v5h-18zM493 832h17v5h-17zM510 821h17v6h-17zM527 837h17v6h-17zM544 827h10v5h-10z"/>
<path fill="#8d3079" d="M165 891h17v5h-17zM199 880h18v6h-18zM268 875h18v5h-18zM303 864h17v5h-17zM303 859h17v5h-17zM320 859h17v5h-17zM337 859h18v5h-18zM372 853h17v6h-17zM406 848h18v5h-18zM424 848h17v5h-17zM441 848h17v5h-17zM441 843h17v5h-17zM441 837h17v6h-17zM458 843h17v5h-17zM458 837h17v6h-17zM493 837h17v6h-17zM510 832h17v5h-17zM510 827h17v5h-17z"/>
<path fill="#8e3079" d="M130 896h18v6h-18zM148 891h17v5h-17zM182 886h17v5h-17zM199 886h18v5h-18zM234 886h17v5h-17zM251 880h17v6h-17zM286 875h17v5h-17zM303 869h17v6h-17zM320 864h17v5h-17zM337 864h18v5h-18zM372 859h17v5h-17zM389 853h17v6h-17zM475 843h18v5h-18zM475 837h18v6h-18zM493 843h17v5h-17zM510 843h17v5h-17zM510 837h17v6h-17zM527 832h17v5h-17zM544 832h10v5h-10z"/>
<path fill="#903079" d="M122 902h8v5h-8zM182 891h17v5h-17zM217 891h17v5h-17zM217 886h17v5h-17zM234 891h17v5h-17zM268 880h18v6h-18zM320 869h17v6h-17zM355 864h17v5h-17zM372 864h17v5h-17zM389 859h17v5h-17zM406 853h18v6h-18zM424 853h17v6h-17zM441 853h17v6h-17zM458 848h17v5h-17zM475 848h18v5h-18zM493 848h17v5h-17zM527 843h17v5h-17zM544 843h10v5h-10zM544 837h10v6h-10z"/>
<path fill="#92317a" d="M122 907h8v5h-8zM165 896h17v6h-17zM199 891h18v5h-18zM251 886h17v5h-17zM286 886h17v5h-17zM286 880h17v6h-17zM303 875h17v5h-17zM337 869h18v6h-18zM355 869h17v6h-17zM389 864h17v5h-17zM406 859h18v5h-18zM424 859h17v5h-17zM441 859h17v5h-17zM493 853h17v6h-17z"/>
<path fill="#94317a" d="M130 902h18v5h-18zM148 896h17v6h-17zM182 896h17v6h-17zM251 891h17v5h-17zM268 891h18v5h-18zM268 886h18v5h-18zM303 886h17v5h-17zM320 880h17v6h-17zM320 875h17v5h-17zM337 880h18v6h-18zM337 875h18v5h-18zM458 853h17v6h-17zM510 848h17v5h-17zM527 848h17v5h-17zM544 848h10v5h-10z"/>
<path fill="#95317a" d="M165 902h17v5h-17zM199 896h18v6h-18zM286 891h17v5h-17zM303 880h17v6h-17zM355 875h17v5h-17zM372 869h17v6h-17zM389 869h17v6h-17zM406 869h18v6h-18zM406 864h18v5h-18zM424 864h17v5h-17zM441 864h17v5h-17zM510 853h17v6h-17zM527 853h17v6h-17z"/>
<path fill="#97317a" d="M122 918h8v5h-8zM122 912h8v6h-8zM165 907h17v5h-17zM182 902h17v5h-17zM217 896h17v6h-17zM234 896h17v6h-17zM268 896h18v6h-18zM320 886h17v5h-17zM355 880h17v6h-17zM372 880h17v6h-17zM372 875h17v5h-17zM389 875h17v5h-17zM458 859h17v5h-17zM475 859h18v5h-18zM475 853h18v6h-18zM527 859h17v5h-17zM544 853h10v6h-10z"/>
<path fill="#99327a" d="M130 907h18v5h-18zM148 902h17v5h-17zM251 896h17v6h-17zM337 886h18v5h-18zM355 886h17v5h-17zM389 880h17v6h-17zM406 875h18v5h-18zM424 869h17v6h-17zM441 869h17v6h-17zM458 864h17v5h-17zM493 859h17v5h-17zM510 859h17v5h-17z"/>
<path fill="#9a327a" d="M148 907h17v5h-17zM182 907h17v5h-17zM199 902h18v5h-18zM217 902h17v5h-17zM234 902h17v5h-17zM286 896h17v6h-17zM303 891h17v5h-17zM337 891h18v5h-18zM372 886h17v5h-17zM424 875h17v5h-17zM475 864h18v5h-18zM493 864h17v5h-17zM527 864h17v5h-17zM544 864h10v5h-10zM544 859h10v5h-10z"/>
<path fill="#9c327a" d="M165 912h17v6h-17zM251 902h17v5h-17zM320 891h17v5h-17zM389 886h17v5h-17zM406 880h18v6h-18zM424 880h17v6h-17zM441 875h17v5h-17zM458 869h17v6h-17zM475 869h18v6h-18zM493 869h17v6h-17zM510 864h17v5h-17zM527 869h17v6h-17z"/>
<path fill="#9d327a" d="M199 907h18v5h-18zM217 907h17v5h-17zM234 907h17v5h-17zM355 891h17v5h-17zM424 886h17v5h-17zM441 880h17v6h-17z"/>
<path fill="#9f337a" d="M122 923h8v6h-8zM130 918h18v5h-18zM130 912h18v6h-18zM148 912h17v6h-17zM234 912h17v6h-17zM268 902h18v5h-18zM286 902h17v5h-17zM303 896h17v6h-17zM320 896h17v6h-17zM337 896h18v6h-18zM355 896h17v6h-17zM372 896h17v6h-17zM372 891h17v5h-17zM389 891h17v5h-17zM406 886h18v5h-18zM475 875h18v5h-18zM493 875h17v5h-17zM510 869h17v6h-17zM527 875h17v5h-17z"/>
<path fill="#a03379" d="M122 929h8v5h-8zM165 918h17v5h-17zM182 912h17v6h-17zM199 912h18v6h-18zM251 907h17v5h-17zM268 907h18v5h-18zM303 902h17v5h-17zM337 902h18v5h-18zM458 875h17v5h-17zM475 880h18v6h-18zM510 875h17v5h-17zM544 869h10v6h-10z"/>
<path fill="#a23379" d="M122 934h8v5h-8zM130 923h18v6h-18zM182 918h17v5h-17zM217 912h17v6h-17zM286 907h17v5h-17zM320 902h17v5h-17zM424 891h17v5h-17zM441 891h17v5h-17zM441 886h17v5h-17zM458 886h17v5h-17zM458 880h17v6h-17zM475 886h18v5h-18zM493 880h17v6h-17zM527 880h17v6h-17zM544 880h10v6h-10z"/>
<path fill="#a33379" d="M165 923h17v6h-17zM217 918h17v5h-17zM303 907h17v5h-17zM320 907h17v5h-17zM389 896h17v6h-17zM406 896h18v6h-18zM406 891h18v5h-18zM493 886h17v5h-17zM510 886h17v5h-17zM510 880h17v6h-17zM527 886h17v5h-17zM544 875h10v5h-10z"/>
<path fill="#a43479" d="M148 923h17v6h-17zM148 918h17v5h-17zM182 923h17v6h-17zM199 918h18v5h-18zM234 923h17v6h-17zM251 912h17v6h-17zM268 912h18v6h-18zM355 902h17v5h-17zM372 902h17v5h-17zM424 896h17v6h-17zM441 896h17v6h-17zM458 891h17v5h-17zM475 891h18v5h-18zM493 891h17v5h-17z"/>
<path fill="#a63478" d="M122 945h8v5h-8zM122 939h8v6h-8zM130 929h18v5h-18zM234 918h17v5h-17zM251 918h17v5h-17zM268 918h18v5h-18zM337 907h18v5h-18zM389 902h17v5h-17zM475 896h18v6h-18zM527 891h17v5h-17zM544 886h10v5h-10z"/>
<path fill="#a73478" d="M165 939h17v6h-17zM165 934h17v5h-17zM182 929h17v5h-17zM217 923h17v6h-17zM286 918h17v5h-17zM286 912h17v6h-17zM355 907h17v5h-17zM389 907h17v5h-17zM406 902h18v5h-18zM424 902h17v5h-17zM441 902h17v5h-17zM458 896h17v6h-17zM510 891h17v5h-17zM544 896h10v6h-10zM544 891h10v5h-10z"/>
<path fill="#a93478" d="M217 929h17v5h-17zM251 923h17v6h-17zM320 912h17v6h-17zM337 912h18v6h-18zM355 912h17v6h-17zM372 907h17v5h-17zM389 912h17v6h-17zM424 907h17v5h-17zM458 902h17v5h-17zM493 896h17v6h-17zM527 896h17v6h-17z"/>
<path fill="#aa3578" d="M130 934h18v5h-18zM148 929h17v5h-17zM165 929h17v5h-17zM182 934h17v5h-17zM199 923h18v6h-18zM234 939h17v6h-17zM234 934h17v5h-17zM234 929h17v5h-17zM268 923h18v6h-18zM406 907h18v5h-18zM441 907h17v5h-17zM475 902h18v5h-18zM493 902h17v5h-17zM510 902h17v5h-17zM510 896h17v6h-17z"/>
<path fill="#ab3577" d="M122 950h8v5h-8zM148 934h17v5h-17zM303 912h17v6h-17zM372 912h17v6h-17zM406 912h18v6h-18zM527 902h17v5h-17zM544 902h10v5h-10z"/>
<path fill="#ad3577" d="M199 929h18v5h-18zM303 918h17v5h-17zM337 918h18v5h-18zM424 912h17v6h-17zM441 918h17v5h-17zM441 912h17v6h-17z"/>
<path fill="#ae3577" d="M130 945h18v5h-18zM165 950h17v5h-17zM165 945h17v5h-17zM182 945h17v5h-17zM217 934h17v5h-17zM234 945h17v5h-17zM251 934h17v5h-17zM251 929h17v5h-17zM268 939h18v6h-18zM268 934h18v5h-18zM286 923h17v6h-17zM320 918h17v5h-17zM355 923h17v6h-17zM355 918h17v5h-17zM458 907h17v5h-17zM475 907h18v5h-18zM493 907h17v5h-17zM527 907h17v5h-17z"/>
<path fill="#b03677" d="M130 939h18v6h-18zM148 939h17v6h-17zM182 939h17v6h-17zM268 929h18v5h-18zM286 929h17v5h-17zM303 923h17v6h-17zM337 923h18v6h-18zM372 923h17v6h-17zM372 918h17v5h-17zM389 918h17v5h-17zM424 918h17v5h-17zM458 912h17v6h-17zM475 918h18v5h-18zM493 918h17v5h-17zM510 907h17v5h-17zM527 918h17v5h-17zM527 912h17v6h-17zM544 907h10v5h-10z"/>
<path fill="#b13676" d="M182 950h17v5h-17zM199 934h18v5h-18zM389 923h17v6h-17zM406 923h18v6h-18zM406 918h18v5h-18zM441 923h17v6h-17zM493 912h17v6h-17zM510 912h17v6h-17zM544 912h10v6h-10z"/>
<path fill="#b23676" d="M122 955h8v6h-8zM130 950h18v5h-18zM148 945h17v5h-17zM217 945h17v5h-17zM217 939h17v6h-17zM251 939h17v6h-17zM320 923h17v6h-17zM337 929h18v5h-18zM389 929h17v5h-17zM424 923h17v6h-17zM458 918h17v5h-17zM475 912h18v6h-18z"/>
<path fill="#b43776" d="M199 939h18v6h-18zM268 945h18v5h-18zM286 934h17v5h-17zM320 929h17v5h-17zM355 929h17v5h-17zM441 929h17v5h-17zM493 923h17v6h-17z"/>
<path fill="#b53776" d="M234 950h17v5h-17zM372 929h17v5h-17zM475 923h18v6h-18z"/>
<path fill="#b73776" d="M355 934h17v5h-17zM389 934h17v5h-17zM424 929h17v5h-17zM458 923h17v6h-17zM493 929h17v5h-17zM510 918h17v5h-17zM527 923h17v6h-17zM544 918h10v5h-10z"/>
<path fill="#b83775" d="M406 929h18v5h-18z"/>
<path fill="#b93875" d="M122 961h8v5h-8zM165 955h17v6h-17zM234 955h17v6h-17zM251 945h17v5h-17zM286 939h17v6h-17zM303 929h17v5h-17zM320 934h17v5h-17zM337 939h18v6h-18zM337 934h18v5h-18zM372 934h17v5h-17zM424 934h17v5h-17zM510 923h17v6h-17zM527 929h17v5h-17z"/>
<path fill="#bb3875" d="M130 955h18v6h-18zM148 950h17v5h-17zM182 955h17v6h-17zM217 950h17v5h-17zM389 939h17v6h-17zM544 923h10v6h-10z"/>
<path fill="#bc3875" d="M122 966h8v6h-8zM199 945h18v5h-18zM268 950h18v5h-18zM303 934h17v5h-17zM406 934h18v5h-18zM441 934h17v5h-17zM458 929h17v5h-17zM475 929h18v5h-18zM493 934h17v5h-17zM527 934h17v5h-17z"/>
<path fill="#be3874" d="M165 961h17v5h-17zM199 950h18v5h-18zM217 955h17v6h-17zM251 950h17v5h-17zM303 939h17v6h-17zM320 939h17v6h-17zM355 939h17v6h-17zM372 939h17v6h-17zM424 939h17v6h-17zM441 939h17v6h-17zM475 934h18v5h-18zM544 929h10v5h-10z"/>
<path fill="#bf3974" d="M234 961h17v5h-17z"/>
<path fill="#c03974" d="M122 972h8v5h-8zM286 945h17v5h-17zM337 945h18v5h-18zM406 939h18v6h-18zM493 939h17v6h-17zM510 929h17v5h-17z"/>
<path fill="#c23974" d="M130 961h18v5h-18zM148 955h17v6h-17zM268 955h18v6h-18zM355 945h17v5h-17zM372 945h17v5h-17zM389 945h17v5h-17zM424 945h17v5h-17zM458 934h17v5h-17zM510 934h17v5h-17zM527 939h17v6h-17z"/>
<path fill="#c33973" d="M217 961h17v5h-17zM234 966h17v6h-17zM268 961h18v5h-18zM441 945h17v5h-17zM475 939h18v6h-18z"/>
<path fill="#c53a73" d="M165 966h17v6h-17zM199 955h18v6h-18zM217 966h17v6h-17zM251 955h17v6h-17zM303 945h17v5h-17zM320 945h17v5h-17zM337 950h18v5h-18zM389 950h17v5h-17zM406 945h18v5h-18zM458 939h17v6h-17zM493 945h17v5h-17zM510 939h17v6h-17zM544 934h10v5h-10z"/>
<path fill="#c63a73" d="M148 961h17v5h-17zM182 961h17v5h-17zM286 950h17v5h-17zM441 950h17v5h-17zM475 945h18v5h-18zM527 945h17v5h-17z"/>
<path fill="#c73b73" d="M130 966h18v6h-18zM165 972h17v5h-17zM251 961h17v5h-17zM303 950h17v5h-17zM372 950h17v5h-17zM424 950h17v5h-17z"/>
<path fill="#c83c72" d="M286 955h17v6h-17zM458 945h17v5h-17z"/>
<path fill="#c93d72" d="M122 977h8v5h-8zM182 966h17v6h-17zM199 961h18v5h-18zM268 966h18v6h-18zM320 950h17v5h-17zM355 950h17v5h-17zM544 939h10v6h-10z"/>
<path fill="#c93e72" d="M182 972h17v5h-17zM234 977h17v5h-17zM337 955h18v6h-18zM355 955h17v6h-17zM527 950h17v5h-17z"/>
<path fill="#ca3f71" d="M251 966h17v6h-17zM286 961h17v5h-17zM372 955h17v6h-17zM389 955h17v6h-17zM406 950h18v5h-18zM493 950h17v5h-17zM544 945h10v5h-10z"/>
<path fill="#cb4071" d="M130 972h18v5h-18zM234 972h17v5h-17zM268 972h18v5h-18zM424 955h17v6h-17zM475 950h18v5h-18zM510 945h17v5h-17z"/>
<path fill="#cc4171" d="M303 955h17v6h-17zM406 955h18v6h-18zM458 950h17v5h-17zM493 955h17v6h-17zM510 950h17v5h-17z"/>
<path fill="#cd4270" d="M320 955h17v6h-17zM337 961h18v5h-18zM372 961h17v5h-17zM441 955h17v6h-17z"/>
<path fill="#ce4370" d="M122 982h8v6h-8zM165 977h17v5h-17zM355 961h17v5h-17zM389 961h17v5h-17zM475 955h18v6h-18zM527 955h17v6h-17z"/>
<path fill="#ce4370" d="M148 966h17v6h-17zM424 961h17v5h-17zM441 966h17v6h-17z"/>
<path fill="#cf446f" d="M148 972h17v5h-17zM199 966h18v6h-18zM217 972h17v5h-17zM372 966h17v6h-17zM527 961h17v5h-17zM544 950h10v5h-10z"/>
<path fill="#d0456f" d="M182 977h17v5h-17zM389 966h17v6h-17zM406 961h18v5h-18z"/>
<path fill="#d1466f" d="M251 972h17v5h-17zM303 961h17v5h-17zM355 966h17v6h-17zM458 955h17v6h-17z"/>
<path fill="#d2476e" d="M130 977h18v5h-18zM337 966h18v6h-18zM441 961h17v5h-17zM475 961h18v5h-18zM493 961h17v5h-17z"/>
<path fill="#d3486e" d="M122 988h8v5h-8zM148 977h17v5h-17zM199 972h18v5h-18zM286 966h17v6h-17zM320 961h17v5h-17zM406 966h18v6h-18zM424 966h17v6h-17zM510 955h17v6h-17z"/>
<path fill="#d3496e" d="M165 982h17v6h-17zM217 977h17v5h-17zM268 977h18v5h-18zM320 966h17v6h-17zM493 966h17v6h-17zM544 955h10v6h-10z"/>
<path fill="#d44a6d" d="M130 982h18v6h-18zM458 961h17v5h-17zM527 966h17v6h-17z"/>
<path fill="#d54b6d" d="M337 972h18v5h-18zM372 972h17v5h-17zM510 961h17v5h-17z"/>
<path fill="#d64c6c" d="M251 977h17v5h-17zM286 972h17v5h-17zM355 972h17v5h-17zM544 961h10v5h-10z"/>
<path fill="#d74d6c" d="M234 982h17v6h-17zM389 972h17v5h-17zM458 966h17v6h-17z"/>
<path fill="#d84e6c" d="M165 988h17v5h-17zM182 982h17v6h-17zM234 988h17v5h-17zM424 972h17v5h-17zM475 966h18v6h-18z"/>
<path fill="#d94f6b" d="M199 977h18v5h-18zM217 982h17v6h-17zM303 966h17v6h-17zM441 972h17v5h-17z"/>
<path fill="#d9506b" d="M148 982h17v6h-17zM475 972h18v5h-18zM493 972h17v5h-17zM527 972h17v5h-17z"/>
<path fill="#da516b" d="M182 988h17v5h-17zM268 982h18v6h-18zM320 972h17v5h-17zM406 972h18v5h-18z"/>
<path fill="#db526a" d="M130 988h18v5h-18zM251 982h17v6h-17zM268 988h18v5h-18zM510 966h17v6h-17zM544 966h10v6h-10z"/>
<path fill="#dc536a" d="M337 977h18v5h-18zM441 977h17v5h-17z"/>
<path fill="#dd546a" d="M251 988h17v5h-17zM372 977h17v5h-17z"/>
<path fill="#de5569" d="M148 988h17v5h-17zM217 988h17v5h-17zM303 972h17v5h-17z"/>
<path fill="#de5569" d="M199 982h18v6h-18zM389 977h17v5h-17zM424 977h17v5h-17zM441 982h17v6h-17z"/>
<path fill="#df5669" d="M122 993h8v5h-8zM286 977h17v5h-17zM355 977h17v5h-17zM389 982h17v6h-17zM458 972h17v5h-17zM510 972h17v5h-17zM527 977h17v5h-17z"/>
<path fill="#e05768" d="M286 982h17v6h-17zM406 977h18v5h-18z"/>
<path fill="#e15868" d="M199 988h18v5h-18zM337 982h18v6h-18zM355 982h17v6h-17zM493 977h17v5h-17zM544 972h10v5h-10z"/>
<path fill="#e25968" d="M320 977h17v5h-17zM493 982h17v6h-17z"/>
<path fill="#e35a67" d="M130 993h18v5h-18zM182 993h17v5h-17zM475 977h18v5h-18z"/>
<path fill="#e35b67" d="M165 993h17v5h-17zM234 993h17v5h-17zM303 977h17v5h-17z"/>
<path fill="#e45c67" d="M372 982h17v6h-17zM458 977h17v5h-17z"/>
<path fill="#e55d66" d="M303 982h17v6h-17zM424 982h17v6h-17z"/>
<path fill="#e65e66" d="M286 988h17v5h-17zM510 977h17v5h-17zM527 982h17v6h-17z"/>
<path fill="#e65f66" d="M320 982h17v6h-17zM337 988h18v5h-18zM389 988h17v5h-17zM475 982h18v6h-18z"/>
<path fill="#e66066" d="M441 988h17v5h-17z"/>
<path fill="#e66266" d="M268 993h18v5h-18zM355 988h17v5h-17zM406 982h18v6h-18z"/>
<path fill="#e76365" d="M148 993h17v5h-17zM217 993h17v5h-17zM458 982h17v6h-17z"/>
<path fill="#e76465" d="M544 977h10v5h-10z"/>
<path fill="#e76565" d="M251 993h17v5h-17zM372 988h17v5h-17zM424 988h17v5h-17z"/>
<path fill="#e76765" d="M493 988h17v5h-17zM510 982h17v6h-17z"/>
<path fill="#e76865" d="M122 998h8v6h-8z"/>
<path fill="#e76965" d="M303 988h17v5h-17zM406 988h18v5h-18z"/>
<path fill="#e76a65" d="M165 998h17v6h-17zM320 988h17v5h-17zM527 988h17v5h-17z"/>
<path fill="#e86d64" d="M199 993h18v5h-18zM234 998h17v6h-17zM286 993h17v5h-17zM458 988h17v5h-17zM475 988h18v5h-18zM544 982h10v6h-10z"/>
<path fill="#e86e64" d="M182 998h17v6h-17zM372 993h17v5h-17z"/>
<path fill="#e87064" d="M130 998h18v6h-18zM337 993h18v5h-18zM355 993h17v5h-17z"/>
<path fill="#e87164" d="M217 998h17v6h-17zM510 988h17v5h-17z"/>
<path fill="#e87364" d="M148 998h17v6h-17zM251 998h17v6h-17z"/>
<path fill="#e87464" d="M268 998h18v6h-18zM303 993h17v5h-17zM320 993h17v5h-17zM389 993h17v5h-17zM441 993h17v5h-17z"/>
<path fill="#e87564" d="M424 993h17v5h-17zM544 988h10v5h-10z"/>
<path fill="#e97663" d="M527 993h17v5h-17z"/>
<path fill="#e97863" d="M199 998h18v6h-18z"/>
<path fill="#e97b63" d="M493 993h17v5h-17z"/>
<path fill="#e97c63" d="M286 998h17v6h-17zM389 998h17v6h-17zM406 993h18v5h-18z"/>
<path fill="#e97e63" d="M458 993h17v5h-17z"/>
<path fill="#ea7f62" d="M475 993h18v5h-18z"/>
<path fill="#ea8062" d="M337 998h18v6h-18zM355 998h17v6h-17z"/>
<path fill="#ea8162" d="M441 998h17v6h-17zM510 993h17v5h-17z"/>
<path fill="#ea8362" d="M234 1004h17v5h-17zM372 998h17v6h-17z"/>
<path fill="#ea8462" d="M122 1004h8v5h-8zM424 998h17v6h-17zM527 998h17v6h-17z"/>
<path fill="#ea8562" d="M165 1004h17v5h-17z"/>
<path fill="#ea8662" d="M303 998h17v6h-17zM320 998h17v6h-17zM544 993h10v5h-10z"/>
<path fill="#ea8762" d="M251 1004h17v5h-17zM493 998h17v6h-17z"/>
<path fill="#eb8961" d="M406 998h18v6h-18z"/>
<path fill="#eb8a61" d="M182 1004h17v5h-17z"/>
<path fill="#eb8b61" d="M268 1004h18v5h-18z"/>
<path fill="#eb8d61" d="M130 1004h18v5h-18z"/>
<path fill="#eb8f61" d="M217 1004h17v5h-17zM475 998h18v6h-18z"/>
<path fill="#eb9061" d="M510 998h17v6h-17z"/>
<path fill="#eb9161" d="M148 1004h17v5h-17zM286 1004h17v5h-17zM458 998h17v6h-17z"/>
<path fill="#ec9260" d="M544 998h10v6h-10z"/>
<path fill="#ec9460" d="M389 1004h17v5h-17z"/>
<path fill="#ec9560" d="M337 1004h18v5h-18z"/>
<path fill="#ec9660" d="M355 1004h17v5h-17z"/>
<path fill="#ec9761" d="M199 1004h18v5h-18zM320 1004h17v5h-17zM372 1004h17v5h-17z"/>
<path fill="#ec9862" d="M303 1004h17v5h-17zM424 1004h17v5h-17zM441 1004h17v5h-17z"/>
<path fill="#ed9b64" d="M527 1004h17v5h-17z"/>
<path fill="#ed9d66" d="M406 1004h18v5h-18z"/>
<path fill="#ed9e67" d="M458 1004h17v5h-17z"/>
<path fill="#eda06a" d="M234 1009h17v4h-17zM493 1004h17v5h-17z"/>
<path fill="#eda16b" d="M122 1009h8v4h-8z"/>
<path fill="#eea46d" d="M268 1009h18v4h-18z"/>
<path fill="#eea56e" d="M165 1009h17v4h-17zM182 1009h17v4h-17zM475 1004h18v5h-18z"/>
<path fill="#eea66f" d="M251 1009h17v4h-17zM510 1004h17v5h-17z"/>
<path fill="#eea871" d="M217 1009h17v4h-17z"/>
<path fill="#eeaa73" d="M544 1004h10v5h-10z"/>
<path fill="#efac74" d="M130 1009h18v4h-18z"/>
<path fill="#efaf77" d="M148 1009h17v4h-17zM286 1009h17v4h-17z"/>
<path fill="#efb079" d="M199 1009h18v4h-18z"/>
<path fill="#efb17a" d="M337 1009h18v4h-18zM355 1009h17v4h-17zM389 1009h17v4h-17zM441 1009h17v4h-17z"/>
<path fill="#efb27b" d="M493 1009h17v4h-17z"/>
<path fill="#efb37c" d="M424 1009h17v4h-17z"/>
<path fill="#f0b57d" d="M527 1009h17v4h-17z"/>
<path fill="#f0b67e" d="M320 1009h17v4h-17zM372 1009h17v4h-17zM406 1009h18v4h-18z"/>
<path fill="#f0b77f" d="M303 1009h17v4h-17z"/>
<path fill="#f0b982" d="M475 1009h18v4h-18z"/>
<path fill="#f1bc86" d="M458 1009h17v4h-17z"/>
<path fill="#f1bd88" d="M510 1009h17v4h-17z"/>
<path fill="#f2c28f" d="M544 1009h10v4h-10z"/>
</g>
<path d="M122.6 888.1 L133.7 884.5 L144.7 881.1 L155.8 877.6 L166.9 874.2 L178.0 870.9 L189.0 867.6 L200.1 864.4 L211.2 861.2 L222.3 858.0 L233.3 854.9 L244.4 851.9 L255.5 848.8 L266.6 845.9 L277.6 843.0 L288.7 840.1 L299.8 837.3 L310.9 834.6 L321.9 831.9 L333.0 829.2 L344.1 826.6 L355.2 824.1 L366.2 821.6 L377.3 819.2 L388.4 816.8 L399.5 814.5 L410.5 812.2 L421.6 810.0 L432.7 807.9 L443.8 805.8 L454.8 803.7 L465.9 801.8 L477.0 799.9 L488.1 798.0 L499.1 796.2 L510.2 794.5 L521.3 792.8 L532.4 791.2 L543.4 789.7 L554.5 788.2" fill="none" stroke="#fff" stroke-width="2.2" stroke-dasharray="9.25 4" clip-path="url(#ccp)"/>
<path d="M122.6 936.8 L133.7 934.5 L144.7 932.3 L155.8 930.1 L166.9 928.0 L178.0 925.9 L189.0 923.9 L200.1 921.9 L211.2 919.9 L222.3 918.0 L233.3 916.2 L244.4 914.3 L255.5 912.5 L266.6 910.8 L277.6 909.0 L288.7 907.3 L299.8 905.7 L310.9 904.0 L321.9 902.4 L333.0 900.8 L344.1 899.2 L355.2 897.7 L366.2 896.1 L377.3 894.6 L388.4 893.1 L399.5 891.6 L410.5 890.1 L421.6 888.6 L432.7 887.2 L443.8 885.7 L454.8 884.3 L465.9 882.9 L477.0 881.4 L488.1 880.0 L499.1 878.5 L510.2 877.1 L521.3 875.7 L532.4 874.2 L543.4 872.7 L554.5 871.3" fill="none" stroke="#fff" stroke-width="2.2" stroke-dasharray="9.25 4" clip-path="url(#ccp)"/>
<clipPath id="cylc"><path d="M136.2 774 V927.8 A45.7 13.4 0 0 0 227.6 927.8 V774 A45.7 12.9 0 0 0 136.2 774 Z"/></clipPath>
<path d="M136.2 774 V927.8 A45.7 13.4 0 0 0 227.6 927.8 V774 A45.7 12.9 0 0 0 136.2 774 Z" fill="url(#cyl)" fill-opacity="0.8"/>
<path d="M122.6 888.1 L133.7 884.5 L144.7 881.1 L155.8 877.6 L166.9 874.2 L178.0 870.9 L189.0 867.6 L200.1 864.4 L211.2 861.2 L222.3 858.0 L233.3 854.9 L244.4 851.9 L255.5 848.8 L266.6 845.9 L277.6 843.0 L288.7 840.1 L299.8 837.3 L310.9 834.6 L321.9 831.9 L333.0 829.2 L344.1 826.6 L355.2 824.1 L366.2 821.6 L377.3 819.2 L388.4 816.8 L399.5 814.5 L410.5 812.2 L421.6 810.0 L432.7 807.9 L443.8 805.8 L454.8 803.7 L465.9 801.8 L477.0 799.9 L488.1 798.0 L499.1 796.2 L510.2 794.5 L521.3 792.8 L532.4 791.2 L543.4 789.7 L554.5 788.2" fill="none" stroke="#c3cde2" stroke-opacity="0.9" stroke-width="2.2" stroke-dasharray="9.25 4" clip-path="url(#cylc)"/>
<path d="M122.6 936.8 L133.7 934.5 L144.7 932.3 L155.8 930.1 L166.9 928.0 L178.0 925.9 L189.0 923.9 L200.1 921.9 L211.2 919.9 L222.3 918.0 L233.3 916.2 L244.4 914.3 L255.5 912.5 L266.6 910.8 L277.6 909.0 L288.7 907.3 L299.8 905.7 L310.9 904.0 L321.9 902.4 L333.0 900.8 L344.1 899.2 L355.2 897.7 L366.2 896.1 L377.3 894.6 L388.4 893.1 L399.5 891.6 L410.5 890.1 L421.6 888.6 L432.7 887.2 L443.8 885.7 L454.8 884.3 L465.9 882.9 L477.0 881.4 L488.1 880.0 L499.1 878.5 L510.2 877.1 L521.3 875.7 L532.4 874.2 L543.4 872.7 L554.5 871.3" fill="none" stroke="#c3cde2" stroke-opacity="0.9" stroke-width="2.2" stroke-dasharray="9.25 4" clip-path="url(#cylc)"/>
<ellipse cx="181.9" cy="774" rx="45.7" ry="12.9" fill="#72688a" stroke="#ddd3e6" stroke-width="1"/>
<path d="M136.2 927.8 A45.7 13.4 0 0 0 227.6 927.8" fill="none" stroke="#d9cfe4" stroke-width="1" stroke-opacity="0.8"/>
<path d="M136.2 927.8 A45.7 13.4 0 0 1 227.6 927.8" fill="none" stroke="#d9cfe4" stroke-width="0.8" stroke-opacity="0.5" stroke-dasharray="2 2"/>
<g fill="#e57ba2" fill-opacity="0.85"><ellipse cx="136.38" cy="790.71" rx="1.21" ry="2.7"/><ellipse cx="156.07" cy="788.81" rx="2.23" ry="2.7"/><ellipse cx="167.75" cy="791.63" rx="2.57" ry="2.7"/><ellipse cx="188.53" cy="789.11" rx="2.67" ry="2.7"/><ellipse cx="201.26" cy="786.62" rx="2.45" ry="2.7"/><ellipse cx="212.2" cy="787.84" rx="2.02" ry="2.7"/><ellipse cx="147.89" cy="797.62" rx="1.8" ry="2.7"/><ellipse cx="165.23" cy="799.09" rx="2.51" ry="2.7"/><ellipse cx="175.63" cy="797.38" rx="2.67" ry="2.7"/><ellipse cx="197.97" cy="803.65" rx="2.53" ry="2.7"/><ellipse cx="212.32" cy="802.54" rx="2.01" ry="2.7"/><ellipse cx="220.21" cy="799.96" rx="1.47" ry="2.7"/><ellipse cx="139.38" cy="810.54" rx="1.21" ry="2.7"/><ellipse cx="158.92" cy="812.82" rx="2.33" ry="2.7"/><ellipse cx="167.2" cy="816.86" rx="2.56" ry="2.7"/><ellipse cx="182.39" cy="817.85" rx="2.7" ry="2.7"/><ellipse cx="200.8" cy="814.47" rx="2.46" ry="2.7"/><ellipse cx="215.26" cy="813.86" rx="1.85" ry="2.7"/><ellipse cx="144.31" cy="822.33" rx="1.54" ry="2.7"/><ellipse cx="165.87" cy="824.11" rx="2.53" ry="2.7"/><ellipse cx="180.56" cy="823.88" rx="2.7" ry="2.7"/><ellipse cx="197.71" cy="830.05" rx="2.53" ry="2.7"/><ellipse cx="211.24" cy="828.87" rx="2.07" ry="2.7"/><ellipse cx="225.13" cy="828.57" rx="1.21" ry="2.7"/><ellipse cx="136" cy="838.79" rx="1.21" ry="2.7"/><ellipse cx="157.8" cy="836.31" rx="2.29" ry="2.7"/><ellipse cx="174.12" cy="842.49" rx="2.66" ry="2.7"/><ellipse cx="184.95" cy="837.79" rx="2.69" ry="2.7"/><ellipse cx="200.78" cy="837.97" rx="2.46" ry="2.7"/><ellipse cx="221.13" cy="837.98" rx="1.39" ry="2.7"/><ellipse cx="142.87" cy="847.84" rx="1.4" ry="2.7"/><ellipse cx="164.54" cy="855.94" rx="2.5" ry="2.7"/><ellipse cx="178" cy="851.42" rx="2.69" ry="2.7"/><ellipse cx="193.95" cy="853.73" rx="2.6" ry="2.7"/><ellipse cx="206.44" cy="852.48" rx="2.28" ry="2.7"/><ellipse cx="224.91" cy="852.6" rx="1.21" ry="2.7"/><ellipse cx="136.53" cy="861.03" rx="1.21" ry="2.7"/><ellipse cx="153.49" cy="867.84" rx="2.11" ry="2.7"/><ellipse cx="168.93" cy="864.88" rx="2.59" ry="2.7"/><ellipse cx="184.02" cy="860.43" rx="2.7" ry="2.7"/><ellipse cx="197.31" cy="866.82" rx="2.54" ry="2.7"/><ellipse cx="219.17" cy="862.87" rx="1.56" ry="2.7"/><ellipse cx="148.78" cy="878.08" rx="1.86" ry="2.7"/><ellipse cx="166.17" cy="880.62" rx="2.54" ry="2.7"/><ellipse cx="177.2" cy="880.9" rx="2.69" ry="2.7"/><ellipse cx="197.64" cy="877.31" rx="2.53" ry="2.7"/><ellipse cx="212.39" cy="876.42" rx="2.01" ry="2.7"/><ellipse cx="223.28" cy="874.22" rx="1.21" ry="2.7"/><ellipse cx="142.78" cy="885.96" rx="1.4" ry="2.7"/><ellipse cx="150.98" cy="891.75" rx="1.99" ry="2.7"/><ellipse cx="172.77" cy="888.85" rx="2.65" ry="2.7"/><ellipse cx="188.8" cy="884.97" rx="2.67" ry="2.7"/><ellipse cx="199.04" cy="887.11" rx="2.5" ry="2.7"/><ellipse cx="215.95" cy="886.04" rx="1.8" ry="2.7"/><ellipse cx="143.25" cy="900.04" rx="1.44" ry="2.7"/><ellipse cx="166.17" cy="905.85" rx="2.54" ry="2.7"/><ellipse cx="180.25" cy="901.31" rx="2.7" ry="2.7"/><ellipse cx="191.26" cy="905.63" rx="2.64" ry="2.7"/><ellipse cx="209.18" cy="903.56" rx="2.17" ry="2.7"/><ellipse cx="220.16" cy="898.91" rx="1.48" ry="2.7"/><ellipse cx="142.44" cy="916.66" rx="1.36" ry="2.7"/><ellipse cx="158.29" cy="914.91" rx="2.31" ry="2.7"/><ellipse cx="169.64" cy="914.73" rx="2.6" ry="2.7"/><ellipse cx="188.91" cy="912.27" rx="2.67" ry="2.7"/><ellipse cx="201.53" cy="911.98" rx="2.44" ry="2.7"/><ellipse cx="219.09" cy="909.59" rx="1.57" ry="2.7"/><ellipse cx="148.79" cy="930.59" rx="1.86" ry="2.7"/><ellipse cx="158.29" cy="927.34" rx="2.31" ry="2.7"/><ellipse cx="179.33" cy="929.67" rx="2.7" ry="2.7"/><ellipse cx="194.25" cy="924.31" rx="2.6" ry="2.7"/><ellipse cx="208.1" cy="930.63" rx="2.21" ry="2.7"/><ellipse cx="228.05" cy="923.2" rx="1.21" ry="2.7"/></g>
<path d="M181.4 773.7V928" stroke="#3a3a4a" stroke-opacity="0.75" stroke-width="0.8" stroke-dasharray="2.5 1.5"/>
<path d="M146.9 780.3L181.4 773.7" stroke="#333" stroke-width="1" stroke-dasharray="2.5 1.5"/>
<circle cx="182" cy="858" r="4" fill="#d9804e"/>
<text x="156" y="775.7" font-size="19" fill="#222" stroke="#222">r</text>
<text x="425.4" y="785.2" font-size="24.5" fill="#fff" stroke="#fff" textLength="32" lengthAdjust="spacingAndGlyphs">1%</text>
<text x="425.4" y="871.1" font-size="24.5" fill="#fff" stroke="#fff" textLength="45" lengthAdjust="spacingAndGlyphs">10%</text>
<path d="M122.2 762.9h-4.2" stroke="#222" stroke-width="1.2"/>
<path d="M122.2 816.6h-4.2" stroke="#222" stroke-width="1.2"/>
<path d="M122.2 870.3h-4.2" stroke="#222" stroke-width="1.2"/>
<path d="M122.2 924h-4.2" stroke="#222" stroke-width="1.2"/>
<path d="M122.2 977.7h-4.2" stroke="#222" stroke-width="1.2"/>
<path d="M166 1013.3v4.2" stroke="#222" stroke-width="1.2"/>
<path d="M252.3 1013.3v4.2" stroke="#222" stroke-width="1.2"/>
<path d="M338.6 1013.3v4.2" stroke="#222" stroke-width="1.2"/>
<path d="M424.9 1013.3v4.2" stroke="#222" stroke-width="1.2"/>
<path d="M511.2 1013.3v4.2" stroke="#222" stroke-width="1.2"/>
<rect x="122.2" y="755" width="432.2" height="258.3" fill="none" stroke="#1a1a1a" stroke-width="1.3"/>
<rect x="582.55" y="31.5" width="13" height="264.8" fill="url(#cb)" stroke="#1a1a1a" stroke-width="1.1"/>
<rect x="581.8" y="391.8" width="13" height="258" fill="url(#cb)" stroke="#1a1a1a" stroke-width="1.1"/>
<rect x="581.8" y="755" width="13" height="258.3" fill="url(#cb)" stroke="#1a1a1a" stroke-width="1.1"/>
<path d="M595.55 53.6h4.5" stroke="#1a1a1a" stroke-width="1.2"/>
<text x="604.3" y="62.7" font-size="24.5" stroke="#000">0.8</text>
<path d="M595.55 79.2h4.5" stroke="#1a1a1a" stroke-width="1.2"/>
<text x="604.3" y="88.3" font-size="24.5" stroke="#000">0.6</text>
<path d="M595.55 111.8h4.5" stroke="#1a1a1a" stroke-width="1.2"/>
<text x="604.3" y="120.9" font-size="24.5" stroke="#000">0.4</text>
<path d="M595.55 156.6h4.5" stroke="#1a1a1a" stroke-width="1.2"/>
<text x="604.3" y="165.7" font-size="24.5" stroke="#000">0.2</text>
<path d="M595.55 296.3h4.5" stroke="#1a1a1a" stroke-width="1.2"/>
<text x="604.3" y="305.4" font-size="24.5" stroke="#000">0.0</text>
<path d="M594.8 414.6h4.5" stroke="#1a1a1a" stroke-width="1.2"/>
<text x="603.55" y="423.7" font-size="24.5" stroke="#000">200</text>
<path d="M594.8 454.3h4.5" stroke="#1a1a1a" stroke-width="1.2"/>
<text x="603.55" y="463.4" font-size="24.5" stroke="#000">100</text>
<path d="M594.8 504.2h4.5" stroke="#1a1a1a" stroke-width="1.2"/>
<text x="603.55" y="513.3" font-size="24.5" stroke="#000">50</text>
<path d="M594.8 649.8h4.5" stroke="#1a1a1a" stroke-width="1.2"/>
<text x="603.55" y="658.9" font-size="24.5" stroke="#000">35</text>
<path d="M594.8 775.1h4.5" stroke="#1a1a1a" stroke-width="1.2"/>
<text x="603.55" y="784.2" font-size="24.5" stroke="#000">600</text>
<path d="M594.8 804.3h4.5" stroke="#1a1a1a" stroke-width="1.2"/>
<text x="603.55" y="813.4" font-size="24.5" stroke="#000">400</text>
<path d="M594.8 848.8h4.5" stroke="#1a1a1a" stroke-width="1.2"/>
<text x="603.55" y="857.9" font-size="24.5" stroke="#000">200</text>
<path d="M594.8 1013.3h4.5" stroke="#1a1a1a" stroke-width="1.2"/>
<text x="603.55" y="1022.4" font-size="24.5" stroke="#000">35</text>
<text x="118" y="40.7" font-size="24.5" text-anchor="end" stroke="#000">1000</text>
<text x="118" y="95.7" font-size="24.5" text-anchor="end" stroke="#000">800</text>
<text x="118" y="150.5" font-size="24.5" text-anchor="end" stroke="#000">600</text>
<text x="118" y="205.4" font-size="24.5" text-anchor="end" stroke="#000">400</text>
<text x="118" y="260.7" font-size="24.5" text-anchor="end" stroke="#000">200</text>
<text x="204.8" y="318.6" font-size="24.5" text-anchor="middle" stroke="#000">20</text>
<text x="291.5" y="318.6" font-size="24.5" text-anchor="middle" stroke="#000">40</text>
<text x="378.2" y="318.6" font-size="24.5" text-anchor="middle" stroke="#000">60</text>
<text x="464.9" y="318.6" font-size="24.5" text-anchor="middle" stroke="#000">80</text>
<text x="551.6" y="318.6" font-size="24.5" text-anchor="middle" stroke="#000">100</text>
<text x="114.4" y="416.9" font-size="24.5" text-anchor="end" stroke="#000">30</text>
<text x="114.4" y="508.7" font-size="24.5" text-anchor="end" stroke="#000">20</text>
<text x="114.4" y="600.5" font-size="24.5" text-anchor="end" stroke="#000">10</text>
<text x="114.4" y="771.8" font-size="24.5" text-anchor="end" stroke="#000">50</text>
<text x="114.4" y="825.5" font-size="24.5" text-anchor="end" stroke="#000">40</text>
<text x="114.4" y="879.2" font-size="24.5" text-anchor="end" stroke="#000">30</text>
<text x="114.4" y="933" font-size="24.5" text-anchor="end" stroke="#000">20</text>
<text x="114.4" y="986.7" font-size="24.5" text-anchor="end" stroke="#000">10</text>
<text x="166.4" y="676" font-size="24.5" text-anchor="middle" stroke="#000">6000</text>
<text x="252.7" y="676" font-size="24.5" text-anchor="middle" stroke="#000">8000</text>
<text x="339" y="676" font-size="24.5" text-anchor="middle" stroke="#000">10000</text>
<text x="425.3" y="676" font-size="24.5" text-anchor="middle" stroke="#000">12000</text>
<text x="511.6" y="676" font-size="24.5" text-anchor="middle" stroke="#000">14000</text>
<text x="166.4" y="1039.8" font-size="24.5" text-anchor="middle" stroke="#000">6000</text>
<text x="252.7" y="1039.8" font-size="24.5" text-anchor="middle" stroke="#000">8000</text>
<text x="339" y="1039.8" font-size="24.5" text-anchor="middle" stroke="#000">10000</text>
<text x="425.3" y="1039.8" font-size="24.5" text-anchor="middle" stroke="#000">12000</text>
<text x="511.6" y="1039.8" font-size="24.5" text-anchor="middle" stroke="#000">14000</text>
<text x="-2.7" y="22.9" font-size="41" stroke="#000" textLength="20.2" lengthAdjust="spacingAndGlyphs">a</text>
<text x="-1.73" y="385.4" font-size="42" stroke="#000" textLength="22.3" lengthAdjust="spacingAndGlyphs">b</text>
<text x="-1.04" y="749.1" font-size="42" stroke="#000">c</text>
<text x="201.39" y="354.8" font-size="33.5" stroke="#000" textLength="107.12" lengthAdjust="spacingAndGlyphs">Density</text>
<text x="325.42" y="354.8" font-size="33.5" stroke="#000" textLength="18.02" lengthAdjust="spacingAndGlyphs">&#961;</text>
<text x="343.59" y="359.5" font-size="23" stroke="#000" textLength="39.89" lengthAdjust="spacingAndGlyphs">trap</text>
<text x="391.8" y="354.8" font-size="33.5" stroke="#000" textLength="86.76" lengthAdjust="spacingAndGlyphs">(ppm)</text>
<text x="203.7" y="711.2" font-size="33.5" stroke="#000" textLength="106.52" lengthAdjust="spacingAndGlyphs">Density</text>
<text x="326.26" y="711.2" font-size="33.5" stroke="#000" textLength="18.26" lengthAdjust="spacingAndGlyphs">&#961;</text>
<text x="345.15" y="698.7" font-size="19" stroke="#000" textLength="10.28" lengthAdjust="spacingAndGlyphs">s</text>
<text x="344.51" y="718" font-size="23" stroke="#000" textLength="37.39" lengthAdjust="spacingAndGlyphs">trap</text>
<text x="390.38" y="711.2" font-size="33.5" stroke="#000" textLength="84.62" lengthAdjust="spacingAndGlyphs">(ppm)</text>
<text x="203.7" y="1075.4" font-size="33.5" stroke="#000" textLength="106.52" lengthAdjust="spacingAndGlyphs">Density</text>
<text x="326.26" y="1075.4" font-size="33.5" stroke="#000" textLength="18.26" lengthAdjust="spacingAndGlyphs">&#961;</text>
<text x="345.15" y="1062.9" font-size="19" stroke="#000" textLength="10.28" lengthAdjust="spacingAndGlyphs">s</text>
<text x="344.51" y="1082.2" font-size="23" stroke="#000" textLength="37.39" lengthAdjust="spacingAndGlyphs">trap</text>
<text x="390.38" y="1075.4" font-size="33.5" stroke="#000" textLength="84.62" lengthAdjust="spacingAndGlyphs">(ppm)</text>
<text transform="translate(49.9 281.86) rotate(-90)" font-size="33.5" stroke="#000" textLength="236.67" lengthAdjust="spacingAndGlyphs">Linewidth (MHz)</text>
<text transform="translate(75.8 614.61) rotate(-90)" font-size="34" stroke="#000" textLength="187.35" lengthAdjust="spacingAndGlyphs">Depth d (nm)</text>
<text transform="translate(75.4 1011.48) rotate(-90)" font-size="34" stroke="#000" textLength="253.75" lengthAdjust="spacingAndGlyphs">Cyl..Radius r (nm)</text>
<text transform="translate(657.4 87.3) rotate(90)" font-size="33" stroke="#000" textLength="152.19" lengthAdjust="spacingAndGlyphs">Probability</text>
<text transform="translate(659.7 407.58) rotate(90)" font-size="32.4" stroke="#000" textLength="225.79" lengthAdjust="spacingAndGlyphs">Linewidth (MHz)</text>
<text transform="translate(659.7 770.67) rotate(90)" font-size="32.4" stroke="#000" textLength="225.8" lengthAdjust="spacingAndGlyphs">Linewidth (MHz)</text>
</svg>
</body></html>
